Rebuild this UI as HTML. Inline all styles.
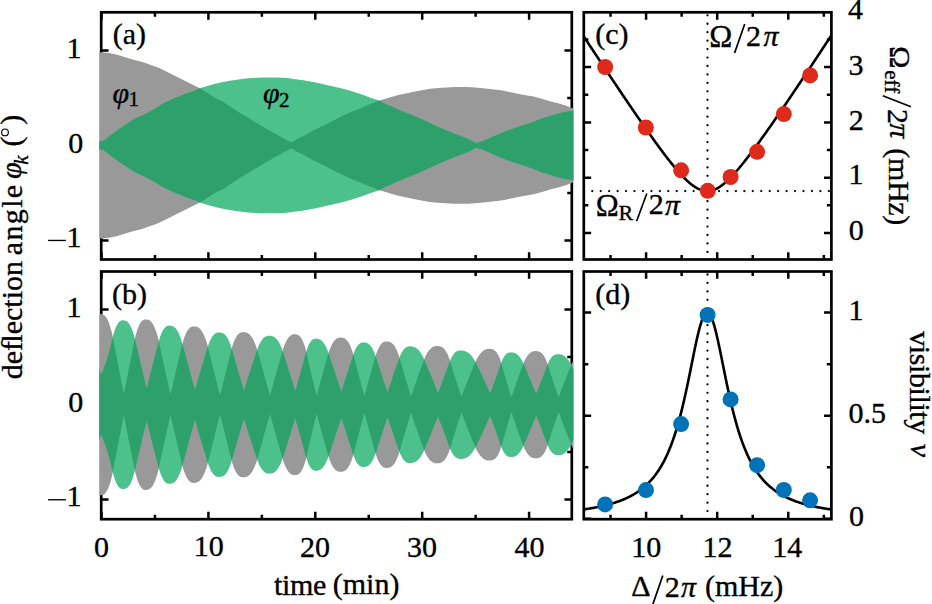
<!DOCTYPE html>
<html><head><meta charset="utf-8"><title>figure</title><style>html,body{margin:0;padding:0;background:#fff;overflow:hidden}svg{display:block}text{font-family:"Liberation Serif",serif;stroke:#000;stroke-width:0.35px}</style></head><body>
<svg width="932" height="604" viewBox="0 0 932 604" font-family="'Liberation Serif', serif">
<rect width="932" height="604" fill="#fff"/>
<rect x="101.2" y="12.3" width="470.6" height="247.2" fill="none" stroke="#000" stroke-width="2.7"/>
<path d="M101.5,259.5v-7.35M101.5,12.3v7.35M154.95,259.5v-4.55M154.95,12.3v4.55M208.4,259.5v-7.35M208.4,12.3v7.35M261.85,259.5v-4.55M261.85,12.3v4.55M315.3,259.5v-7.35M315.3,12.3v7.35M368.75,259.5v-4.55M368.75,12.3v4.55M422.2,259.5v-7.35M422.2,12.3v7.35M475.65,259.5v-4.55M475.65,12.3v4.55M529.1,259.5v-7.35M529.1,12.3v7.35" stroke="#000" stroke-width="2.5" fill="none"/>
<path d="M101.2,240.4h7.35M571.8,240.4h-7.35M101.2,192.9h4.55M571.8,192.9h-4.55M101.2,145.4h7.35M571.8,145.4h-7.35M101.2,97.9h4.55M571.8,97.9h-4.55M101.2,50.4h7.35M571.8,50.4h-7.35" stroke="#000" stroke-width="2.5" fill="none"/>
<rect x="101.2" y="271.5" width="470.6" height="247.7" fill="none" stroke="#000" stroke-width="2.7"/>
<path d="M101.5,519.2v-7.35M101.5,271.5v7.35M154.95,519.2v-4.55M154.95,271.5v4.55M208.4,519.2v-7.35M208.4,271.5v7.35M261.85,519.2v-4.55M261.85,271.5v4.55M315.3,519.2v-7.35M315.3,271.5v7.35M368.75,519.2v-4.55M368.75,271.5v4.55M422.2,519.2v-7.35M422.2,271.5v7.35M475.65,519.2v-4.55M475.65,271.5v4.55M529.1,519.2v-7.35M529.1,271.5v7.35" stroke="#000" stroke-width="2.5" fill="none"/>
<path d="M101.2,499.6h7.35M571.8,499.6h-7.35M101.2,452.1h4.55M571.8,452.1h-4.55M101.2,404.6h7.35M571.8,404.6h-7.35M101.2,357.1h4.55M571.8,357.1h-4.55M101.2,309.6h7.35M571.8,309.6h-7.35" stroke="#000" stroke-width="2.5" fill="none"/>
<path d="M99.3,52.2 L99.8,52.2 L100.3,52.2 L100.8,52.21 L101.3,52.23 L101.8,52.26 L102.3,52.29 L102.8,52.33 L103.3,52.38 L103.8,52.43 L104.3,52.48 L104.8,52.54 L105.3,52.6 L105.8,52.67 L106.3,52.73 L106.8,52.8 L107.3,52.87 L107.8,52.93 L108.3,53 L108.8,53.07 L109.3,53.14 L109.8,53.21 L110.3,53.3 L110.8,53.38 L111.3,53.47 L111.8,53.56 L112.3,53.66 L112.8,53.76 L113.3,53.86 L113.8,53.97 L114.3,54.07 L114.8,54.19 L115.3,54.3 L115.8,54.41 L116.3,54.53 L116.8,54.65 L117.3,54.77 L117.8,54.91 L118.3,55.05 L118.8,55.19 L119.3,55.34 L119.8,55.5 L120.3,55.65 L120.8,55.81 L121.3,55.98 L121.8,56.14 L122.3,56.3 L122.8,56.47 L123.3,56.63 L123.8,56.79 L124.3,56.95 L124.8,57.1 L125.3,57.25 L125.8,57.41 L126.3,57.56 L126.8,57.71 L127.3,57.87 L127.8,58.02 L128.3,58.18 L128.8,58.33 L129.3,58.49 L129.8,58.64 L130.3,58.79 L130.8,58.94 L131.3,59.09 L131.8,59.23 L132.3,59.38 L132.8,59.52 L133.3,59.65 L133.8,59.79 L134.3,59.92 L134.8,60.04 L135.3,60.17 L135.8,60.29 L136.3,60.41 L136.8,60.52 L137.3,60.64 L137.8,60.76 L138.3,60.88 L138.8,61 L139.3,61.13 L139.8,61.26 L140.3,61.39 L140.8,61.53 L141.3,61.67 L141.8,61.82 L142.3,61.97 L142.8,62.13 L143.3,62.3 L143.8,62.47 L144.3,62.64 L144.8,62.82 L145.3,63 L145.8,63.18 L146.3,63.36 L146.8,63.55 L147.3,63.73 L147.8,63.91 L148.3,64.1 L148.8,64.28 L149.3,64.46 L149.8,64.64 L150.3,64.81 L150.8,64.98 L151.3,65.15 L151.8,65.32 L152.3,65.49 L152.8,65.66 L153.3,65.83 L153.8,66 L154.3,66.17 L154.8,66.34 L155.3,66.52 L155.8,66.7 L156.3,66.88 L156.8,67.07 L157.3,67.26 L157.8,67.46 L158.3,67.66 L158.8,67.88 L159.3,68.1 L159.8,68.32 L160.3,68.56 L160.8,68.79 L161.3,69.03 L161.8,69.27 L162.3,69.52 L162.8,69.76 L163.3,70 L163.8,70.24 L164.3,70.49 L164.8,70.74 L165.3,70.99 L165.8,71.24 L166.3,71.49 L166.8,71.75 L167.3,72 L167.8,72.26 L168.3,72.51 L168.8,72.77 L169.3,73.03 L169.8,73.29 L170.3,73.54 L170.8,73.8 L171.3,74.05 L171.8,74.3 L172.3,74.55 L172.8,74.8 L173.3,75.05 L173.8,75.3 L174.3,75.55 L174.8,75.8 L175.3,76.05 L175.8,76.3 L176.3,76.55 L176.8,76.8 L177.3,77.05 L177.8,77.3 L178.3,77.55 L178.8,77.8 L179.3,78.05 L179.8,78.3 L180.3,78.55 L180.8,78.8 L181.3,79.06 L181.8,79.31 L182.3,79.56 L182.8,79.82 L183.3,80.07 L183.8,80.33 L184.3,80.58 L184.8,80.84 L185.3,81.09 L185.8,81.34 L186.3,81.59 L186.8,81.85 L187.3,82.1 L187.8,82.35 L188.3,82.6 L188.8,82.85 L189.3,83.1 L189.8,83.34 L190.3,83.59 L190.8,83.83 L191.3,84.08 L191.8,84.32 L192.3,84.57 L192.8,84.81 L193.3,85.06 L193.8,85.3 L194.3,85.55 L194.8,85.8 L195.3,86.05 L195.8,86.3 L196.3,86.55 L196.8,86.8 L197.3,87.05 L197.8,87.31 L198.3,87.56 L198.8,87.82 L199.3,88.08 L199.8,88.35 L200.3,88.63 L200.8,88.91 L201.3,89.19 L201.8,89.48 L202.3,89.77 L202.8,90.06 L203.3,90.36 L203.8,90.66 L204.3,90.96 L204.8,91.26 L205.3,91.57 L205.8,91.88 L206.3,92.2 L206.8,92.53 L207.3,92.86 L207.8,93.19 L208.3,93.52 L208.8,93.86 L209.3,94.19 L209.8,94.53 L210.3,94.87 L210.8,95.2 L211.3,95.53 L211.8,95.86 L212.3,96.18 L212.8,96.49 L213.3,96.8 L213.8,97.11 L214.3,97.4 L214.8,97.69 L215.3,97.96 L215.8,98.23 L216.3,98.49 L216.8,98.73 L217.3,98.97 L217.8,99.21 L218.3,99.44 L218.8,99.67 L219.3,99.9 L219.8,100.13 L220.3,100.37 L220.8,100.6 L221.3,100.85 L221.8,101.1 L222.3,101.35 L222.8,101.62 L223.3,101.9 L223.8,102.19 L224.3,102.49 L224.8,102.81 L225.3,103.13 L225.8,103.46 L226.3,103.8 L226.8,104.15 L227.3,104.49 L227.8,104.85 L228.3,105.2 L228.8,105.56 L229.3,105.91 L229.8,106.26 L230.3,106.61 L230.8,106.96 L231.3,107.3 L231.8,107.63 L232.3,107.97 L232.8,108.3 L233.3,108.64 L233.8,108.97 L234.3,109.31 L234.8,109.64 L235.3,109.98 L235.8,110.31 L236.3,110.64 L236.8,110.97 L237.3,111.3 L237.8,111.63 L238.3,111.95 L238.8,112.27 L239.3,112.59 L239.8,112.9 L240.3,113.21 L240.8,113.51 L241.3,113.82 L241.8,114.12 L242.3,114.41 L242.8,114.71 L243.3,115 L243.8,115.29 L244.3,115.58 L244.8,115.87 L245.3,116.16 L245.8,116.45 L246.3,116.74 L246.8,117.03 L247.3,117.33 L247.8,117.62 L248.3,117.92 L248.8,118.22 L249.3,118.52 L249.8,118.82 L250.3,119.12 L250.8,119.42 L251.3,119.72 L251.8,120.02 L252.3,120.32 L252.8,120.63 L253.3,120.93 L253.8,121.23 L254.3,121.53 L254.8,121.83 L255.3,122.14 L255.8,122.44 L256.3,122.74 L256.8,123.04 L257.3,123.34 L257.8,123.65 L258.3,123.95 L258.8,124.25 L259.3,124.55 L259.8,124.86 L260.3,125.16 L260.8,125.46 L261.3,125.76 L261.8,126.06 L262.3,126.37 L262.8,126.67 L263.3,126.97 L263.8,127.26 L264.3,127.56 L264.8,127.86 L265.3,128.16 L265.8,128.45 L266.3,128.75 L266.8,129.04 L267.3,129.34 L267.8,129.63 L268.3,129.92 L268.8,130.21 L269.3,130.5 L269.8,130.79 L270.3,131.07 L270.8,131.35 L271.3,131.62 L271.8,131.9 L272.3,132.17 L272.8,132.44 L273.3,132.71 L273.8,132.98 L274.3,133.25 L274.8,133.52 L275.3,133.79 L275.8,134.06 L276.3,134.33 L276.8,134.61 L277.3,134.89 L277.8,135.17 L278.3,135.45 L278.8,135.73 L279.3,136.02 L279.8,136.3 L280.3,136.58 L280.8,136.87 L281.3,137.15 L281.8,137.43 L282.3,137.71 L282.8,137.98 L283.3,138.25 L283.8,138.53 L284.3,138.8 L284.8,139.07 L285.3,139.35 L285.8,139.62 L286.3,139.88 L286.8,140.15 L287.3,140.41 L287.8,140.66 L288.3,140.9 L288.8,141.15 L289.3,141.44 L289.8,141.73 L290.3,141.98 L290.8,142.15 L291.3,142.2 L291.8,142.1 L292.3,141.89 L292.8,141.61 L293.3,141.3 L293.8,141.01 L294.3,140.74 L294.8,140.47 L295.3,140.18 L295.8,139.89 L296.3,139.61 L296.8,139.34 L297.3,139.07 L297.8,138.81 L298.3,138.55 L298.8,138.3 L299.3,138.04 L299.8,137.79 L300.3,137.54 L300.8,137.29 L301.3,137.03 L301.8,136.78 L302.3,136.52 L302.8,136.26 L303.3,135.99 L303.8,135.73 L304.3,135.46 L304.8,135.19 L305.3,134.91 L305.8,134.64 L306.3,134.36 L306.8,134.09 L307.3,133.81 L307.8,133.54 L308.3,133.26 L308.8,132.99 L309.3,132.72 L309.8,132.45 L310.3,132.17 L310.8,131.9 L311.3,131.63 L311.8,131.35 L312.3,131.08 L312.8,130.8 L313.3,130.53 L313.8,130.26 L314.3,129.99 L314.8,129.72 L315.3,129.46 L315.8,129.2 L316.3,128.95 L316.8,128.7 L317.3,128.46 L317.8,128.22 L318.3,127.98 L318.8,127.75 L319.3,127.51 L319.8,127.28 L320.3,127.05 L320.8,126.83 L321.3,126.6 L321.8,126.36 L322.3,126.13 L322.8,125.9 L323.3,125.66 L323.8,125.42 L324.3,125.18 L324.8,124.94 L325.3,124.71 L325.8,124.47 L326.3,124.23 L326.8,123.99 L327.3,123.74 L327.8,123.5 L328.3,123.25 L328.8,123 L329.3,122.75 L329.8,122.5 L330.3,122.24 L330.8,121.97 L331.3,121.7 L331.8,121.43 L332.3,121.15 L332.8,120.87 L333.3,120.6 L333.8,120.32 L334.3,120.04 L334.8,119.77 L335.3,119.49 L335.8,119.22 L336.3,118.96 L336.8,118.7 L337.3,118.45 L337.8,118.2 L338.3,117.95 L338.8,117.71 L339.3,117.47 L339.8,117.23 L340.3,116.99 L340.8,116.75 L341.3,116.52 L341.8,116.28 L342.3,116.05 L342.8,115.82 L343.3,115.59 L343.8,115.36 L344.3,115.12 L344.8,114.89 L345.3,114.66 L345.8,114.43 L346.3,114.19 L346.8,113.96 L347.3,113.73 L347.8,113.49 L348.3,113.26 L348.8,113.03 L349.3,112.8 L349.8,112.57 L350.3,112.35 L350.8,112.13 L351.3,111.91 L351.8,111.69 L352.3,111.48 L352.8,111.28 L353.3,111.08 L353.8,110.88 L354.3,110.69 L354.8,110.5 L355.3,110.32 L355.8,110.13 L356.3,109.95 L356.8,109.77 L357.3,109.58 L357.8,109.4 L358.3,109.21 L358.8,109.02 L359.3,108.82 L359.8,108.62 L360.3,108.42 L360.8,108.2 L361.3,107.98 L361.8,107.75 L362.3,107.52 L362.8,107.29 L363.3,107.06 L363.8,106.83 L364.3,106.61 L364.8,106.39 L365.3,106.17 L365.8,105.96 L366.3,105.75 L366.8,105.54 L367.3,105.34 L367.8,105.13 L368.3,104.93 L368.8,104.73 L369.3,104.52 L369.8,104.32 L370.3,104.12 L370.8,103.92 L371.3,103.72 L371.8,103.52 L372.3,103.32 L372.8,103.11 L373.3,102.9 L373.8,102.69 L374.3,102.48 L374.8,102.28 L375.3,102.07 L375.8,101.86 L376.3,101.66 L376.8,101.47 L377.3,101.27 L377.8,101.09 L378.3,100.91 L378.8,100.73 L379.3,100.57 L379.8,100.41 L380.3,100.26 L380.8,100.12 L381.3,99.98 L381.8,99.84 L382.3,99.71 L382.8,99.58 L383.3,99.44 L383.8,99.31 L384.3,99.17 L384.8,99.03 L385.3,98.88 L385.8,98.73 L386.3,98.58 L386.8,98.43 L387.3,98.28 L387.8,98.13 L388.3,97.97 L388.8,97.82 L389.3,97.66 L389.8,97.51 L390.3,97.36 L390.8,97.21 L391.3,97.06 L391.8,96.91 L392.3,96.76 L392.8,96.61 L393.3,96.46 L393.8,96.31 L394.3,96.16 L394.8,96.01 L395.3,95.86 L395.8,95.72 L396.3,95.57 L396.8,95.44 L397.3,95.3 L397.8,95.17 L398.3,95.05 L398.8,94.93 L399.3,94.82 L399.8,94.71 L400.3,94.6 L400.8,94.5 L401.3,94.39 L401.8,94.29 L402.3,94.19 L402.8,94.09 L403.3,93.99 L403.8,93.89 L404.3,93.78 L404.8,93.68 L405.3,93.57 L405.8,93.47 L406.3,93.36 L406.8,93.26 L407.3,93.15 L407.8,93.05 L408.3,92.94 L408.8,92.84 L409.3,92.73 L409.8,92.63 L410.3,92.53 L410.8,92.42 L411.3,92.32 L411.8,92.22 L412.3,92.12 L412.8,92.01 L413.3,91.91 L413.8,91.81 L414.3,91.71 L414.8,91.61 L415.3,91.51 L415.8,91.41 L416.3,91.31 L416.8,91.21 L417.3,91.11 L417.8,91.01 L418.3,90.92 L418.8,90.82 L419.3,90.73 L419.8,90.64 L420.3,90.54 L420.8,90.45 L421.3,90.36 L421.8,90.26 L422.3,90.17 L422.8,90.07 L423.3,89.97 L423.8,89.88 L424.3,89.78 L424.8,89.69 L425.3,89.6 L425.8,89.5 L426.3,89.41 L426.8,89.32 L427.3,89.24 L427.8,89.15 L428.3,89.07 L428.8,88.99 L429.3,88.92 L429.8,88.85 L430.3,88.78 L430.8,88.71 L431.3,88.65 L431.8,88.6 L432.3,88.55 L432.8,88.5 L433.3,88.45 L433.8,88.4 L434.3,88.36 L434.8,88.31 L435.3,88.27 L435.8,88.23 L436.3,88.19 L436.8,88.15 L437.3,88.11 L437.8,88.08 L438.3,88.04 L438.8,88.01 L439.3,87.97 L439.8,87.94 L440.3,87.91 L440.8,87.87 L441.3,87.84 L441.8,87.81 L442.3,87.78 L442.8,87.75 L443.3,87.72 L443.8,87.69 L444.3,87.66 L444.8,87.62 L445.3,87.59 L445.8,87.56 L446.3,87.52 L446.8,87.49 L447.3,87.45 L447.8,87.42 L448.3,87.39 L448.8,87.35 L449.3,87.32 L449.8,87.29 L450.3,87.26 L450.8,87.24 L451.3,87.21 L451.8,87.19 L452.3,87.17 L452.8,87.15 L453.3,87.13 L453.8,87.12 L454.3,87.11 L454.8,87.1 L455.3,87.1 L455.8,87.1 L456.3,87.1 L456.8,87.1 L457.3,87.1 L457.8,87.1 L458.3,87.1 L458.8,87.1 L459.3,87.1 L459.8,87.1 L460.3,87.1 L460.8,87.1 L461.3,87.1 L461.8,87.1 L462.3,87.1 L462.8,87.1 L463.3,87.1 L463.8,87.1 L464.3,87.1 L464.8,87.1 L465.3,87.1 L465.8,87.1 L466.3,87.1 L466.8,87.1 L467.3,87.1 L467.8,87.1 L468.3,87.11 L468.8,87.12 L469.3,87.14 L469.8,87.16 L470.3,87.19 L470.8,87.22 L471.3,87.25 L471.8,87.28 L472.3,87.32 L472.8,87.36 L473.3,87.4 L473.8,87.44 L474.3,87.48 L474.8,87.53 L475.3,87.57 L475.8,87.62 L476.3,87.66 L476.8,87.71 L477.3,87.75 L477.8,87.8 L478.3,87.84 L478.8,87.88 L479.3,87.92 L479.8,87.97 L480.3,88.01 L480.8,88.05 L481.3,88.1 L481.8,88.15 L482.3,88.19 L482.8,88.24 L483.3,88.29 L483.8,88.34 L484.3,88.39 L484.8,88.44 L485.3,88.5 L485.8,88.55 L486.3,88.6 L486.8,88.66 L487.3,88.71 L487.8,88.76 L488.3,88.82 L488.8,88.88 L489.3,88.93 L489.8,88.99 L490.3,89.04 L490.8,89.1 L491.3,89.16 L491.8,89.21 L492.3,89.27 L492.8,89.33 L493.3,89.38 L493.8,89.44 L494.3,89.5 L494.8,89.56 L495.3,89.62 L495.8,89.68 L496.3,89.74 L496.8,89.8 L497.3,89.86 L497.8,89.92 L498.3,89.99 L498.8,90.05 L499.3,90.12 L499.8,90.19 L500.3,90.26 L500.8,90.33 L501.3,90.4 L501.8,90.48 L502.3,90.55 L502.8,90.63 L503.3,90.71 L503.8,90.8 L504.3,90.89 L504.8,90.98 L505.3,91.08 L505.8,91.17 L506.3,91.27 L506.8,91.38 L507.3,91.48 L507.8,91.58 L508.3,91.69 L508.8,91.8 L509.3,91.91 L509.8,92.02 L510.3,92.13 L510.8,92.24 L511.3,92.35 L511.8,92.45 L512.3,92.56 L512.8,92.67 L513.3,92.77 L513.8,92.88 L514.3,92.98 L514.8,93.08 L515.3,93.18 L515.8,93.28 L516.3,93.38 L516.8,93.49 L517.3,93.59 L517.8,93.69 L518.3,93.79 L518.8,93.89 L519.3,93.99 L519.8,94.1 L520.3,94.2 L520.8,94.3 L521.3,94.39 L521.8,94.49 L522.3,94.59 L522.8,94.69 L523.3,94.78 L523.8,94.88 L524.3,94.97 L524.8,95.06 L525.3,95.15 L525.8,95.24 L526.3,95.32 L526.8,95.41 L527.3,95.49 L527.8,95.56 L528.3,95.64 L528.8,95.72 L529.3,95.8 L529.8,95.88 L530.3,95.96 L530.8,96.04 L531.3,96.12 L531.8,96.21 L532.3,96.3 L532.8,96.4 L533.3,96.5 L533.8,96.61 L534.3,96.72 L534.8,96.83 L535.3,96.96 L535.8,97.08 L536.3,97.21 L536.8,97.34 L537.3,97.48 L537.8,97.62 L538.3,97.76 L538.8,97.9 L539.3,98.04 L539.8,98.18 L540.3,98.33 L540.8,98.47 L541.3,98.61 L541.8,98.76 L542.3,98.9 L542.8,99.05 L543.3,99.2 L543.8,99.36 L544.3,99.51 L544.8,99.67 L545.3,99.83 L545.8,99.99 L546.3,100.15 L546.8,100.3 L547.3,100.46 L547.8,100.61 L548.3,100.77 L548.8,100.91 L549.3,101.06 L549.8,101.2 L550.3,101.34 L550.8,101.47 L551.3,101.6 L551.8,101.73 L552.3,101.85 L552.8,101.97 L553.3,102.09 L553.8,102.22 L554.3,102.34 L554.8,102.46 L555.3,102.58 L555.8,102.7 L556.3,102.83 L556.8,102.95 L557.3,103.08 L557.8,103.22 L558.3,103.36 L558.8,103.49 L559.3,103.63 L559.8,103.77 L560.3,103.91 L560.8,104.05 L561.3,104.2 L561.8,104.34 L562.3,104.49 L562.8,104.64 L563.3,104.79 L563.8,104.95 L564.3,105.1 L564.8,105.26 L565.3,105.43 L565.8,105.59 L566.3,105.77 L566.8,105.94 L567.3,106.13 L567.8,106.33 L568.3,106.54 L568.8,106.76 L569.3,106.97 L569.8,107.19 L570.3,107.41 L570.8,107.62 L571.3,107.82 L571.8,108.02 L572.3,108.2 L572.8,108.36 L573.3,108.51 L573.3,182.29 L572.8,182.44 L572.3,182.6 L571.8,182.78 L571.3,182.98 L570.8,183.18 L570.3,183.39 L569.8,183.61 L569.3,183.83 L568.8,184.04 L568.3,184.26 L567.8,184.47 L567.3,184.67 L566.8,184.86 L566.3,185.03 L565.8,185.21 L565.3,185.37 L564.8,185.54 L564.3,185.7 L563.8,185.85 L563.3,186.01 L562.8,186.16 L562.3,186.31 L561.8,186.46 L561.3,186.6 L560.8,186.75 L560.3,186.89 L559.8,187.03 L559.3,187.17 L558.8,187.31 L558.3,187.44 L557.8,187.58 L557.3,187.72 L556.8,187.85 L556.3,187.97 L555.8,188.1 L555.3,188.22 L554.8,188.34 L554.3,188.46 L553.8,188.58 L553.3,188.71 L552.8,188.83 L552.3,188.95 L551.8,189.07 L551.3,189.2 L550.8,189.33 L550.3,189.46 L549.8,189.6 L549.3,189.74 L548.8,189.89 L548.3,190.03 L547.8,190.19 L547.3,190.34 L546.8,190.5 L546.3,190.65 L545.8,190.81 L545.3,190.97 L544.8,191.13 L544.3,191.29 L543.8,191.44 L543.3,191.6 L542.8,191.75 L542.3,191.9 L541.8,192.04 L541.3,192.19 L540.8,192.33 L540.3,192.47 L539.8,192.62 L539.3,192.76 L538.8,192.9 L538.3,193.04 L537.8,193.18 L537.3,193.32 L536.8,193.46 L536.3,193.59 L535.8,193.72 L535.3,193.84 L534.8,193.97 L534.3,194.08 L533.8,194.19 L533.3,194.3 L532.8,194.4 L532.3,194.5 L531.8,194.59 L531.3,194.68 L530.8,194.76 L530.3,194.84 L529.8,194.92 L529.3,195 L528.8,195.08 L528.3,195.16 L527.8,195.24 L527.3,195.31 L526.8,195.39 L526.3,195.48 L525.8,195.56 L525.3,195.65 L524.8,195.74 L524.3,195.83 L523.8,195.92 L523.3,196.02 L522.8,196.11 L522.3,196.21 L521.8,196.31 L521.3,196.41 L520.8,196.5 L520.3,196.6 L519.8,196.7 L519.3,196.81 L518.8,196.91 L518.3,197.01 L517.8,197.11 L517.3,197.21 L516.8,197.31 L516.3,197.42 L515.8,197.52 L515.3,197.62 L514.8,197.72 L514.3,197.82 L513.8,197.92 L513.3,198.03 L512.8,198.13 L512.3,198.24 L511.8,198.35 L511.3,198.45 L510.8,198.56 L510.3,198.67 L509.8,198.78 L509.3,198.89 L508.8,199 L508.3,199.11 L507.8,199.22 L507.3,199.32 L506.8,199.42 L506.3,199.53 L505.8,199.63 L505.3,199.72 L504.8,199.82 L504.3,199.91 L503.8,200 L503.3,200.09 L502.8,200.17 L502.3,200.25 L501.8,200.32 L501.3,200.4 L500.8,200.47 L500.3,200.54 L499.8,200.61 L499.3,200.68 L498.8,200.75 L498.3,200.81 L497.8,200.88 L497.3,200.94 L496.8,201 L496.3,201.06 L495.8,201.12 L495.3,201.18 L494.8,201.24 L494.3,201.3 L493.8,201.36 L493.3,201.42 L492.8,201.47 L492.3,201.53 L491.8,201.59 L491.3,201.64 L490.8,201.7 L490.3,201.76 L489.8,201.81 L489.3,201.87 L488.8,201.92 L488.3,201.98 L487.8,202.04 L487.3,202.09 L486.8,202.14 L486.3,202.2 L485.8,202.25 L485.3,202.3 L484.8,202.36 L484.3,202.41 L483.8,202.46 L483.3,202.51 L482.8,202.56 L482.3,202.61 L481.8,202.65 L481.3,202.7 L480.8,202.75 L480.3,202.79 L479.8,202.83 L479.3,202.88 L478.8,202.92 L478.3,202.96 L477.8,203 L477.3,203.05 L476.8,203.09 L476.3,203.14 L475.8,203.18 L475.3,203.23 L474.8,203.27 L474.3,203.32 L473.8,203.36 L473.3,203.4 L472.8,203.44 L472.3,203.48 L471.8,203.52 L471.3,203.55 L470.8,203.58 L470.3,203.61 L469.8,203.64 L469.3,203.66 L468.8,203.68 L468.3,203.69 L467.8,203.7 L467.3,203.7 L466.8,203.7 L466.3,203.7 L465.8,203.7 L465.3,203.7 L464.8,203.7 L464.3,203.7 L463.8,203.7 L463.3,203.7 L462.8,203.7 L462.3,203.7 L461.8,203.7 L461.3,203.7 L460.8,203.7 L460.3,203.7 L459.8,203.7 L459.3,203.7 L458.8,203.7 L458.3,203.7 L457.8,203.7 L457.3,203.7 L456.8,203.7 L456.3,203.7 L455.8,203.7 L455.3,203.7 L454.8,203.7 L454.3,203.69 L453.8,203.68 L453.3,203.67 L452.8,203.65 L452.3,203.63 L451.8,203.61 L451.3,203.59 L450.8,203.56 L450.3,203.54 L449.8,203.51 L449.3,203.48 L448.8,203.45 L448.3,203.41 L447.8,203.38 L447.3,203.35 L446.8,203.31 L446.3,203.28 L445.8,203.24 L445.3,203.21 L444.8,203.18 L444.3,203.14 L443.8,203.11 L443.3,203.08 L442.8,203.05 L442.3,203.02 L441.8,202.99 L441.3,202.96 L440.8,202.93 L440.3,202.89 L439.8,202.86 L439.3,202.83 L438.8,202.79 L438.3,202.76 L437.8,202.72 L437.3,202.69 L436.8,202.65 L436.3,202.61 L435.8,202.57 L435.3,202.53 L434.8,202.49 L434.3,202.44 L433.8,202.4 L433.3,202.35 L432.8,202.3 L432.3,202.25 L431.8,202.2 L431.3,202.15 L430.8,202.09 L430.3,202.02 L429.8,201.95 L429.3,201.88 L428.8,201.81 L428.3,201.73 L427.8,201.65 L427.3,201.56 L426.8,201.48 L426.3,201.39 L425.8,201.3 L425.3,201.2 L424.8,201.11 L424.3,201.02 L423.8,200.92 L423.3,200.83 L422.8,200.73 L422.3,200.63 L421.8,200.54 L421.3,200.44 L420.8,200.35 L420.3,200.26 L419.8,200.16 L419.3,200.07 L418.8,199.98 L418.3,199.88 L417.8,199.79 L417.3,199.69 L416.8,199.59 L416.3,199.49 L415.8,199.39 L415.3,199.29 L414.8,199.19 L414.3,199.09 L413.8,198.99 L413.3,198.89 L412.8,198.79 L412.3,198.68 L411.8,198.58 L411.3,198.48 L410.8,198.38 L410.3,198.27 L409.8,198.17 L409.3,198.07 L408.8,197.96 L408.3,197.86 L407.8,197.75 L407.3,197.65 L406.8,197.54 L406.3,197.44 L405.8,197.33 L405.3,197.23 L404.8,197.12 L404.3,197.02 L403.8,196.91 L403.3,196.81 L402.8,196.71 L402.3,196.61 L401.8,196.51 L401.3,196.41 L400.8,196.3 L400.3,196.2 L399.8,196.09 L399.3,195.98 L398.8,195.87 L398.3,195.75 L397.8,195.63 L397.3,195.5 L396.8,195.36 L396.3,195.23 L395.8,195.08 L395.3,194.94 L394.8,194.79 L394.3,194.64 L393.8,194.49 L393.3,194.34 L392.8,194.19 L392.3,194.04 L391.8,193.89 L391.3,193.74 L390.8,193.59 L390.3,193.44 L389.8,193.29 L389.3,193.14 L388.8,192.98 L388.3,192.83 L387.8,192.67 L387.3,192.52 L386.8,192.37 L386.3,192.22 L385.8,192.07 L385.3,191.92 L384.8,191.77 L384.3,191.63 L383.8,191.49 L383.3,191.36 L382.8,191.22 L382.3,191.09 L381.8,190.96 L381.3,190.82 L380.8,190.68 L380.3,190.54 L379.8,190.39 L379.3,190.23 L378.8,190.07 L378.3,189.89 L377.8,189.71 L377.3,189.53 L376.8,189.33 L376.3,189.14 L375.8,188.94 L375.3,188.73 L374.8,188.52 L374.3,188.32 L373.8,188.11 L373.3,187.9 L372.8,187.69 L372.3,187.48 L371.8,187.28 L371.3,187.08 L370.8,186.88 L370.3,186.68 L369.8,186.48 L369.3,186.28 L368.8,186.07 L368.3,185.87 L367.8,185.67 L367.3,185.46 L366.8,185.26 L366.3,185.05 L365.8,184.84 L365.3,184.63 L364.8,184.41 L364.3,184.19 L363.8,183.97 L363.3,183.74 L362.8,183.51 L362.3,183.28 L361.8,183.05 L361.3,182.82 L360.8,182.6 L360.3,182.38 L359.8,182.18 L359.3,181.98 L358.8,181.78 L358.3,181.59 L357.8,181.4 L357.3,181.22 L356.8,181.03 L356.3,180.85 L355.8,180.67 L355.3,180.48 L354.8,180.3 L354.3,180.11 L353.8,179.92 L353.3,179.72 L352.8,179.52 L352.3,179.32 L351.8,179.11 L351.3,178.89 L350.8,178.67 L350.3,178.45 L349.8,178.23 L349.3,178 L348.8,177.77 L348.3,177.54 L347.8,177.31 L347.3,177.07 L346.8,176.84 L346.3,176.61 L345.8,176.37 L345.3,176.14 L344.8,175.91 L344.3,175.68 L343.8,175.44 L343.3,175.21 L342.8,174.98 L342.3,174.75 L341.8,174.52 L341.3,174.28 L340.8,174.05 L340.3,173.81 L339.8,173.57 L339.3,173.33 L338.8,173.09 L338.3,172.85 L337.8,172.6 L337.3,172.35 L336.8,172.1 L336.3,171.84 L335.8,171.58 L335.3,171.31 L334.8,171.03 L334.3,170.76 L333.8,170.48 L333.3,170.2 L332.8,169.93 L332.3,169.65 L331.8,169.37 L331.3,169.1 L330.8,168.83 L330.3,168.56 L329.8,168.3 L329.3,168.05 L328.8,167.8 L328.3,167.55 L327.8,167.3 L327.3,167.06 L326.8,166.81 L326.3,166.57 L325.8,166.33 L325.3,166.09 L324.8,165.86 L324.3,165.62 L323.8,165.38 L323.3,165.14 L322.8,164.9 L322.3,164.67 L321.8,164.44 L321.3,164.2 L320.8,163.97 L320.3,163.75 L319.8,163.52 L319.3,163.29 L318.8,163.05 L318.3,162.82 L317.8,162.58 L317.3,162.34 L316.8,162.1 L316.3,161.85 L315.8,161.6 L315.3,161.34 L314.8,161.08 L314.3,160.81 L313.8,160.54 L313.3,160.27 L312.8,160 L312.3,159.72 L311.8,159.45 L311.3,159.17 L310.8,158.9 L310.3,158.63 L309.8,158.35 L309.3,158.08 L308.8,157.81 L308.3,157.54 L307.8,157.26 L307.3,156.99 L306.8,156.71 L306.3,156.44 L305.8,156.16 L305.3,155.89 L304.8,155.61 L304.3,155.34 L303.8,155.07 L303.3,154.81 L302.8,154.54 L302.3,154.28 L301.8,154.02 L301.3,153.77 L300.8,153.51 L300.3,153.26 L299.8,153.01 L299.3,152.76 L298.8,152.5 L298.3,152.25 L297.8,151.99 L297.3,151.73 L296.8,151.46 L296.3,151.19 L295.8,150.91 L295.3,150.62 L294.8,150.33 L294.3,150.06 L293.8,149.79 L293.3,149.5 L292.8,149.19 L292.3,148.91 L291.8,148.7 L291.3,148.6 L290.8,148.65 L290.3,148.82 L289.8,149.07 L289.3,149.36 L288.8,149.65 L288.3,149.9 L287.8,150.14 L287.3,150.39 L286.8,150.65 L286.3,150.92 L285.8,151.18 L285.3,151.45 L284.8,151.73 L284.3,152 L283.8,152.27 L283.3,152.55 L282.8,152.82 L282.3,153.09 L281.8,153.37 L281.3,153.65 L280.8,153.93 L280.3,154.22 L279.8,154.5 L279.3,154.78 L278.8,155.07 L278.3,155.35 L277.8,155.63 L277.3,155.91 L276.8,156.19 L276.3,156.47 L275.8,156.74 L275.3,157.01 L274.8,157.28 L274.3,157.55 L273.8,157.82 L273.3,158.09 L272.8,158.36 L272.3,158.63 L271.8,158.9 L271.3,159.18 L270.8,159.45 L270.3,159.73 L269.8,160.01 L269.3,160.3 L268.8,160.59 L268.3,160.88 L267.8,161.17 L267.3,161.46 L266.8,161.76 L266.3,162.05 L265.8,162.35 L265.3,162.64 L264.8,162.94 L264.3,163.24 L263.8,163.54 L263.3,163.83 L262.8,164.13 L262.3,164.43 L261.8,164.74 L261.3,165.04 L260.8,165.34 L260.3,165.64 L259.8,165.94 L259.3,166.25 L258.8,166.55 L258.3,166.85 L257.8,167.15 L257.3,167.46 L256.8,167.76 L256.3,168.06 L255.8,168.36 L255.3,168.66 L254.8,168.97 L254.3,169.27 L253.8,169.57 L253.3,169.87 L252.8,170.17 L252.3,170.48 L251.8,170.78 L251.3,171.08 L250.8,171.38 L250.3,171.68 L249.8,171.98 L249.3,172.28 L248.8,172.58 L248.3,172.88 L247.8,173.18 L247.3,173.47 L246.8,173.77 L246.3,174.06 L245.8,174.35 L245.3,174.64 L244.8,174.93 L244.3,175.22 L243.8,175.51 L243.3,175.8 L242.8,176.09 L242.3,176.39 L241.8,176.68 L241.3,176.98 L240.8,177.29 L240.3,177.59 L239.8,177.9 L239.3,178.21 L238.8,178.53 L238.3,178.85 L237.8,179.17 L237.3,179.5 L236.8,179.83 L236.3,180.16 L235.8,180.49 L235.3,180.82 L234.8,181.16 L234.3,181.49 L233.8,181.83 L233.3,182.16 L232.8,182.5 L232.3,182.83 L231.8,183.17 L231.3,183.5 L230.8,183.84 L230.3,184.19 L229.8,184.54 L229.3,184.89 L228.8,185.24 L228.3,185.6 L227.8,185.95 L227.3,186.31 L226.8,186.65 L226.3,187 L225.8,187.34 L225.3,187.67 L224.8,187.99 L224.3,188.31 L223.8,188.61 L223.3,188.9 L222.8,189.18 L222.3,189.45 L221.8,189.7 L221.3,189.95 L220.8,190.2 L220.3,190.43 L219.8,190.67 L219.3,190.9 L218.8,191.13 L218.3,191.36 L217.8,191.59 L217.3,191.83 L216.8,192.07 L216.3,192.31 L215.8,192.57 L215.3,192.84 L214.8,193.11 L214.3,193.4 L213.8,193.69 L213.3,194 L212.8,194.31 L212.3,194.62 L211.8,194.94 L211.3,195.27 L210.8,195.6 L210.3,195.93 L209.8,196.27 L209.3,196.61 L208.8,196.94 L208.3,197.28 L207.8,197.61 L207.3,197.94 L206.8,198.27 L206.3,198.6 L205.8,198.92 L205.3,199.23 L204.8,199.54 L204.3,199.84 L203.8,200.14 L203.3,200.44 L202.8,200.74 L202.3,201.03 L201.8,201.32 L201.3,201.61 L200.8,201.89 L200.3,202.17 L199.8,202.45 L199.3,202.72 L198.8,202.98 L198.3,203.24 L197.8,203.49 L197.3,203.75 L196.8,204 L196.3,204.25 L195.8,204.5 L195.3,204.75 L194.8,205 L194.3,205.25 L193.8,205.5 L193.3,205.74 L192.8,205.99 L192.3,206.23 L191.8,206.48 L191.3,206.72 L190.8,206.97 L190.3,207.21 L189.8,207.46 L189.3,207.7 L188.8,207.95 L188.3,208.2 L187.8,208.45 L187.3,208.7 L186.8,208.95 L186.3,209.21 L185.8,209.46 L185.3,209.71 L184.8,209.96 L184.3,210.22 L183.8,210.47 L183.3,210.73 L182.8,210.98 L182.3,211.24 L181.8,211.49 L181.3,211.74 L180.8,212 L180.3,212.25 L179.8,212.5 L179.3,212.75 L178.8,213 L178.3,213.25 L177.8,213.5 L177.3,213.75 L176.8,214 L176.3,214.25 L175.8,214.5 L175.3,214.75 L174.8,215 L174.3,215.25 L173.8,215.5 L173.3,215.75 L172.8,216 L172.3,216.25 L171.8,216.5 L171.3,216.75 L170.8,217 L170.3,217.26 L169.8,217.51 L169.3,217.77 L168.8,218.03 L168.3,218.29 L167.8,218.54 L167.3,218.8 L166.8,219.05 L166.3,219.31 L165.8,219.56 L165.3,219.81 L164.8,220.06 L164.3,220.31 L163.8,220.56 L163.3,220.8 L162.8,221.04 L162.3,221.28 L161.8,221.53 L161.3,221.77 L160.8,222.01 L160.3,222.24 L159.8,222.48 L159.3,222.7 L158.8,222.92 L158.3,223.14 L157.8,223.34 L157.3,223.54 L156.8,223.73 L156.3,223.92 L155.8,224.1 L155.3,224.28 L154.8,224.46 L154.3,224.63 L153.8,224.8 L153.3,224.97 L152.8,225.14 L152.3,225.31 L151.8,225.48 L151.3,225.65 L150.8,225.82 L150.3,225.99 L149.8,226.16 L149.3,226.34 L148.8,226.52 L148.3,226.7 L147.8,226.89 L147.3,227.07 L146.8,227.25 L146.3,227.44 L145.8,227.62 L145.3,227.8 L144.8,227.98 L144.3,228.16 L143.8,228.33 L143.3,228.5 L142.8,228.67 L142.3,228.83 L141.8,228.98 L141.3,229.13 L140.8,229.27 L140.3,229.41 L139.8,229.54 L139.3,229.67 L138.8,229.8 L138.3,229.92 L137.8,230.04 L137.3,230.16 L136.8,230.28 L136.3,230.39 L135.8,230.51 L135.3,230.63 L134.8,230.76 L134.3,230.88 L133.8,231.01 L133.3,231.15 L132.8,231.28 L132.3,231.42 L131.8,231.57 L131.3,231.71 L130.8,231.86 L130.3,232.01 L129.8,232.16 L129.3,232.31 L128.8,232.47 L128.3,232.62 L127.8,232.78 L127.3,232.93 L126.8,233.09 L126.3,233.24 L125.8,233.39 L125.3,233.55 L124.8,233.7 L124.3,233.85 L123.8,234.01 L123.3,234.17 L122.8,234.33 L122.3,234.5 L121.8,234.66 L121.3,234.82 L120.8,234.99 L120.3,235.15 L119.8,235.3 L119.3,235.46 L118.8,235.61 L118.3,235.75 L117.8,235.89 L117.3,236.03 L116.8,236.15 L116.3,236.27 L115.8,236.39 L115.3,236.5 L114.8,236.61 L114.3,236.73 L113.8,236.83 L113.3,236.94 L112.8,237.04 L112.3,237.14 L111.8,237.24 L111.3,237.33 L110.8,237.42 L110.3,237.5 L109.8,237.59 L109.3,237.66 L108.8,237.73 L108.3,237.8 L107.8,237.87 L107.3,237.93 L106.8,238 L106.3,238.07 L105.8,238.13 L105.3,238.2 L104.8,238.26 L104.3,238.32 L103.8,238.37 L103.3,238.42 L102.8,238.47 L102.3,238.51 L101.8,238.54 L101.3,238.57 L100.8,238.59 L100.3,238.6 L99.8,238.6 L99.3,238.6Z" fill="#999999"/>
<path d="M99.3,141.43 L99.8,141.35 L100.3,141.26 L100.8,141.16 L101.3,141.05 L101.8,140.92 L102.3,140.79 L102.8,140.64 L103.3,140.47 L103.8,140.28 L104.3,140.06 L104.8,139.8 L105.3,139.5 L105.8,139.16 L106.3,138.79 L106.8,138.4 L107.3,137.98 L107.8,137.55 L108.3,137.11 L108.8,136.66 L109.3,136.21 L109.8,135.77 L110.3,135.34 L110.8,134.92 L111.3,134.53 L111.8,134.15 L112.3,133.79 L112.8,133.42 L113.3,133.06 L113.8,132.7 L114.3,132.34 L114.8,131.98 L115.3,131.62 L115.8,131.27 L116.3,130.92 L116.8,130.57 L117.3,130.22 L117.8,129.87 L118.3,129.52 L118.8,129.18 L119.3,128.83 L119.8,128.49 L120.3,128.15 L120.8,127.81 L121.3,127.47 L121.8,127.14 L122.3,126.8 L122.8,126.47 L123.3,126.13 L123.8,125.8 L124.3,125.46 L124.8,125.13 L125.3,124.79 L125.8,124.46 L126.3,124.12 L126.8,123.79 L127.3,123.45 L127.8,123.12 L128.3,122.79 L128.8,122.46 L129.3,122.13 L129.8,121.81 L130.3,121.49 L130.8,121.17 L131.3,120.86 L131.8,120.55 L132.3,120.25 L132.8,119.95 L133.3,119.65 L133.8,119.36 L134.3,119.08 L134.8,118.8 L135.3,118.53 L135.8,118.26 L136.3,118.01 L136.8,117.75 L137.3,117.5 L137.8,117.26 L138.3,117.02 L138.8,116.78 L139.3,116.55 L139.8,116.32 L140.3,116.09 L140.8,115.86 L141.3,115.63 L141.8,115.4 L142.3,115.17 L142.8,114.94 L143.3,114.71 L143.8,114.47 L144.3,114.24 L144.8,114 L145.3,113.75 L145.8,113.5 L146.3,113.25 L146.8,112.99 L147.3,112.73 L147.8,112.47 L148.3,112.21 L148.8,111.94 L149.3,111.67 L149.8,111.4 L150.3,111.13 L150.8,110.85 L151.3,110.58 L151.8,110.3 L152.3,110.02 L152.8,109.74 L153.3,109.46 L153.8,109.18 L154.3,108.9 L154.8,108.61 L155.3,108.33 L155.8,108.04 L156.3,107.75 L156.8,107.45 L157.3,107.15 L157.8,106.85 L158.3,106.54 L158.8,106.24 L159.3,105.94 L159.8,105.63 L160.3,105.33 L160.8,105.03 L161.3,104.74 L161.8,104.44 L162.3,104.16 L162.8,103.88 L163.3,103.6 L163.8,103.33 L164.3,103.06 L164.8,102.79 L165.3,102.52 L165.8,102.26 L166.3,101.99 L166.8,101.73 L167.3,101.48 L167.8,101.22 L168.3,100.97 L168.8,100.72 L169.3,100.48 L169.8,100.24 L170.3,100 L170.8,99.76 L171.3,99.54 L171.8,99.31 L172.3,99.09 L172.8,98.88 L173.3,98.67 L173.8,98.46 L174.3,98.26 L174.8,98.06 L175.3,97.86 L175.8,97.66 L176.3,97.47 L176.8,97.27 L177.3,97.08 L177.8,96.89 L178.3,96.69 L178.8,96.5 L179.3,96.3 L179.8,96.1 L180.3,95.9 L180.8,95.7 L181.3,95.5 L181.8,95.29 L182.3,95.09 L182.8,94.89 L183.3,94.68 L183.8,94.48 L184.3,94.28 L184.8,94.08 L185.3,93.88 L185.8,93.68 L186.3,93.49 L186.8,93.29 L187.3,93.1 L187.8,92.91 L188.3,92.73 L188.8,92.55 L189.3,92.37 L189.8,92.2 L190.3,92.03 L190.8,91.87 L191.3,91.71 L191.8,91.54 L192.3,91.38 L192.8,91.21 L193.3,91.05 L193.8,90.88 L194.3,90.7 L194.8,90.52 L195.3,90.34 L195.8,90.14 L196.3,89.94 L196.8,89.72 L197.3,89.48 L197.8,89.22 L198.3,88.95 L198.8,88.7 L199.3,88.46 L199.8,88.26 L200.3,88.08 L200.8,87.92 L201.3,87.76 L201.8,87.62 L202.3,87.47 L202.8,87.34 L203.3,87.2 L203.8,87.06 L204.3,86.92 L204.8,86.77 L205.3,86.62 L205.8,86.46 L206.3,86.31 L206.8,86.16 L207.3,86 L207.8,85.85 L208.3,85.7 L208.8,85.55 L209.3,85.4 L209.8,85.26 L210.3,85.12 L210.8,84.98 L211.3,84.84 L211.8,84.71 L212.3,84.57 L212.8,84.44 L213.3,84.31 L213.8,84.18 L214.3,84.05 L214.8,83.92 L215.3,83.79 L215.8,83.67 L216.3,83.55 L216.8,83.42 L217.3,83.3 L217.8,83.19 L218.3,83.07 L218.8,82.95 L219.3,82.84 L219.8,82.73 L220.3,82.61 L220.8,82.5 L221.3,82.39 L221.8,82.28 L222.3,82.17 L222.8,82.06 L223.3,81.96 L223.8,81.85 L224.3,81.75 L224.8,81.65 L225.3,81.55 L225.8,81.46 L226.3,81.36 L226.8,81.27 L227.3,81.18 L227.8,81.1 L228.3,81.01 L228.8,80.93 L229.3,80.85 L229.8,80.77 L230.3,80.7 L230.8,80.62 L231.3,80.55 L231.8,80.47 L232.3,80.4 L232.8,80.33 L233.3,80.26 L233.8,80.19 L234.3,80.12 L234.8,80.04 L235.3,79.97 L235.8,79.9 L236.3,79.83 L236.8,79.75 L237.3,79.68 L237.8,79.6 L238.3,79.52 L238.8,79.44 L239.3,79.37 L239.8,79.29 L240.3,79.22 L240.8,79.14 L241.3,79.07 L241.8,79 L242.3,78.94 L242.8,78.87 L243.3,78.81 L243.8,78.75 L244.3,78.7 L244.8,78.65 L245.3,78.6 L245.8,78.55 L246.3,78.5 L246.8,78.46 L247.3,78.41 L247.8,78.37 L248.3,78.33 L248.8,78.29 L249.3,78.25 L249.8,78.21 L250.3,78.17 L250.8,78.14 L251.3,78.1 L251.8,78.07 L252.3,78.04 L252.8,78.01 L253.3,77.98 L253.8,77.95 L254.3,77.92 L254.8,77.89 L255.3,77.86 L255.8,77.83 L256.3,77.8 L256.8,77.78 L257.3,77.75 L257.8,77.73 L258.3,77.7 L258.8,77.68 L259.3,77.66 L259.8,77.65 L260.3,77.63 L260.8,77.62 L261.3,77.6 L261.8,77.59 L262.3,77.59 L262.8,77.58 L263.3,77.57 L263.8,77.56 L264.3,77.55 L264.8,77.54 L265.3,77.54 L265.8,77.53 L266.3,77.52 L266.8,77.52 L267.3,77.51 L267.8,77.51 L268.3,77.51 L268.8,77.5 L269.3,77.5 L269.8,77.5 L270.3,77.5 L270.8,77.5 L271.3,77.5 L271.8,77.5 L272.3,77.51 L272.8,77.51 L273.3,77.52 L273.8,77.52 L274.3,77.53 L274.8,77.53 L275.3,77.54 L275.8,77.55 L276.3,77.56 L276.8,77.57 L277.3,77.57 L277.8,77.58 L278.3,77.59 L278.8,77.6 L279.3,77.61 L279.8,77.63 L280.3,77.65 L280.8,77.67 L281.3,77.69 L281.8,77.71 L282.3,77.74 L282.8,77.77 L283.3,77.8 L283.8,77.83 L284.3,77.87 L284.8,77.9 L285.3,77.94 L285.8,77.98 L286.3,78.02 L286.8,78.06 L287.3,78.1 L287.8,78.15 L288.3,78.2 L288.8,78.27 L289.3,78.33 L289.8,78.41 L290.3,78.49 L290.8,78.57 L291.3,78.65 L291.8,78.73 L292.3,78.81 L292.8,78.89 L293.3,78.96 L293.8,79.03 L294.3,79.09 L294.8,79.16 L295.3,79.22 L295.8,79.28 L296.3,79.34 L296.8,79.4 L297.3,79.46 L297.8,79.52 L298.3,79.59 L298.8,79.65 L299.3,79.71 L299.8,79.77 L300.3,79.84 L300.8,79.9 L301.3,79.97 L301.8,80.04 L302.3,80.11 L302.8,80.19 L303.3,80.27 L303.8,80.35 L304.3,80.43 L304.8,80.51 L305.3,80.6 L305.8,80.68 L306.3,80.77 L306.8,80.86 L307.3,80.95 L307.8,81.04 L308.3,81.14 L308.8,81.23 L309.3,81.32 L309.8,81.41 L310.3,81.51 L310.8,81.6 L311.3,81.69 L311.8,81.79 L312.3,81.88 L312.8,81.98 L313.3,82.08 L313.8,82.17 L314.3,82.27 L314.8,82.37 L315.3,82.47 L315.8,82.57 L316.3,82.67 L316.8,82.77 L317.3,82.88 L317.8,82.98 L318.3,83.09 L318.8,83.19 L319.3,83.3 L319.8,83.41 L320.3,83.52 L320.8,83.63 L321.3,83.75 L321.8,83.86 L322.3,83.98 L322.8,84.1 L323.3,84.22 L323.8,84.34 L324.3,84.45 L324.8,84.57 L325.3,84.69 L325.8,84.81 L326.3,84.93 L326.8,85.05 L327.3,85.16 L327.8,85.28 L328.3,85.39 L328.8,85.5 L329.3,85.61 L329.8,85.72 L330.3,85.83 L330.8,85.94 L331.3,86.05 L331.8,86.16 L332.3,86.27 L332.8,86.37 L333.3,86.48 L333.8,86.59 L334.3,86.7 L334.8,86.81 L335.3,86.93 L335.8,87.04 L336.3,87.15 L336.8,87.27 L337.3,87.39 L337.8,87.5 L338.3,87.62 L338.8,87.73 L339.3,87.85 L339.8,87.97 L340.3,88.09 L340.8,88.21 L341.3,88.33 L341.8,88.45 L342.3,88.58 L342.8,88.7 L343.3,88.83 L343.8,88.96 L344.3,89.09 L344.8,89.22 L345.3,89.35 L345.8,89.49 L346.3,89.63 L346.8,89.78 L347.3,89.92 L347.8,90.07 L348.3,90.22 L348.8,90.37 L349.3,90.53 L349.8,90.68 L350.3,90.84 L350.8,91 L351.3,91.15 L351.8,91.31 L352.3,91.47 L352.8,91.62 L353.3,91.78 L353.8,91.93 L354.3,92.08 L354.8,92.24 L355.3,92.39 L355.8,92.54 L356.3,92.69 L356.8,92.85 L357.3,93 L357.8,93.15 L358.3,93.31 L358.8,93.46 L359.3,93.62 L359.8,93.78 L360.3,93.94 L360.8,94.1 L361.3,94.26 L361.8,94.43 L362.3,94.6 L362.8,94.77 L363.3,94.95 L363.8,95.13 L364.3,95.32 L364.8,95.51 L365.3,95.7 L365.8,95.89 L366.3,96.09 L366.8,96.28 L367.3,96.48 L367.8,96.67 L368.3,96.87 L368.8,97.06 L369.3,97.25 L369.8,97.44 L370.3,97.63 L370.8,97.81 L371.3,97.99 L371.8,98.17 L372.3,98.34 L372.8,98.5 L373.3,98.66 L373.8,98.81 L374.3,98.96 L374.8,99.11 L375.3,99.26 L375.8,99.42 L376.3,99.57 L376.8,99.73 L377.3,99.9 L377.8,100.07 L378.3,100.25 L378.8,100.44 L379.3,100.64 L379.8,100.86 L380.3,101.1 L380.8,101.36 L381.3,101.63 L381.8,101.91 L382.3,102.2 L382.8,102.48 L383.3,102.77 L383.8,103.04 L384.3,103.3 L384.8,103.55 L385.3,103.79 L385.8,104.01 L386.3,104.23 L386.8,104.44 L387.3,104.65 L387.8,104.86 L388.3,105.06 L388.8,105.26 L389.3,105.47 L389.8,105.67 L390.3,105.88 L390.8,106.09 L391.3,106.31 L391.8,106.53 L392.3,106.76 L392.8,107 L393.3,107.23 L393.8,107.47 L394.3,107.72 L394.8,107.96 L395.3,108.2 L395.8,108.44 L396.3,108.68 L396.8,108.91 L397.3,109.14 L397.8,109.37 L398.3,109.59 L398.8,109.8 L399.3,110.01 L399.8,110.22 L400.3,110.43 L400.8,110.63 L401.3,110.84 L401.8,111.04 L402.3,111.24 L402.8,111.44 L403.3,111.64 L403.8,111.84 L404.3,112.04 L404.8,112.24 L405.3,112.44 L405.8,112.65 L406.3,112.85 L406.8,113.05 L407.3,113.25 L407.8,113.45 L408.3,113.65 L408.8,113.85 L409.3,114.05 L409.8,114.25 L410.3,114.46 L410.8,114.66 L411.3,114.86 L411.8,115.06 L412.3,115.26 L412.8,115.46 L413.3,115.66 L413.8,115.86 L414.3,116.06 L414.8,116.26 L415.3,116.46 L415.8,116.66 L416.3,116.86 L416.8,117.07 L417.3,117.28 L417.8,117.49 L418.3,117.7 L418.8,117.92 L419.3,118.14 L419.8,118.36 L420.3,118.58 L420.8,118.81 L421.3,119.04 L421.8,119.27 L422.3,119.5 L422.8,119.73 L423.3,119.96 L423.8,120.2 L424.3,120.43 L424.8,120.66 L425.3,120.9 L425.8,121.13 L426.3,121.36 L426.8,121.59 L427.3,121.82 L427.8,122.05 L428.3,122.29 L428.8,122.52 L429.3,122.75 L429.8,122.99 L430.3,123.22 L430.8,123.45 L431.3,123.69 L431.8,123.92 L432.3,124.15 L432.8,124.38 L433.3,124.61 L433.8,124.84 L434.3,125.07 L434.8,125.3 L435.3,125.53 L435.8,125.75 L436.3,125.98 L436.8,126.21 L437.3,126.43 L437.8,126.66 L438.3,126.89 L438.8,127.11 L439.3,127.34 L439.8,127.56 L440.3,127.78 L440.8,128 L441.3,128.22 L441.8,128.44 L442.3,128.66 L442.8,128.87 L443.3,129.09 L443.8,129.3 L444.3,129.51 L444.8,129.72 L445.3,129.92 L445.8,130.13 L446.3,130.34 L446.8,130.54 L447.3,130.74 L447.8,130.95 L448.3,131.15 L448.8,131.35 L449.3,131.55 L449.8,131.76 L450.3,131.96 L450.8,132.16 L451.3,132.36 L451.8,132.56 L452.3,132.76 L452.8,132.96 L453.3,133.17 L453.8,133.37 L454.3,133.57 L454.8,133.77 L455.3,133.97 L455.8,134.17 L456.3,134.36 L456.8,134.56 L457.3,134.76 L457.8,134.96 L458.3,135.15 L458.8,135.35 L459.3,135.54 L459.8,135.74 L460.3,135.93 L460.8,136.12 L461.3,136.3 L461.8,136.49 L462.3,136.67 L462.8,136.85 L463.3,137.03 L463.8,137.21 L464.3,137.39 L464.8,137.58 L465.3,137.76 L465.8,137.95 L466.3,138.15 L466.8,138.35 L467.3,138.55 L467.8,138.76 L468.3,138.97 L468.8,139.2 L469.3,139.42 L469.8,139.66 L470.3,139.9 L470.8,140.14 L471.3,140.39 L471.8,140.64 L472.3,140.9 L472.8,141.17 L473.3,141.5 L473.8,141.86 L474.3,142.21 L474.8,142.51 L475.3,142.72 L475.8,142.8 L476.3,142.78 L476.8,142.71 L477.3,142.61 L477.8,142.5 L478.3,142.37 L478.8,142.25 L479.3,142.13 L479.8,142 L480.3,141.87 L480.8,141.72 L481.3,141.57 L481.8,141.41 L482.3,141.25 L482.8,141.08 L483.3,140.9 L483.8,140.72 L484.3,140.52 L484.8,140.31 L485.3,140.1 L485.8,139.87 L486.3,139.64 L486.8,139.4 L487.3,139.16 L487.8,138.92 L488.3,138.67 L488.8,138.43 L489.3,138.18 L489.8,137.94 L490.3,137.7 L490.8,137.46 L491.3,137.23 L491.8,137.01 L492.3,136.79 L492.8,136.57 L493.3,136.35 L493.8,136.13 L494.3,135.92 L494.8,135.7 L495.3,135.48 L495.8,135.27 L496.3,135.06 L496.8,134.84 L497.3,134.63 L497.8,134.42 L498.3,134.22 L498.8,134.01 L499.3,133.8 L499.8,133.6 L500.3,133.4 L500.8,133.2 L501.3,133 L501.8,132.8 L502.3,132.6 L502.8,132.4 L503.3,132.21 L503.8,132.01 L504.3,131.82 L504.8,131.63 L505.3,131.44 L505.8,131.25 L506.3,131.06 L506.8,130.87 L507.3,130.69 L507.8,130.51 L508.3,130.33 L508.8,130.15 L509.3,129.98 L509.8,129.8 L510.3,129.63 L510.8,129.46 L511.3,129.29 L511.8,129.13 L512.3,128.96 L512.8,128.79 L513.3,128.63 L513.8,128.46 L514.3,128.3 L514.8,128.13 L515.3,127.97 L515.8,127.8 L516.3,127.63 L516.8,127.47 L517.3,127.3 L517.8,127.13 L518.3,126.96 L518.8,126.79 L519.3,126.62 L519.8,126.45 L520.3,126.28 L520.8,126.12 L521.3,125.95 L521.8,125.78 L522.3,125.61 L522.8,125.44 L523.3,125.27 L523.8,125.1 L524.3,124.93 L524.8,124.77 L525.3,124.6 L525.8,124.43 L526.3,124.27 L526.8,124.1 L527.3,123.94 L527.8,123.77 L528.3,123.61 L528.8,123.45 L529.3,123.28 L529.8,123.11 L530.3,122.95 L530.8,122.78 L531.3,122.61 L531.8,122.43 L532.3,122.26 L532.8,122.08 L533.3,121.9 L533.8,121.71 L534.3,121.52 L534.8,121.32 L535.3,121.12 L535.8,120.92 L536.3,120.71 L536.8,120.5 L537.3,120.29 L537.8,120.08 L538.3,119.87 L538.8,119.67 L539.3,119.47 L539.8,119.27 L540.3,119.07 L540.8,118.89 L541.3,118.7 L541.8,118.53 L542.3,118.36 L542.8,118.2 L543.3,118.04 L543.8,117.88 L544.3,117.73 L544.8,117.58 L545.3,117.43 L545.8,117.28 L546.3,117.13 L546.8,116.98 L547.3,116.84 L547.8,116.69 L548.3,116.55 L548.8,116.4 L549.3,116.25 L549.8,116.1 L550.3,115.95 L550.8,115.79 L551.3,115.64 L551.8,115.48 L552.3,115.33 L552.8,115.17 L553.3,115.02 L553.8,114.86 L554.3,114.71 L554.8,114.55 L555.3,114.4 L555.8,114.25 L556.3,114.1 L556.8,113.96 L557.3,113.82 L557.8,113.68 L558.3,113.55 L558.8,113.41 L559.3,113.28 L559.8,113.14 L560.3,113.01 L560.8,112.88 L561.3,112.75 L561.8,112.62 L562.3,112.5 L562.8,112.37 L563.3,112.25 L563.8,112.14 L564.3,112.02 L564.8,111.91 L565.3,111.81 L565.8,111.71 L566.3,111.62 L566.8,111.53 L567.3,111.45 L567.8,111.38 L568.3,111.31 L568.8,111.24 L569.3,111.17 L569.8,111.11 L570.3,111.04 L570.8,110.98 L571.3,110.91 L571.8,110.83 L572.3,110.75 L572.8,110.66 L573.3,110.56 L573.3,180.24 L572.8,180.14 L572.3,180.05 L571.8,179.97 L571.3,179.89 L570.8,179.82 L570.3,179.76 L569.8,179.69 L569.3,179.63 L568.8,179.56 L568.3,179.49 L567.8,179.42 L567.3,179.35 L566.8,179.27 L566.3,179.18 L565.8,179.09 L565.3,178.99 L564.8,178.89 L564.3,178.78 L563.8,178.66 L563.3,178.55 L562.8,178.43 L562.3,178.3 L561.8,178.18 L561.3,178.05 L560.8,177.92 L560.3,177.79 L559.8,177.66 L559.3,177.52 L558.8,177.39 L558.3,177.25 L557.8,177.12 L557.3,176.98 L556.8,176.84 L556.3,176.7 L555.8,176.55 L555.3,176.4 L554.8,176.25 L554.3,176.09 L553.8,175.94 L553.3,175.78 L552.8,175.63 L552.3,175.47 L551.8,175.32 L551.3,175.16 L550.8,175.01 L550.3,174.85 L549.8,174.7 L549.3,174.55 L548.8,174.4 L548.3,174.25 L547.8,174.11 L547.3,173.96 L546.8,173.82 L546.3,173.67 L545.8,173.52 L545.3,173.37 L544.8,173.22 L544.3,173.07 L543.8,172.92 L543.3,172.76 L542.8,172.6 L542.3,172.44 L541.8,172.27 L541.3,172.1 L540.8,171.91 L540.3,171.73 L539.8,171.53 L539.3,171.33 L538.8,171.13 L538.3,170.93 L537.8,170.72 L537.3,170.51 L536.8,170.3 L536.3,170.09 L535.8,169.88 L535.3,169.68 L534.8,169.48 L534.3,169.28 L533.8,169.09 L533.3,168.9 L532.8,168.72 L532.3,168.54 L531.8,168.37 L531.3,168.19 L530.8,168.02 L530.3,167.85 L529.8,167.69 L529.3,167.52 L528.8,167.35 L528.3,167.19 L527.8,167.03 L527.3,166.86 L526.8,166.7 L526.3,166.53 L525.8,166.37 L525.3,166.2 L524.8,166.03 L524.3,165.87 L523.8,165.7 L523.3,165.53 L522.8,165.36 L522.3,165.19 L521.8,165.02 L521.3,164.85 L520.8,164.68 L520.3,164.52 L519.8,164.35 L519.3,164.18 L518.8,164.01 L518.3,163.84 L517.8,163.67 L517.3,163.5 L516.8,163.33 L516.3,163.17 L515.8,163 L515.3,162.83 L514.8,162.67 L514.3,162.5 L513.8,162.34 L513.3,162.17 L512.8,162.01 L512.3,161.84 L511.8,161.67 L511.3,161.51 L510.8,161.34 L510.3,161.17 L509.8,161 L509.3,160.82 L508.8,160.65 L508.3,160.47 L507.8,160.29 L507.3,160.11 L506.8,159.93 L506.3,159.74 L505.8,159.55 L505.3,159.36 L504.8,159.17 L504.3,158.98 L503.8,158.79 L503.3,158.59 L502.8,158.4 L502.3,158.2 L501.8,158 L501.3,157.8 L500.8,157.6 L500.3,157.4 L499.8,157.2 L499.3,157 L498.8,156.79 L498.3,156.58 L497.8,156.38 L497.3,156.17 L496.8,155.96 L496.3,155.74 L495.8,155.53 L495.3,155.32 L494.8,155.1 L494.3,154.88 L493.8,154.67 L493.3,154.45 L492.8,154.23 L492.3,154.01 L491.8,153.79 L491.3,153.57 L490.8,153.34 L490.3,153.1 L489.8,152.86 L489.3,152.62 L488.8,152.37 L488.3,152.13 L487.8,151.88 L487.3,151.64 L486.8,151.4 L486.3,151.16 L485.8,150.93 L485.3,150.7 L484.8,150.49 L484.3,150.28 L483.8,150.08 L483.3,149.9 L482.8,149.72 L482.3,149.55 L481.8,149.39 L481.3,149.23 L480.8,149.08 L480.3,148.93 L479.8,148.8 L479.3,148.67 L478.8,148.55 L478.3,148.43 L477.8,148.3 L477.3,148.19 L476.8,148.09 L476.3,148.02 L475.8,148 L475.3,148.08 L474.8,148.29 L474.3,148.59 L473.8,148.94 L473.3,149.3 L472.8,149.63 L472.3,149.9 L471.8,150.16 L471.3,150.41 L470.8,150.66 L470.3,150.9 L469.8,151.14 L469.3,151.38 L468.8,151.6 L468.3,151.83 L467.8,152.04 L467.3,152.25 L466.8,152.45 L466.3,152.65 L465.8,152.85 L465.3,153.04 L464.8,153.22 L464.3,153.41 L463.8,153.59 L463.3,153.77 L462.8,153.95 L462.3,154.13 L461.8,154.31 L461.3,154.5 L460.8,154.68 L460.3,154.87 L459.8,155.06 L459.3,155.26 L458.8,155.45 L458.3,155.65 L457.8,155.84 L457.3,156.04 L456.8,156.24 L456.3,156.44 L455.8,156.63 L455.3,156.83 L454.8,157.03 L454.3,157.23 L453.8,157.43 L453.3,157.63 L452.8,157.84 L452.3,158.04 L451.8,158.24 L451.3,158.44 L450.8,158.64 L450.3,158.84 L449.8,159.04 L449.3,159.25 L448.8,159.45 L448.3,159.65 L447.8,159.85 L447.3,160.06 L446.8,160.26 L446.3,160.46 L445.8,160.67 L445.3,160.88 L444.8,161.08 L444.3,161.29 L443.8,161.5 L443.3,161.71 L442.8,161.93 L442.3,162.14 L441.8,162.36 L441.3,162.58 L440.8,162.8 L440.3,163.02 L439.8,163.24 L439.3,163.46 L438.8,163.69 L438.3,163.91 L437.8,164.14 L437.3,164.37 L436.8,164.59 L436.3,164.82 L435.8,165.05 L435.3,165.27 L434.8,165.5 L434.3,165.73 L433.8,165.96 L433.3,166.19 L432.8,166.42 L432.3,166.65 L431.8,166.88 L431.3,167.11 L430.8,167.35 L430.3,167.58 L429.8,167.81 L429.3,168.05 L428.8,168.28 L428.3,168.51 L427.8,168.75 L427.3,168.98 L426.8,169.21 L426.3,169.44 L425.8,169.67 L425.3,169.9 L424.8,170.14 L424.3,170.37 L423.8,170.6 L423.3,170.84 L422.8,171.07 L422.3,171.3 L421.8,171.53 L421.3,171.76 L420.8,171.99 L420.3,172.22 L419.8,172.44 L419.3,172.66 L418.8,172.88 L418.3,173.1 L417.8,173.31 L417.3,173.52 L416.8,173.73 L416.3,173.94 L415.8,174.14 L415.3,174.34 L414.8,174.54 L414.3,174.74 L413.8,174.94 L413.3,175.14 L412.8,175.34 L412.3,175.54 L411.8,175.74 L411.3,175.94 L410.8,176.14 L410.3,176.34 L409.8,176.55 L409.3,176.75 L408.8,176.95 L408.3,177.15 L407.8,177.35 L407.3,177.55 L406.8,177.75 L406.3,177.95 L405.8,178.15 L405.3,178.36 L404.8,178.56 L404.3,178.76 L403.8,178.96 L403.3,179.16 L402.8,179.36 L402.3,179.56 L401.8,179.76 L401.3,179.96 L400.8,180.17 L400.3,180.37 L399.8,180.58 L399.3,180.79 L398.8,181 L398.3,181.21 L397.8,181.43 L397.3,181.66 L396.8,181.89 L396.3,182.12 L395.8,182.36 L395.3,182.6 L394.8,182.84 L394.3,183.08 L393.8,183.33 L393.3,183.57 L392.8,183.8 L392.3,184.04 L391.8,184.27 L391.3,184.49 L390.8,184.71 L390.3,184.92 L389.8,185.13 L389.3,185.33 L388.8,185.54 L388.3,185.74 L387.8,185.94 L387.3,186.15 L386.8,186.36 L386.3,186.57 L385.8,186.79 L385.3,187.01 L384.8,187.25 L384.3,187.5 L383.8,187.76 L383.3,188.03 L382.8,188.32 L382.3,188.6 L381.8,188.89 L381.3,189.17 L380.8,189.44 L380.3,189.7 L379.8,189.94 L379.3,190.16 L378.8,190.36 L378.3,190.55 L377.8,190.73 L377.3,190.9 L376.8,191.07 L376.3,191.23 L375.8,191.38 L375.3,191.54 L374.8,191.69 L374.3,191.84 L373.8,191.99 L373.3,192.14 L372.8,192.3 L372.3,192.46 L371.8,192.63 L371.3,192.81 L370.8,192.99 L370.3,193.17 L369.8,193.36 L369.3,193.55 L368.8,193.74 L368.3,193.93 L367.8,194.13 L367.3,194.32 L366.8,194.52 L366.3,194.71 L365.8,194.91 L365.3,195.1 L364.8,195.29 L364.3,195.48 L363.8,195.67 L363.3,195.85 L362.8,196.03 L362.3,196.2 L361.8,196.37 L361.3,196.54 L360.8,196.7 L360.3,196.86 L359.8,197.02 L359.3,197.18 L358.8,197.34 L358.3,197.49 L357.8,197.65 L357.3,197.8 L356.8,197.95 L356.3,198.11 L355.8,198.26 L355.3,198.41 L354.8,198.56 L354.3,198.72 L353.8,198.87 L353.3,199.02 L352.8,199.18 L352.3,199.33 L351.8,199.49 L351.3,199.65 L350.8,199.8 L350.3,199.96 L349.8,200.12 L349.3,200.27 L348.8,200.43 L348.3,200.58 L347.8,200.73 L347.3,200.88 L346.8,201.02 L346.3,201.17 L345.8,201.31 L345.3,201.45 L344.8,201.58 L344.3,201.71 L343.8,201.84 L343.3,201.97 L342.8,202.1 L342.3,202.22 L341.8,202.35 L341.3,202.47 L340.8,202.59 L340.3,202.71 L339.8,202.83 L339.3,202.95 L338.8,203.07 L338.3,203.18 L337.8,203.3 L337.3,203.41 L336.8,203.53 L336.3,203.65 L335.8,203.76 L335.3,203.87 L334.8,203.99 L334.3,204.1 L333.8,204.21 L333.3,204.32 L332.8,204.43 L332.3,204.53 L331.8,204.64 L331.3,204.75 L330.8,204.86 L330.3,204.97 L329.8,205.08 L329.3,205.19 L328.8,205.3 L328.3,205.41 L327.8,205.52 L327.3,205.64 L326.8,205.75 L326.3,205.87 L325.8,205.99 L325.3,206.11 L324.8,206.23 L324.3,206.35 L323.8,206.46 L323.3,206.58 L322.8,206.7 L322.3,206.82 L321.8,206.94 L321.3,207.05 L320.8,207.17 L320.3,207.28 L319.8,207.39 L319.3,207.5 L318.8,207.61 L318.3,207.71 L317.8,207.82 L317.3,207.92 L316.8,208.03 L316.3,208.13 L315.8,208.23 L315.3,208.33 L314.8,208.43 L314.3,208.53 L313.8,208.63 L313.3,208.72 L312.8,208.82 L312.3,208.92 L311.8,209.01 L311.3,209.11 L310.8,209.2 L310.3,209.29 L309.8,209.39 L309.3,209.48 L308.8,209.57 L308.3,209.66 L307.8,209.76 L307.3,209.85 L306.8,209.94 L306.3,210.03 L305.8,210.12 L305.3,210.2 L304.8,210.29 L304.3,210.37 L303.8,210.45 L303.3,210.53 L302.8,210.61 L302.3,210.69 L301.8,210.76 L301.3,210.83 L300.8,210.9 L300.3,210.96 L299.8,211.03 L299.3,211.09 L298.8,211.15 L298.3,211.21 L297.8,211.28 L297.3,211.34 L296.8,211.4 L296.3,211.46 L295.8,211.52 L295.3,211.58 L294.8,211.64 L294.3,211.71 L293.8,211.77 L293.3,211.84 L292.8,211.91 L292.3,211.99 L291.8,212.07 L291.3,212.15 L290.8,212.23 L290.3,212.31 L289.8,212.39 L289.3,212.47 L288.8,212.53 L288.3,212.6 L287.8,212.65 L287.3,212.7 L286.8,212.74 L286.3,212.78 L285.8,212.82 L285.3,212.86 L284.8,212.9 L284.3,212.93 L283.8,212.97 L283.3,213 L282.8,213.03 L282.3,213.06 L281.8,213.09 L281.3,213.11 L280.8,213.13 L280.3,213.15 L279.8,213.17 L279.3,213.19 L278.8,213.2 L278.3,213.21 L277.8,213.22 L277.3,213.23 L276.8,213.23 L276.3,213.24 L275.8,213.25 L275.3,213.26 L274.8,213.27 L274.3,213.27 L273.8,213.28 L273.3,213.28 L272.8,213.29 L272.3,213.29 L271.8,213.3 L271.3,213.3 L270.8,213.3 L270.3,213.3 L269.8,213.3 L269.3,213.3 L268.8,213.3 L268.3,213.29 L267.8,213.29 L267.3,213.29 L266.8,213.28 L266.3,213.28 L265.8,213.27 L265.3,213.26 L264.8,213.26 L264.3,213.25 L263.8,213.24 L263.3,213.23 L262.8,213.22 L262.3,213.21 L261.8,213.21 L261.3,213.2 L260.8,213.18 L260.3,213.17 L259.8,213.15 L259.3,213.14 L258.8,213.12 L258.3,213.1 L257.8,213.07 L257.3,213.05 L256.8,213.02 L256.3,213 L255.8,212.97 L255.3,212.94 L254.8,212.91 L254.3,212.88 L253.8,212.85 L253.3,212.82 L252.8,212.79 L252.3,212.76 L251.8,212.73 L251.3,212.7 L250.8,212.66 L250.3,212.63 L249.8,212.59 L249.3,212.55 L248.8,212.51 L248.3,212.47 L247.8,212.43 L247.3,212.39 L246.8,212.34 L246.3,212.3 L245.8,212.25 L245.3,212.2 L244.8,212.15 L244.3,212.1 L243.8,212.05 L243.3,211.99 L242.8,211.93 L242.3,211.86 L241.8,211.8 L241.3,211.73 L240.8,211.66 L240.3,211.58 L239.8,211.51 L239.3,211.43 L238.8,211.36 L238.3,211.28 L237.8,211.2 L237.3,211.12 L236.8,211.05 L236.3,210.97 L235.8,210.9 L235.3,210.83 L234.8,210.76 L234.3,210.68 L233.8,210.61 L233.3,210.54 L232.8,210.47 L232.3,210.4 L231.8,210.33 L231.3,210.25 L230.8,210.18 L230.3,210.1 L229.8,210.03 L229.3,209.95 L228.8,209.87 L228.3,209.79 L227.8,209.7 L227.3,209.62 L226.8,209.53 L226.3,209.44 L225.8,209.34 L225.3,209.25 L224.8,209.15 L224.3,209.05 L223.8,208.95 L223.3,208.84 L222.8,208.74 L222.3,208.63 L221.8,208.52 L221.3,208.41 L220.8,208.3 L220.3,208.19 L219.8,208.07 L219.3,207.96 L218.8,207.85 L218.3,207.73 L217.8,207.61 L217.3,207.5 L216.8,207.38 L216.3,207.25 L215.8,207.13 L215.3,207.01 L214.8,206.88 L214.3,206.75 L213.8,206.62 L213.3,206.49 L212.8,206.36 L212.3,206.23 L211.8,206.09 L211.3,205.96 L210.8,205.82 L210.3,205.68 L209.8,205.54 L209.3,205.4 L208.8,205.25 L208.3,205.1 L207.8,204.95 L207.3,204.8 L206.8,204.64 L206.3,204.49 L205.8,204.34 L205.3,204.18 L204.8,204.03 L204.3,203.88 L203.8,203.74 L203.3,203.6 L202.8,203.46 L202.3,203.33 L201.8,203.18 L201.3,203.04 L200.8,202.88 L200.3,202.72 L199.8,202.54 L199.3,202.34 L198.8,202.1 L198.3,201.85 L197.8,201.58 L197.3,201.32 L196.8,201.08 L196.3,200.86 L195.8,200.66 L195.3,200.46 L194.8,200.28 L194.3,200.1 L193.8,199.92 L193.3,199.75 L192.8,199.59 L192.3,199.42 L191.8,199.26 L191.3,199.09 L190.8,198.93 L190.3,198.77 L189.8,198.6 L189.3,198.43 L188.8,198.25 L188.3,198.07 L187.8,197.89 L187.3,197.7 L186.8,197.51 L186.3,197.31 L185.8,197.12 L185.3,196.92 L184.8,196.72 L184.3,196.52 L183.8,196.32 L183.3,196.12 L182.8,195.91 L182.3,195.71 L181.8,195.51 L181.3,195.3 L180.8,195.1 L180.3,194.9 L179.8,194.7 L179.3,194.5 L178.8,194.3 L178.3,194.11 L177.8,193.91 L177.3,193.72 L176.8,193.53 L176.3,193.33 L175.8,193.14 L175.3,192.94 L174.8,192.74 L174.3,192.54 L173.8,192.34 L173.3,192.13 L172.8,191.92 L172.3,191.71 L171.8,191.49 L171.3,191.26 L170.8,191.04 L170.3,190.8 L169.8,190.56 L169.3,190.32 L168.8,190.08 L168.3,189.83 L167.8,189.58 L167.3,189.32 L166.8,189.07 L166.3,188.81 L165.8,188.54 L165.3,188.28 L164.8,188.01 L164.3,187.74 L163.8,187.47 L163.3,187.2 L162.8,186.92 L162.3,186.64 L161.8,186.36 L161.3,186.06 L160.8,185.77 L160.3,185.47 L159.8,185.17 L159.3,184.86 L158.8,184.56 L158.3,184.26 L157.8,183.95 L157.3,183.65 L156.8,183.35 L156.3,183.05 L155.8,182.76 L155.3,182.47 L154.8,182.19 L154.3,181.9 L153.8,181.62 L153.3,181.34 L152.8,181.06 L152.3,180.78 L151.8,180.5 L151.3,180.22 L150.8,179.95 L150.3,179.67 L149.8,179.4 L149.3,179.13 L148.8,178.86 L148.3,178.59 L147.8,178.33 L147.3,178.07 L146.8,177.81 L146.3,177.55 L145.8,177.3 L145.3,177.05 L144.8,176.8 L144.3,176.56 L143.8,176.33 L143.3,176.09 L142.8,175.86 L142.3,175.63 L141.8,175.4 L141.3,175.17 L140.8,174.94 L140.3,174.71 L139.8,174.48 L139.3,174.25 L138.8,174.02 L138.3,173.78 L137.8,173.54 L137.3,173.3 L136.8,173.05 L136.3,172.79 L135.8,172.54 L135.3,172.27 L134.8,172 L134.3,171.72 L133.8,171.44 L133.3,171.15 L132.8,170.85 L132.3,170.55 L131.8,170.25 L131.3,169.94 L130.8,169.63 L130.3,169.31 L129.8,168.99 L129.3,168.67 L128.8,168.34 L128.3,168.01 L127.8,167.68 L127.3,167.35 L126.8,167.01 L126.3,166.68 L125.8,166.34 L125.3,166.01 L124.8,165.67 L124.3,165.34 L123.8,165 L123.3,164.67 L122.8,164.33 L122.3,164 L121.8,163.66 L121.3,163.33 L120.8,162.99 L120.3,162.65 L119.8,162.31 L119.3,161.97 L118.8,161.62 L118.3,161.28 L117.8,160.93 L117.3,160.58 L116.8,160.23 L116.3,159.88 L115.8,159.53 L115.3,159.18 L114.8,158.82 L114.3,158.46 L113.8,158.1 L113.3,157.74 L112.8,157.38 L112.3,157.01 L111.8,156.65 L111.3,156.27 L110.8,155.88 L110.3,155.46 L109.8,155.03 L109.3,154.59 L108.8,154.14 L108.3,153.69 L107.8,153.25 L107.3,152.82 L106.8,152.4 L106.3,152.01 L105.8,151.64 L105.3,151.3 L104.8,151 L104.3,150.74 L103.8,150.52 L103.3,150.33 L102.8,150.16 L102.3,150.01 L101.8,149.88 L101.3,149.75 L100.8,149.64 L100.3,149.54 L99.8,149.45 L99.3,149.37Z" fill="#4dc18c"/>
<path d="M99.3,141.43 L99.8,141.35 L100.3,141.26 L100.8,141.16 L101.3,141.05 L101.8,140.92 L102.3,140.79 L102.8,140.64 L103.3,140.47 L103.8,140.28 L104.3,140.06 L104.8,139.8 L105.3,139.5 L105.8,139.16 L106.3,138.79 L106.8,138.4 L107.3,137.98 L107.8,137.55 L108.3,137.11 L108.8,136.66 L109.3,136.21 L109.8,135.77 L110.3,135.34 L110.8,134.92 L111.3,134.53 L111.8,134.15 L112.3,133.79 L112.8,133.42 L113.3,133.06 L113.8,132.7 L114.3,132.34 L114.8,131.98 L115.3,131.62 L115.8,131.27 L116.3,130.92 L116.8,130.57 L117.3,130.22 L117.8,129.87 L118.3,129.52 L118.8,129.18 L119.3,128.83 L119.8,128.49 L120.3,128.15 L120.8,127.81 L121.3,127.47 L121.8,127.14 L122.3,126.8 L122.8,126.47 L123.3,126.13 L123.8,125.8 L124.3,125.46 L124.8,125.13 L125.3,124.79 L125.8,124.46 L126.3,124.12 L126.8,123.79 L127.3,123.45 L127.8,123.12 L128.3,122.79 L128.8,122.46 L129.3,122.13 L129.8,121.81 L130.3,121.49 L130.8,121.17 L131.3,120.86 L131.8,120.55 L132.3,120.25 L132.8,119.95 L133.3,119.65 L133.8,119.36 L134.3,119.08 L134.8,118.8 L135.3,118.53 L135.8,118.26 L136.3,118.01 L136.8,117.75 L137.3,117.5 L137.8,117.26 L138.3,117.02 L138.8,116.78 L139.3,116.55 L139.8,116.32 L140.3,116.09 L140.8,115.86 L141.3,115.63 L141.8,115.4 L142.3,115.17 L142.8,114.94 L143.3,114.71 L143.8,114.47 L144.3,114.24 L144.8,114 L145.3,113.75 L145.8,113.5 L146.3,113.25 L146.8,112.99 L147.3,112.73 L147.8,112.47 L148.3,112.21 L148.8,111.94 L149.3,111.67 L149.8,111.4 L150.3,111.13 L150.8,110.85 L151.3,110.58 L151.8,110.3 L152.3,110.02 L152.8,109.74 L153.3,109.46 L153.8,109.18 L154.3,108.9 L154.8,108.61 L155.3,108.33 L155.8,108.04 L156.3,107.75 L156.8,107.45 L157.3,107.15 L157.8,106.85 L158.3,106.54 L158.8,106.24 L159.3,105.94 L159.8,105.63 L160.3,105.33 L160.8,105.03 L161.3,104.74 L161.8,104.44 L162.3,104.16 L162.8,103.88 L163.3,103.6 L163.8,103.33 L164.3,103.06 L164.8,102.79 L165.3,102.52 L165.8,102.26 L166.3,101.99 L166.8,101.73 L167.3,101.48 L167.8,101.22 L168.3,100.97 L168.8,100.72 L169.3,100.48 L169.8,100.24 L170.3,100 L170.8,99.76 L171.3,99.54 L171.8,99.31 L172.3,99.09 L172.8,98.88 L173.3,98.67 L173.8,98.46 L174.3,98.26 L174.8,98.06 L175.3,97.86 L175.8,97.66 L176.3,97.47 L176.8,97.27 L177.3,97.08 L177.8,96.89 L178.3,96.69 L178.8,96.5 L179.3,96.3 L179.8,96.1 L180.3,95.9 L180.8,95.7 L181.3,95.5 L181.8,95.29 L182.3,95.09 L182.8,94.89 L183.3,94.68 L183.8,94.48 L184.3,94.28 L184.8,94.08 L185.3,93.88 L185.8,93.68 L186.3,93.49 L186.8,93.29 L187.3,93.1 L187.8,92.91 L188.3,92.73 L188.8,92.55 L189.3,92.37 L189.8,92.2 L190.3,92.03 L190.8,91.87 L191.3,91.71 L191.8,91.54 L192.3,91.38 L192.8,91.21 L193.3,91.05 L193.8,90.88 L194.3,90.7 L194.8,90.52 L195.3,90.34 L195.8,90.14 L196.3,89.94 L196.8,89.72 L197.3,89.48 L197.8,89.22 L198.3,88.95 L198.8,88.7 L199.3,88.46 L199.8,88.35 L200.3,88.63 L200.8,88.91 L201.3,89.19 L201.8,89.48 L202.3,89.77 L202.8,90.06 L203.3,90.36 L203.8,90.66 L204.3,90.96 L204.8,91.26 L205.3,91.57 L205.8,91.88 L206.3,92.2 L206.8,92.53 L207.3,92.86 L207.8,93.19 L208.3,93.52 L208.8,93.86 L209.3,94.19 L209.8,94.53 L210.3,94.87 L210.8,95.2 L211.3,95.53 L211.8,95.86 L212.3,96.18 L212.8,96.49 L213.3,96.8 L213.8,97.11 L214.3,97.4 L214.8,97.69 L215.3,97.96 L215.8,98.23 L216.3,98.49 L216.8,98.73 L217.3,98.97 L217.8,99.21 L218.3,99.44 L218.8,99.67 L219.3,99.9 L219.8,100.13 L220.3,100.37 L220.8,100.6 L221.3,100.85 L221.8,101.1 L222.3,101.35 L222.8,101.62 L223.3,101.9 L223.8,102.19 L224.3,102.49 L224.8,102.81 L225.3,103.13 L225.8,103.46 L226.3,103.8 L226.8,104.15 L227.3,104.49 L227.8,104.85 L228.3,105.2 L228.8,105.56 L229.3,105.91 L229.8,106.26 L230.3,106.61 L230.8,106.96 L231.3,107.3 L231.8,107.63 L232.3,107.97 L232.8,108.3 L233.3,108.64 L233.8,108.97 L234.3,109.31 L234.8,109.64 L235.3,109.98 L235.8,110.31 L236.3,110.64 L236.8,110.97 L237.3,111.3 L237.8,111.63 L238.3,111.95 L238.8,112.27 L239.3,112.59 L239.8,112.9 L240.3,113.21 L240.8,113.51 L241.3,113.82 L241.8,114.12 L242.3,114.41 L242.8,114.71 L243.3,115 L243.8,115.29 L244.3,115.58 L244.8,115.87 L245.3,116.16 L245.8,116.45 L246.3,116.74 L246.8,117.03 L247.3,117.33 L247.8,117.62 L248.3,117.92 L248.8,118.22 L249.3,118.52 L249.8,118.82 L250.3,119.12 L250.8,119.42 L251.3,119.72 L251.8,120.02 L252.3,120.32 L252.8,120.63 L253.3,120.93 L253.8,121.23 L254.3,121.53 L254.8,121.83 L255.3,122.14 L255.8,122.44 L256.3,122.74 L256.8,123.04 L257.3,123.34 L257.8,123.65 L258.3,123.95 L258.8,124.25 L259.3,124.55 L259.8,124.86 L260.3,125.16 L260.8,125.46 L261.3,125.76 L261.8,126.06 L262.3,126.37 L262.8,126.67 L263.3,126.97 L263.8,127.26 L264.3,127.56 L264.8,127.86 L265.3,128.16 L265.8,128.45 L266.3,128.75 L266.8,129.04 L267.3,129.34 L267.8,129.63 L268.3,129.92 L268.8,130.21 L269.3,130.5 L269.8,130.79 L270.3,131.07 L270.8,131.35 L271.3,131.62 L271.8,131.9 L272.3,132.17 L272.8,132.44 L273.3,132.71 L273.8,132.98 L274.3,133.25 L274.8,133.52 L275.3,133.79 L275.8,134.06 L276.3,134.33 L276.8,134.61 L277.3,134.89 L277.8,135.17 L278.3,135.45 L278.8,135.73 L279.3,136.02 L279.8,136.3 L280.3,136.58 L280.8,136.87 L281.3,137.15 L281.8,137.43 L282.3,137.71 L282.8,137.98 L283.3,138.25 L283.8,138.53 L284.3,138.8 L284.8,139.07 L285.3,139.35 L285.8,139.62 L286.3,139.88 L286.8,140.15 L287.3,140.41 L287.8,140.66 L288.3,140.9 L288.8,141.15 L289.3,141.44 L289.8,141.73 L290.3,141.98 L290.8,142.15 L291.3,142.2 L291.8,142.1 L292.3,141.89 L292.8,141.61 L293.3,141.3 L293.8,141.01 L294.3,140.74 L294.8,140.47 L295.3,140.18 L295.8,139.89 L296.3,139.61 L296.8,139.34 L297.3,139.07 L297.8,138.81 L298.3,138.55 L298.8,138.3 L299.3,138.04 L299.8,137.79 L300.3,137.54 L300.8,137.29 L301.3,137.03 L301.8,136.78 L302.3,136.52 L302.8,136.26 L303.3,135.99 L303.8,135.73 L304.3,135.46 L304.8,135.19 L305.3,134.91 L305.8,134.64 L306.3,134.36 L306.8,134.09 L307.3,133.81 L307.8,133.54 L308.3,133.26 L308.8,132.99 L309.3,132.72 L309.8,132.45 L310.3,132.17 L310.8,131.9 L311.3,131.63 L311.8,131.35 L312.3,131.08 L312.8,130.8 L313.3,130.53 L313.8,130.26 L314.3,129.99 L314.8,129.72 L315.3,129.46 L315.8,129.2 L316.3,128.95 L316.8,128.7 L317.3,128.46 L317.8,128.22 L318.3,127.98 L318.8,127.75 L319.3,127.51 L319.8,127.28 L320.3,127.05 L320.8,126.83 L321.3,126.6 L321.8,126.36 L322.3,126.13 L322.8,125.9 L323.3,125.66 L323.8,125.42 L324.3,125.18 L324.8,124.94 L325.3,124.71 L325.8,124.47 L326.3,124.23 L326.8,123.99 L327.3,123.74 L327.8,123.5 L328.3,123.25 L328.8,123 L329.3,122.75 L329.8,122.5 L330.3,122.24 L330.8,121.97 L331.3,121.7 L331.8,121.43 L332.3,121.15 L332.8,120.87 L333.3,120.6 L333.8,120.32 L334.3,120.04 L334.8,119.77 L335.3,119.49 L335.8,119.22 L336.3,118.96 L336.8,118.7 L337.3,118.45 L337.8,118.2 L338.3,117.95 L338.8,117.71 L339.3,117.47 L339.8,117.23 L340.3,116.99 L340.8,116.75 L341.3,116.52 L341.8,116.28 L342.3,116.05 L342.8,115.82 L343.3,115.59 L343.8,115.36 L344.3,115.12 L344.8,114.89 L345.3,114.66 L345.8,114.43 L346.3,114.19 L346.8,113.96 L347.3,113.73 L347.8,113.49 L348.3,113.26 L348.8,113.03 L349.3,112.8 L349.8,112.57 L350.3,112.35 L350.8,112.13 L351.3,111.91 L351.8,111.69 L352.3,111.48 L352.8,111.28 L353.3,111.08 L353.8,110.88 L354.3,110.69 L354.8,110.5 L355.3,110.32 L355.8,110.13 L356.3,109.95 L356.8,109.77 L357.3,109.58 L357.8,109.4 L358.3,109.21 L358.8,109.02 L359.3,108.82 L359.8,108.62 L360.3,108.42 L360.8,108.2 L361.3,107.98 L361.8,107.75 L362.3,107.52 L362.8,107.29 L363.3,107.06 L363.8,106.83 L364.3,106.61 L364.8,106.39 L365.3,106.17 L365.8,105.96 L366.3,105.75 L366.8,105.54 L367.3,105.34 L367.8,105.13 L368.3,104.93 L368.8,104.73 L369.3,104.52 L369.8,104.32 L370.3,104.12 L370.8,103.92 L371.3,103.72 L371.8,103.52 L372.3,103.32 L372.8,103.11 L373.3,102.9 L373.8,102.69 L374.3,102.48 L374.8,102.28 L375.3,102.07 L375.8,101.86 L376.3,101.66 L376.8,101.47 L377.3,101.27 L377.8,101.09 L378.3,100.91 L378.8,100.73 L379.3,100.64 L379.8,100.86 L380.3,101.1 L380.8,101.36 L381.3,101.63 L381.8,101.91 L382.3,102.2 L382.8,102.48 L383.3,102.77 L383.8,103.04 L384.3,103.3 L384.8,103.55 L385.3,103.79 L385.8,104.01 L386.3,104.23 L386.8,104.44 L387.3,104.65 L387.8,104.86 L388.3,105.06 L388.8,105.26 L389.3,105.47 L389.8,105.67 L390.3,105.88 L390.8,106.09 L391.3,106.31 L391.8,106.53 L392.3,106.76 L392.8,107 L393.3,107.23 L393.8,107.47 L394.3,107.72 L394.8,107.96 L395.3,108.2 L395.8,108.44 L396.3,108.68 L396.8,108.91 L397.3,109.14 L397.8,109.37 L398.3,109.59 L398.8,109.8 L399.3,110.01 L399.8,110.22 L400.3,110.43 L400.8,110.63 L401.3,110.84 L401.8,111.04 L402.3,111.24 L402.8,111.44 L403.3,111.64 L403.8,111.84 L404.3,112.04 L404.8,112.24 L405.3,112.44 L405.8,112.65 L406.3,112.85 L406.8,113.05 L407.3,113.25 L407.8,113.45 L408.3,113.65 L408.8,113.85 L409.3,114.05 L409.8,114.25 L410.3,114.46 L410.8,114.66 L411.3,114.86 L411.8,115.06 L412.3,115.26 L412.8,115.46 L413.3,115.66 L413.8,115.86 L414.3,116.06 L414.8,116.26 L415.3,116.46 L415.8,116.66 L416.3,116.86 L416.8,117.07 L417.3,117.28 L417.8,117.49 L418.3,117.7 L418.8,117.92 L419.3,118.14 L419.8,118.36 L420.3,118.58 L420.8,118.81 L421.3,119.04 L421.8,119.27 L422.3,119.5 L422.8,119.73 L423.3,119.96 L423.8,120.2 L424.3,120.43 L424.8,120.66 L425.3,120.9 L425.8,121.13 L426.3,121.36 L426.8,121.59 L427.3,121.82 L427.8,122.05 L428.3,122.29 L428.8,122.52 L429.3,122.75 L429.8,122.99 L430.3,123.22 L430.8,123.45 L431.3,123.69 L431.8,123.92 L432.3,124.15 L432.8,124.38 L433.3,124.61 L433.8,124.84 L434.3,125.07 L434.8,125.3 L435.3,125.53 L435.8,125.75 L436.3,125.98 L436.8,126.21 L437.3,126.43 L437.8,126.66 L438.3,126.89 L438.8,127.11 L439.3,127.34 L439.8,127.56 L440.3,127.78 L440.8,128 L441.3,128.22 L441.8,128.44 L442.3,128.66 L442.8,128.87 L443.3,129.09 L443.8,129.3 L444.3,129.51 L444.8,129.72 L445.3,129.92 L445.8,130.13 L446.3,130.34 L446.8,130.54 L447.3,130.74 L447.8,130.95 L448.3,131.15 L448.8,131.35 L449.3,131.55 L449.8,131.76 L450.3,131.96 L450.8,132.16 L451.3,132.36 L451.8,132.56 L452.3,132.76 L452.8,132.96 L453.3,133.17 L453.8,133.37 L454.3,133.57 L454.8,133.77 L455.3,133.97 L455.8,134.17 L456.3,134.36 L456.8,134.56 L457.3,134.76 L457.8,134.96 L458.3,135.15 L458.8,135.35 L459.3,135.54 L459.8,135.74 L460.3,135.93 L460.8,136.12 L461.3,136.3 L461.8,136.49 L462.3,136.67 L462.8,136.85 L463.3,137.03 L463.8,137.21 L464.3,137.39 L464.8,137.58 L465.3,137.76 L465.8,137.95 L466.3,138.15 L466.8,138.35 L467.3,138.55 L467.8,138.76 L468.3,138.97 L468.8,139.2 L469.3,139.42 L469.8,139.66 L470.3,139.9 L470.8,140.14 L471.3,140.39 L471.8,140.64 L472.3,140.9 L472.8,141.17 L473.3,141.5 L473.8,141.86 L474.3,142.21 L474.8,142.51 L475.3,142.72 L475.8,142.8 L476.3,142.78 L476.8,142.71 L477.3,142.61 L477.8,142.5 L478.3,142.37 L478.8,142.25 L479.3,142.13 L479.8,142 L480.3,141.87 L480.8,141.72 L481.3,141.57 L481.8,141.41 L482.3,141.25 L482.8,141.08 L483.3,140.9 L483.8,140.72 L484.3,140.52 L484.8,140.31 L485.3,140.1 L485.8,139.87 L486.3,139.64 L486.8,139.4 L487.3,139.16 L487.8,138.92 L488.3,138.67 L488.8,138.43 L489.3,138.18 L489.8,137.94 L490.3,137.7 L490.8,137.46 L491.3,137.23 L491.8,137.01 L492.3,136.79 L492.8,136.57 L493.3,136.35 L493.8,136.13 L494.3,135.92 L494.8,135.7 L495.3,135.48 L495.8,135.27 L496.3,135.06 L496.8,134.84 L497.3,134.63 L497.8,134.42 L498.3,134.22 L498.8,134.01 L499.3,133.8 L499.8,133.6 L500.3,133.4 L500.8,133.2 L501.3,133 L501.8,132.8 L502.3,132.6 L502.8,132.4 L503.3,132.21 L503.8,132.01 L504.3,131.82 L504.8,131.63 L505.3,131.44 L505.8,131.25 L506.3,131.06 L506.8,130.87 L507.3,130.69 L507.8,130.51 L508.3,130.33 L508.8,130.15 L509.3,129.98 L509.8,129.8 L510.3,129.63 L510.8,129.46 L511.3,129.29 L511.8,129.13 L512.3,128.96 L512.8,128.79 L513.3,128.63 L513.8,128.46 L514.3,128.3 L514.8,128.13 L515.3,127.97 L515.8,127.8 L516.3,127.63 L516.8,127.47 L517.3,127.3 L517.8,127.13 L518.3,126.96 L518.8,126.79 L519.3,126.62 L519.8,126.45 L520.3,126.28 L520.8,126.12 L521.3,125.95 L521.8,125.78 L522.3,125.61 L522.8,125.44 L523.3,125.27 L523.8,125.1 L524.3,124.93 L524.8,124.77 L525.3,124.6 L525.8,124.43 L526.3,124.27 L526.8,124.1 L527.3,123.94 L527.8,123.77 L528.3,123.61 L528.8,123.45 L529.3,123.28 L529.8,123.11 L530.3,122.95 L530.8,122.78 L531.3,122.61 L531.8,122.43 L532.3,122.26 L532.8,122.08 L533.3,121.9 L533.8,121.71 L534.3,121.52 L534.8,121.32 L535.3,121.12 L535.8,120.92 L536.3,120.71 L536.8,120.5 L537.3,120.29 L537.8,120.08 L538.3,119.87 L538.8,119.67 L539.3,119.47 L539.8,119.27 L540.3,119.07 L540.8,118.89 L541.3,118.7 L541.8,118.53 L542.3,118.36 L542.8,118.2 L543.3,118.04 L543.8,117.88 L544.3,117.73 L544.8,117.58 L545.3,117.43 L545.8,117.28 L546.3,117.13 L546.8,116.98 L547.3,116.84 L547.8,116.69 L548.3,116.55 L548.8,116.4 L549.3,116.25 L549.8,116.1 L550.3,115.95 L550.8,115.79 L551.3,115.64 L551.8,115.48 L552.3,115.33 L552.8,115.17 L553.3,115.02 L553.8,114.86 L554.3,114.71 L554.8,114.55 L555.3,114.4 L555.8,114.25 L556.3,114.1 L556.8,113.96 L557.3,113.82 L557.8,113.68 L558.3,113.55 L558.8,113.41 L559.3,113.28 L559.8,113.14 L560.3,113.01 L560.8,112.88 L561.3,112.75 L561.8,112.62 L562.3,112.5 L562.8,112.37 L563.3,112.25 L563.8,112.14 L564.3,112.02 L564.8,111.91 L565.3,111.81 L565.8,111.71 L566.3,111.62 L566.8,111.53 L567.3,111.45 L567.8,111.38 L568.3,111.31 L568.8,111.24 L569.3,111.17 L569.8,111.11 L570.3,111.04 L570.8,110.98 L571.3,110.91 L571.8,110.83 L572.3,110.75 L572.8,110.66 L573.3,110.56 L573.3,180.24 L572.8,180.14 L572.3,180.05 L571.8,179.97 L571.3,179.89 L570.8,179.82 L570.3,179.76 L569.8,179.69 L569.3,179.63 L568.8,179.56 L568.3,179.49 L567.8,179.42 L567.3,179.35 L566.8,179.27 L566.3,179.18 L565.8,179.09 L565.3,178.99 L564.8,178.89 L564.3,178.78 L563.8,178.66 L563.3,178.55 L562.8,178.43 L562.3,178.3 L561.8,178.18 L561.3,178.05 L560.8,177.92 L560.3,177.79 L559.8,177.66 L559.3,177.52 L558.8,177.39 L558.3,177.25 L557.8,177.12 L557.3,176.98 L556.8,176.84 L556.3,176.7 L555.8,176.55 L555.3,176.4 L554.8,176.25 L554.3,176.09 L553.8,175.94 L553.3,175.78 L552.8,175.63 L552.3,175.47 L551.8,175.32 L551.3,175.16 L550.8,175.01 L550.3,174.85 L549.8,174.7 L549.3,174.55 L548.8,174.4 L548.3,174.25 L547.8,174.11 L547.3,173.96 L546.8,173.82 L546.3,173.67 L545.8,173.52 L545.3,173.37 L544.8,173.22 L544.3,173.07 L543.8,172.92 L543.3,172.76 L542.8,172.6 L542.3,172.44 L541.8,172.27 L541.3,172.1 L540.8,171.91 L540.3,171.73 L539.8,171.53 L539.3,171.33 L538.8,171.13 L538.3,170.93 L537.8,170.72 L537.3,170.51 L536.8,170.3 L536.3,170.09 L535.8,169.88 L535.3,169.68 L534.8,169.48 L534.3,169.28 L533.8,169.09 L533.3,168.9 L532.8,168.72 L532.3,168.54 L531.8,168.37 L531.3,168.19 L530.8,168.02 L530.3,167.85 L529.8,167.69 L529.3,167.52 L528.8,167.35 L528.3,167.19 L527.8,167.03 L527.3,166.86 L526.8,166.7 L526.3,166.53 L525.8,166.37 L525.3,166.2 L524.8,166.03 L524.3,165.87 L523.8,165.7 L523.3,165.53 L522.8,165.36 L522.3,165.19 L521.8,165.02 L521.3,164.85 L520.8,164.68 L520.3,164.52 L519.8,164.35 L519.3,164.18 L518.8,164.01 L518.3,163.84 L517.8,163.67 L517.3,163.5 L516.8,163.33 L516.3,163.17 L515.8,163 L515.3,162.83 L514.8,162.67 L514.3,162.5 L513.8,162.34 L513.3,162.17 L512.8,162.01 L512.3,161.84 L511.8,161.67 L511.3,161.51 L510.8,161.34 L510.3,161.17 L509.8,161 L509.3,160.82 L508.8,160.65 L508.3,160.47 L507.8,160.29 L507.3,160.11 L506.8,159.93 L506.3,159.74 L505.8,159.55 L505.3,159.36 L504.8,159.17 L504.3,158.98 L503.8,158.79 L503.3,158.59 L502.8,158.4 L502.3,158.2 L501.8,158 L501.3,157.8 L500.8,157.6 L500.3,157.4 L499.8,157.2 L499.3,157 L498.8,156.79 L498.3,156.58 L497.8,156.38 L497.3,156.17 L496.8,155.96 L496.3,155.74 L495.8,155.53 L495.3,155.32 L494.8,155.1 L494.3,154.88 L493.8,154.67 L493.3,154.45 L492.8,154.23 L492.3,154.01 L491.8,153.79 L491.3,153.57 L490.8,153.34 L490.3,153.1 L489.8,152.86 L489.3,152.62 L488.8,152.37 L488.3,152.13 L487.8,151.88 L487.3,151.64 L486.8,151.4 L486.3,151.16 L485.8,150.93 L485.3,150.7 L484.8,150.49 L484.3,150.28 L483.8,150.08 L483.3,149.9 L482.8,149.72 L482.3,149.55 L481.8,149.39 L481.3,149.23 L480.8,149.08 L480.3,148.93 L479.8,148.8 L479.3,148.67 L478.8,148.55 L478.3,148.43 L477.8,148.3 L477.3,148.19 L476.8,148.09 L476.3,148.02 L475.8,148 L475.3,148.08 L474.8,148.29 L474.3,148.59 L473.8,148.94 L473.3,149.3 L472.8,149.63 L472.3,149.9 L471.8,150.16 L471.3,150.41 L470.8,150.66 L470.3,150.9 L469.8,151.14 L469.3,151.38 L468.8,151.6 L468.3,151.83 L467.8,152.04 L467.3,152.25 L466.8,152.45 L466.3,152.65 L465.8,152.85 L465.3,153.04 L464.8,153.22 L464.3,153.41 L463.8,153.59 L463.3,153.77 L462.8,153.95 L462.3,154.13 L461.8,154.31 L461.3,154.5 L460.8,154.68 L460.3,154.87 L459.8,155.06 L459.3,155.26 L458.8,155.45 L458.3,155.65 L457.8,155.84 L457.3,156.04 L456.8,156.24 L456.3,156.44 L455.8,156.63 L455.3,156.83 L454.8,157.03 L454.3,157.23 L453.8,157.43 L453.3,157.63 L452.8,157.84 L452.3,158.04 L451.8,158.24 L451.3,158.44 L450.8,158.64 L450.3,158.84 L449.8,159.04 L449.3,159.25 L448.8,159.45 L448.3,159.65 L447.8,159.85 L447.3,160.06 L446.8,160.26 L446.3,160.46 L445.8,160.67 L445.3,160.88 L444.8,161.08 L444.3,161.29 L443.8,161.5 L443.3,161.71 L442.8,161.93 L442.3,162.14 L441.8,162.36 L441.3,162.58 L440.8,162.8 L440.3,163.02 L439.8,163.24 L439.3,163.46 L438.8,163.69 L438.3,163.91 L437.8,164.14 L437.3,164.37 L436.8,164.59 L436.3,164.82 L435.8,165.05 L435.3,165.27 L434.8,165.5 L434.3,165.73 L433.8,165.96 L433.3,166.19 L432.8,166.42 L432.3,166.65 L431.8,166.88 L431.3,167.11 L430.8,167.35 L430.3,167.58 L429.8,167.81 L429.3,168.05 L428.8,168.28 L428.3,168.51 L427.8,168.75 L427.3,168.98 L426.8,169.21 L426.3,169.44 L425.8,169.67 L425.3,169.9 L424.8,170.14 L424.3,170.37 L423.8,170.6 L423.3,170.84 L422.8,171.07 L422.3,171.3 L421.8,171.53 L421.3,171.76 L420.8,171.99 L420.3,172.22 L419.8,172.44 L419.3,172.66 L418.8,172.88 L418.3,173.1 L417.8,173.31 L417.3,173.52 L416.8,173.73 L416.3,173.94 L415.8,174.14 L415.3,174.34 L414.8,174.54 L414.3,174.74 L413.8,174.94 L413.3,175.14 L412.8,175.34 L412.3,175.54 L411.8,175.74 L411.3,175.94 L410.8,176.14 L410.3,176.34 L409.8,176.55 L409.3,176.75 L408.8,176.95 L408.3,177.15 L407.8,177.35 L407.3,177.55 L406.8,177.75 L406.3,177.95 L405.8,178.15 L405.3,178.36 L404.8,178.56 L404.3,178.76 L403.8,178.96 L403.3,179.16 L402.8,179.36 L402.3,179.56 L401.8,179.76 L401.3,179.96 L400.8,180.17 L400.3,180.37 L399.8,180.58 L399.3,180.79 L398.8,181 L398.3,181.21 L397.8,181.43 L397.3,181.66 L396.8,181.89 L396.3,182.12 L395.8,182.36 L395.3,182.6 L394.8,182.84 L394.3,183.08 L393.8,183.33 L393.3,183.57 L392.8,183.8 L392.3,184.04 L391.8,184.27 L391.3,184.49 L390.8,184.71 L390.3,184.92 L389.8,185.13 L389.3,185.33 L388.8,185.54 L388.3,185.74 L387.8,185.94 L387.3,186.15 L386.8,186.36 L386.3,186.57 L385.8,186.79 L385.3,187.01 L384.8,187.25 L384.3,187.5 L383.8,187.76 L383.3,188.03 L382.8,188.32 L382.3,188.6 L381.8,188.89 L381.3,189.17 L380.8,189.44 L380.3,189.7 L379.8,189.94 L379.3,190.16 L378.8,190.07 L378.3,189.89 L377.8,189.71 L377.3,189.53 L376.8,189.33 L376.3,189.14 L375.8,188.94 L375.3,188.73 L374.8,188.52 L374.3,188.32 L373.8,188.11 L373.3,187.9 L372.8,187.69 L372.3,187.48 L371.8,187.28 L371.3,187.08 L370.8,186.88 L370.3,186.68 L369.8,186.48 L369.3,186.28 L368.8,186.07 L368.3,185.87 L367.8,185.67 L367.3,185.46 L366.8,185.26 L366.3,185.05 L365.8,184.84 L365.3,184.63 L364.8,184.41 L364.3,184.19 L363.8,183.97 L363.3,183.74 L362.8,183.51 L362.3,183.28 L361.8,183.05 L361.3,182.82 L360.8,182.6 L360.3,182.38 L359.8,182.18 L359.3,181.98 L358.8,181.78 L358.3,181.59 L357.8,181.4 L357.3,181.22 L356.8,181.03 L356.3,180.85 L355.8,180.67 L355.3,180.48 L354.8,180.3 L354.3,180.11 L353.8,179.92 L353.3,179.72 L352.8,179.52 L352.3,179.32 L351.8,179.11 L351.3,178.89 L350.8,178.67 L350.3,178.45 L349.8,178.23 L349.3,178 L348.8,177.77 L348.3,177.54 L347.8,177.31 L347.3,177.07 L346.8,176.84 L346.3,176.61 L345.8,176.37 L345.3,176.14 L344.8,175.91 L344.3,175.68 L343.8,175.44 L343.3,175.21 L342.8,174.98 L342.3,174.75 L341.8,174.52 L341.3,174.28 L340.8,174.05 L340.3,173.81 L339.8,173.57 L339.3,173.33 L338.8,173.09 L338.3,172.85 L337.8,172.6 L337.3,172.35 L336.8,172.1 L336.3,171.84 L335.8,171.58 L335.3,171.31 L334.8,171.03 L334.3,170.76 L333.8,170.48 L333.3,170.2 L332.8,169.93 L332.3,169.65 L331.8,169.37 L331.3,169.1 L330.8,168.83 L330.3,168.56 L329.8,168.3 L329.3,168.05 L328.8,167.8 L328.3,167.55 L327.8,167.3 L327.3,167.06 L326.8,166.81 L326.3,166.57 L325.8,166.33 L325.3,166.09 L324.8,165.86 L324.3,165.62 L323.8,165.38 L323.3,165.14 L322.8,164.9 L322.3,164.67 L321.8,164.44 L321.3,164.2 L320.8,163.97 L320.3,163.75 L319.8,163.52 L319.3,163.29 L318.8,163.05 L318.3,162.82 L317.8,162.58 L317.3,162.34 L316.8,162.1 L316.3,161.85 L315.8,161.6 L315.3,161.34 L314.8,161.08 L314.3,160.81 L313.8,160.54 L313.3,160.27 L312.8,160 L312.3,159.72 L311.8,159.45 L311.3,159.17 L310.8,158.9 L310.3,158.63 L309.8,158.35 L309.3,158.08 L308.8,157.81 L308.3,157.54 L307.8,157.26 L307.3,156.99 L306.8,156.71 L306.3,156.44 L305.8,156.16 L305.3,155.89 L304.8,155.61 L304.3,155.34 L303.8,155.07 L303.3,154.81 L302.8,154.54 L302.3,154.28 L301.8,154.02 L301.3,153.77 L300.8,153.51 L300.3,153.26 L299.8,153.01 L299.3,152.76 L298.8,152.5 L298.3,152.25 L297.8,151.99 L297.3,151.73 L296.8,151.46 L296.3,151.19 L295.8,150.91 L295.3,150.62 L294.8,150.33 L294.3,150.06 L293.8,149.79 L293.3,149.5 L292.8,149.19 L292.3,148.91 L291.8,148.7 L291.3,148.6 L290.8,148.65 L290.3,148.82 L289.8,149.07 L289.3,149.36 L288.8,149.65 L288.3,149.9 L287.8,150.14 L287.3,150.39 L286.8,150.65 L286.3,150.92 L285.8,151.18 L285.3,151.45 L284.8,151.73 L284.3,152 L283.8,152.27 L283.3,152.55 L282.8,152.82 L282.3,153.09 L281.8,153.37 L281.3,153.65 L280.8,153.93 L280.3,154.22 L279.8,154.5 L279.3,154.78 L278.8,155.07 L278.3,155.35 L277.8,155.63 L277.3,155.91 L276.8,156.19 L276.3,156.47 L275.8,156.74 L275.3,157.01 L274.8,157.28 L274.3,157.55 L273.8,157.82 L273.3,158.09 L272.8,158.36 L272.3,158.63 L271.8,158.9 L271.3,159.18 L270.8,159.45 L270.3,159.73 L269.8,160.01 L269.3,160.3 L268.8,160.59 L268.3,160.88 L267.8,161.17 L267.3,161.46 L266.8,161.76 L266.3,162.05 L265.8,162.35 L265.3,162.64 L264.8,162.94 L264.3,163.24 L263.8,163.54 L263.3,163.83 L262.8,164.13 L262.3,164.43 L261.8,164.74 L261.3,165.04 L260.8,165.34 L260.3,165.64 L259.8,165.94 L259.3,166.25 L258.8,166.55 L258.3,166.85 L257.8,167.15 L257.3,167.46 L256.8,167.76 L256.3,168.06 L255.8,168.36 L255.3,168.66 L254.8,168.97 L254.3,169.27 L253.8,169.57 L253.3,169.87 L252.8,170.17 L252.3,170.48 L251.8,170.78 L251.3,171.08 L250.8,171.38 L250.3,171.68 L249.8,171.98 L249.3,172.28 L248.8,172.58 L248.3,172.88 L247.8,173.18 L247.3,173.47 L246.8,173.77 L246.3,174.06 L245.8,174.35 L245.3,174.64 L244.8,174.93 L244.3,175.22 L243.8,175.51 L243.3,175.8 L242.8,176.09 L242.3,176.39 L241.8,176.68 L241.3,176.98 L240.8,177.29 L240.3,177.59 L239.8,177.9 L239.3,178.21 L238.8,178.53 L238.3,178.85 L237.8,179.17 L237.3,179.5 L236.8,179.83 L236.3,180.16 L235.8,180.49 L235.3,180.82 L234.8,181.16 L234.3,181.49 L233.8,181.83 L233.3,182.16 L232.8,182.5 L232.3,182.83 L231.8,183.17 L231.3,183.5 L230.8,183.84 L230.3,184.19 L229.8,184.54 L229.3,184.89 L228.8,185.24 L228.3,185.6 L227.8,185.95 L227.3,186.31 L226.8,186.65 L226.3,187 L225.8,187.34 L225.3,187.67 L224.8,187.99 L224.3,188.31 L223.8,188.61 L223.3,188.9 L222.8,189.18 L222.3,189.45 L221.8,189.7 L221.3,189.95 L220.8,190.2 L220.3,190.43 L219.8,190.67 L219.3,190.9 L218.8,191.13 L218.3,191.36 L217.8,191.59 L217.3,191.83 L216.8,192.07 L216.3,192.31 L215.8,192.57 L215.3,192.84 L214.8,193.11 L214.3,193.4 L213.8,193.69 L213.3,194 L212.8,194.31 L212.3,194.62 L211.8,194.94 L211.3,195.27 L210.8,195.6 L210.3,195.93 L209.8,196.27 L209.3,196.61 L208.8,196.94 L208.3,197.28 L207.8,197.61 L207.3,197.94 L206.8,198.27 L206.3,198.6 L205.8,198.92 L205.3,199.23 L204.8,199.54 L204.3,199.84 L203.8,200.14 L203.3,200.44 L202.8,200.74 L202.3,201.03 L201.8,201.32 L201.3,201.61 L200.8,201.89 L200.3,202.17 L199.8,202.45 L199.3,202.34 L198.8,202.1 L198.3,201.85 L197.8,201.58 L197.3,201.32 L196.8,201.08 L196.3,200.86 L195.8,200.66 L195.3,200.46 L194.8,200.28 L194.3,200.1 L193.8,199.92 L193.3,199.75 L192.8,199.59 L192.3,199.42 L191.8,199.26 L191.3,199.09 L190.8,198.93 L190.3,198.77 L189.8,198.6 L189.3,198.43 L188.8,198.25 L188.3,198.07 L187.8,197.89 L187.3,197.7 L186.8,197.51 L186.3,197.31 L185.8,197.12 L185.3,196.92 L184.8,196.72 L184.3,196.52 L183.8,196.32 L183.3,196.12 L182.8,195.91 L182.3,195.71 L181.8,195.51 L181.3,195.3 L180.8,195.1 L180.3,194.9 L179.8,194.7 L179.3,194.5 L178.8,194.3 L178.3,194.11 L177.8,193.91 L177.3,193.72 L176.8,193.53 L176.3,193.33 L175.8,193.14 L175.3,192.94 L174.8,192.74 L174.3,192.54 L173.8,192.34 L173.3,192.13 L172.8,191.92 L172.3,191.71 L171.8,191.49 L171.3,191.26 L170.8,191.04 L170.3,190.8 L169.8,190.56 L169.3,190.32 L168.8,190.08 L168.3,189.83 L167.8,189.58 L167.3,189.32 L166.8,189.07 L166.3,188.81 L165.8,188.54 L165.3,188.28 L164.8,188.01 L164.3,187.74 L163.8,187.47 L163.3,187.2 L162.8,186.92 L162.3,186.64 L161.8,186.36 L161.3,186.06 L160.8,185.77 L160.3,185.47 L159.8,185.17 L159.3,184.86 L158.8,184.56 L158.3,184.26 L157.8,183.95 L157.3,183.65 L156.8,183.35 L156.3,183.05 L155.8,182.76 L155.3,182.47 L154.8,182.19 L154.3,181.9 L153.8,181.62 L153.3,181.34 L152.8,181.06 L152.3,180.78 L151.8,180.5 L151.3,180.22 L150.8,179.95 L150.3,179.67 L149.8,179.4 L149.3,179.13 L148.8,178.86 L148.3,178.59 L147.8,178.33 L147.3,178.07 L146.8,177.81 L146.3,177.55 L145.8,177.3 L145.3,177.05 L144.8,176.8 L144.3,176.56 L143.8,176.33 L143.3,176.09 L142.8,175.86 L142.3,175.63 L141.8,175.4 L141.3,175.17 L140.8,174.94 L140.3,174.71 L139.8,174.48 L139.3,174.25 L138.8,174.02 L138.3,173.78 L137.8,173.54 L137.3,173.3 L136.8,173.05 L136.3,172.79 L135.8,172.54 L135.3,172.27 L134.8,172 L134.3,171.72 L133.8,171.44 L133.3,171.15 L132.8,170.85 L132.3,170.55 L131.8,170.25 L131.3,169.94 L130.8,169.63 L130.3,169.31 L129.8,168.99 L129.3,168.67 L128.8,168.34 L128.3,168.01 L127.8,167.68 L127.3,167.35 L126.8,167.01 L126.3,166.68 L125.8,166.34 L125.3,166.01 L124.8,165.67 L124.3,165.34 L123.8,165 L123.3,164.67 L122.8,164.33 L122.3,164 L121.8,163.66 L121.3,163.33 L120.8,162.99 L120.3,162.65 L119.8,162.31 L119.3,161.97 L118.8,161.62 L118.3,161.28 L117.8,160.93 L117.3,160.58 L116.8,160.23 L116.3,159.88 L115.8,159.53 L115.3,159.18 L114.8,158.82 L114.3,158.46 L113.8,158.1 L113.3,157.74 L112.8,157.38 L112.3,157.01 L111.8,156.65 L111.3,156.27 L110.8,155.88 L110.3,155.46 L109.8,155.03 L109.3,154.59 L108.8,154.14 L108.3,153.69 L107.8,153.25 L107.3,152.82 L106.8,152.4 L106.3,152.01 L105.8,151.64 L105.3,151.3 L104.8,151 L104.3,150.74 L103.8,150.52 L103.3,150.33 L102.8,150.16 L102.3,150.01 L101.8,149.88 L101.3,149.75 L100.8,149.64 L100.3,149.54 L99.8,149.45 L99.3,149.37Z" fill="#2ea06c"/>
<path d="M99.3,314.09 L99.8,314.04 L100.3,314.04 L100.8,314.08 L101.3,314.13 L101.8,314.21 L102.3,314.32 L102.8,314.48 L103.3,314.7 L103.8,314.98 L104.3,315.34 L104.8,315.77 L105.3,316.28 L105.8,316.88 L106.3,317.57 L106.8,318.36 L107.3,319.26 L107.8,320.26 L108.3,321.37 L108.8,322.59 L109.3,323.94 L109.8,325.41 L110.3,327 L110.8,328.73 L111.3,330.59 L111.8,332.58 L112.3,334.71 L112.8,337.23 L113.3,339.85 L113.8,342.47 L114.3,345.09 L114.8,347.7 L115.3,350.31 L115.8,352.92 L116.3,355.52 L116.8,358.12 L117.3,360.72 L117.8,363.31 L118.3,365.9 L118.8,368.49 L119.3,371.07 L119.8,373.64 L120.3,376.21 L120.8,378.78 L121.3,381.34 L121.8,383.9 L122.3,386.45 L122.8,389 L123.3,391.54 L123.8,394.07 L124.3,391.55 L124.8,389.03 L125.3,386.52 L125.8,384 L126.3,381.49 L126.8,378.98 L127.3,376.48 L127.8,373.97 L128.3,371.47 L128.8,368.97 L129.3,366.48 L129.8,363.99 L130.3,361.5 L130.8,359.02 L131.3,356.54 L131.8,354.06 L132.3,351.59 L132.8,349.12 L133.3,346.66 L133.8,344.2 L134.3,341.75 L134.8,339.3 L135.3,336.94 L135.8,334.96 L136.3,333.13 L136.8,331.44 L137.3,329.87 L137.8,328.44 L138.3,327.13 L138.8,325.94 L139.3,324.86 L139.8,323.9 L140.3,323.05 L140.8,322.3 L141.3,321.65 L141.8,321.1 L142.3,320.63 L142.8,320.25 L143.3,319.95 L143.8,319.72 L144.3,319.56 L144.8,319.46 L145.3,319.41 L145.8,319.41 L146.3,319.45 L146.8,319.51 L147.3,319.59 L147.8,319.7 L148.3,319.84 L148.8,320.04 L149.3,320.28 L149.8,320.59 L150.3,320.97 L150.8,321.42 L151.3,321.94 L151.8,322.54 L152.3,323.22 L152.8,323.99 L153.3,324.85 L153.8,325.8 L154.3,326.85 L154.8,327.99 L155.3,329.24 L155.8,330.59 L156.3,332.05 L156.8,333.62 L157.3,335.3 L157.8,337.09 L158.3,338.99 L158.8,341.2 L159.3,343.55 L159.8,345.89 L160.3,348.22 L160.8,350.55 L161.3,352.88 L161.8,355.2 L162.3,357.51 L162.8,359.82 L163.3,362.12 L163.8,364.42 L164.3,366.71 L164.8,368.99 L165.3,371.27 L165.8,373.55 L166.3,375.82 L166.8,378.08 L167.3,380.34 L167.8,382.59 L168.3,384.84 L168.8,387.09 L169.3,389.32 L169.8,391.56 L170.3,393.78 L170.8,393.35 L171.3,391.15 L171.8,388.95 L172.3,386.76 L172.8,384.58 L173.3,382.4 L173.8,380.23 L174.3,378.06 L174.8,375.9 L175.3,373.75 L175.8,371.6 L176.3,369.45 L176.8,367.31 L177.3,365.18 L177.8,363.05 L178.3,360.93 L178.8,358.82 L179.3,356.7 L179.8,354.6 L180.3,352.5 L180.8,350.4 L181.3,348.31 L181.8,346.23 L182.3,344.15 L182.8,342.15 L183.3,340.48 L183.8,338.92 L184.3,337.47 L184.8,336.12 L185.3,334.88 L185.8,333.74 L186.3,332.69 L186.8,331.74 L187.3,330.88 L187.8,330.1 L188.3,329.41 L188.8,328.81 L189.3,328.28 L189.8,327.82 L190.3,327.44 L190.8,327.12 L191.3,326.87 L191.8,326.67 L192.3,326.53 L192.8,326.44 L193.3,326.4 L193.8,326.39 L194.3,326.42 L194.8,326.47 L195.3,326.54 L195.8,326.62 L196.3,326.73 L196.8,326.87 L197.3,327.06 L197.8,327.28 L198.3,327.56 L198.8,327.89 L199.3,328.28 L199.8,328.72 L200.3,329.23 L200.8,329.81 L201.3,330.45 L201.8,331.17 L202.3,331.96 L202.8,332.82 L203.3,333.77 L203.8,334.79 L204.3,335.9 L204.8,337.09 L205.3,338.37 L205.8,339.74 L206.3,341.2 L206.8,342.75 L207.3,344.4 L207.8,346.29 L208.3,348.32 L208.8,350.35 L209.3,352.38 L209.8,354.4 L210.3,356.42 L210.8,358.44 L211.3,360.46 L211.8,362.47 L212.3,364.49 L212.8,366.5 L213.3,368.5 L213.8,370.51 L214.3,372.52 L214.8,374.52 L215.3,376.52 L215.8,378.53 L216.3,380.53 L216.8,382.53 L217.3,384.53 L217.8,386.53 L218.3,388.53 L218.8,390.53 L219.3,392.53 L219.8,394.52 L220.3,394.13 L220.8,392.14 L221.3,390.15 L221.8,388.15 L222.3,386.15 L222.8,384.15 L223.3,382.14 L223.8,380.14 L224.3,378.14 L224.8,376.13 L225.3,374.12 L225.8,372.11 L226.3,370.11 L226.8,368.1 L227.3,366.09 L227.8,364.09 L228.3,362.08 L228.8,360.08 L229.3,358.08 L229.8,356.08 L230.3,354.08 L230.8,352.09 L231.3,350.09 L231.8,348.1 L232.3,346.36 L232.8,344.81 L233.3,343.36 L233.8,342.02 L234.3,340.78 L234.8,339.64 L235.3,338.6 L235.8,337.65 L236.3,336.79 L236.8,336.02 L237.3,335.33 L237.8,334.72 L238.3,334.19 L238.8,333.73 L239.3,333.34 L239.8,333.01 L240.3,332.75 L240.8,332.54 L241.3,332.38 L241.8,332.27 L242.3,332.2 L242.8,332.17 L243.3,332.17 L243.8,332.19 L244.3,332.22 L244.8,332.26 L245.3,332.33 L245.8,332.43 L246.3,332.56 L246.8,332.74 L247.3,332.95 L247.8,333.21 L248.3,333.52 L248.8,333.88 L249.3,334.3 L249.8,334.77 L250.3,335.3 L250.8,335.89 L251.3,336.55 L251.8,337.27 L252.3,338.06 L252.8,338.91 L253.3,339.84 L253.8,340.84 L254.3,341.91 L254.8,343.06 L255.3,344.28 L255.8,345.59 L256.3,346.97 L256.8,348.44 L257.3,350.16 L257.8,351.95 L258.3,353.74 L258.8,355.53 L259.3,357.31 L259.8,359.09 L260.3,360.88 L260.8,362.66 L261.3,364.44 L261.8,366.22 L262.3,368 L262.8,369.79 L263.3,371.57 L263.8,373.35 L264.3,375.14 L264.8,376.93 L265.3,378.72 L265.8,380.51 L266.3,382.3 L266.8,384.09 L267.3,385.89 L267.8,387.69 L268.3,389.5 L268.8,391.3 L269.3,393.11 L269.8,394.93 L270.3,394.57 L270.8,392.76 L271.3,390.95 L271.8,389.15 L272.3,387.35 L272.8,385.56 L273.3,383.76 L273.8,381.97 L274.3,380.19 L274.8,378.4 L275.3,376.62 L275.8,374.84 L276.3,373.06 L276.8,371.28 L277.3,369.5 L277.8,367.72 L278.3,365.94 L278.8,364.16 L279.3,362.38 L279.8,360.6 L280.3,358.82 L280.8,357.04 L281.3,355.26 L281.8,353.47 L282.3,351.69 L282.8,349.9 L283.3,348.34 L283.8,346.93 L284.3,345.6 L284.8,344.36 L285.3,343.2 L285.8,342.12 L286.3,341.12 L286.8,340.19 L287.3,339.35 L287.8,338.57 L288.3,337.87 L288.8,337.24 L289.3,336.68 L289.8,336.18 L290.3,335.75 L290.8,335.38 L291.3,335.07 L291.8,334.82 L292.3,334.62 L292.8,334.47 L293.3,334.37 L293.8,334.31 L294.3,334.28 L294.8,334.28 L295.3,334.31 L295.8,334.34 L296.3,334.4 L296.8,334.5 L297.3,334.64 L297.8,334.83 L298.3,335.08 L298.8,335.4 L299.3,335.79 L299.8,336.25 L300.3,336.8 L300.8,337.44 L301.3,338.17 L301.8,339 L302.3,339.94 L302.8,340.98 L303.3,342.14 L303.8,343.41 L304.3,344.8 L304.8,346.32 L305.3,347.96 L305.8,349.74 L306.3,351.83 L306.8,354.04 L307.3,356.24 L307.8,358.45 L308.3,360.64 L308.8,362.84 L309.3,365.02 L309.8,367.2 L310.3,369.36 L310.8,371.52 L311.3,373.67 L311.8,375.8 L312.3,377.92 L312.8,380.03 L313.3,382.12 L313.8,384.2 L314.3,386.26 L314.8,388.3 L315.3,390.33 L315.8,392.33 L316.3,394.31 L316.8,395.49 L317.3,393.56 L317.8,391.63 L318.3,389.72 L318.8,387.83 L319.3,385.95 L319.8,384.07 L320.3,382.22 L320.8,380.37 L321.3,378.53 L321.8,376.71 L322.3,374.89 L322.8,373.09 L323.3,371.29 L323.8,369.5 L324.3,367.72 L324.8,365.95 L325.3,364.18 L325.8,362.42 L326.3,360.67 L326.8,358.93 L327.3,357.19 L327.8,355.45 L328.3,353.72 L328.8,351.99 L329.3,350.52 L329.8,349.17 L330.3,347.92 L330.8,346.75 L331.3,345.66 L331.8,344.65 L332.3,343.72 L332.8,342.86 L333.3,342.08 L333.8,341.37 L334.3,340.73 L334.8,340.16 L335.3,339.65 L335.8,339.21 L336.3,338.82 L336.8,338.49 L337.3,338.22 L337.8,338 L338.3,337.82 L338.8,337.7 L339.3,337.61 L339.8,337.57 L340.3,337.55 L340.8,337.57 L341.3,337.6 L341.8,337.64 L342.3,337.71 L342.8,337.8 L343.3,337.93 L343.8,338.1 L344.3,338.31 L344.8,338.58 L345.3,338.9 L345.8,339.28 L346.3,339.73 L346.8,340.24 L347.3,340.82 L347.8,341.48 L348.3,342.21 L348.8,343.02 L349.3,343.91 L349.8,344.89 L350.3,345.96 L350.8,347.12 L351.3,348.38 L351.8,349.73 L352.3,351.18 L352.8,352.72 L353.3,354.55 L353.8,356.46 L354.3,358.36 L354.8,360.26 L355.3,362.16 L355.8,364.06 L356.3,365.96 L356.8,367.85 L357.3,369.74 L357.8,371.63 L358.3,373.52 L358.8,375.4 L359.3,377.28 L359.8,379.16 L360.3,381.03 L360.8,382.9 L361.3,384.77 L361.8,386.63 L362.3,388.49 L362.8,390.34 L363.3,392.19 L363.8,394.04 L364.3,395.88 L364.8,394.78 L365.3,392.95 L365.8,391.13 L366.3,389.31 L366.8,387.49 L367.3,385.67 L367.8,383.85 L368.3,382.04 L368.8,380.22 L369.3,378.41 L369.8,376.61 L370.3,374.8 L370.8,373 L371.3,371.2 L371.8,369.4 L372.3,367.6 L372.8,365.81 L373.3,364.02 L373.8,362.23 L374.3,360.44 L374.8,358.66 L375.3,356.88 L375.8,355.1 L376.3,353.56 L376.8,352.18 L377.3,350.9 L377.8,349.72 L378.3,348.63 L378.8,347.63 L379.3,346.71 L379.8,345.89 L380.3,345.14 L380.8,344.48 L381.3,343.89 L381.8,343.37 L382.3,342.93 L382.8,342.55 L383.3,342.23 L383.8,341.98 L384.3,341.78 L384.8,341.63 L385.3,341.52 L385.8,341.46 L386.3,341.44 L386.8,341.45 L387.3,341.48 L387.8,341.53 L388.3,341.59 L388.8,341.67 L389.3,341.79 L389.8,341.95 L390.3,342.15 L390.8,342.39 L391.3,342.69 L391.8,343.05 L392.3,343.46 L392.8,343.94 L393.3,344.48 L393.8,345.09 L394.3,345.77 L394.8,346.52 L395.3,347.35 L395.8,348.26 L396.3,349.25 L396.8,350.32 L397.3,351.47 L397.8,352.71 L398.3,354.04 L398.8,355.45 L399.3,357.06 L399.8,358.82 L400.3,360.58 L400.8,362.33 L401.3,364.07 L401.8,365.81 L402.3,367.54 L402.8,369.26 L403.3,370.98 L403.8,372.69 L404.3,374.39 L404.8,376.08 L405.3,377.77 L405.8,379.44 L406.3,381.11 L406.8,382.77 L407.3,384.42 L407.8,386.06 L408.3,387.7 L408.8,389.32 L409.3,390.93 L409.8,392.53 L410.3,394.12 L410.8,395.71 L411.3,396.03 L411.8,394.48 L412.3,392.94 L412.8,391.42 L413.3,389.91 L413.8,388.41 L414.3,386.93 L414.8,385.45 L415.3,383.99 L415.8,382.53 L416.3,381.08 L416.8,379.65 L417.3,378.22 L417.8,376.8 L418.3,375.39 L418.8,373.98 L419.3,372.58 L419.8,371.19 L420.3,369.8 L420.8,368.42 L421.3,367.05 L421.8,365.68 L422.3,364.31 L422.8,362.95 L423.3,361.59 L423.8,360.23 L424.3,358.88 L424.8,357.64 L425.3,356.55 L425.8,355.53 L426.3,354.57 L426.8,353.67 L427.3,352.83 L427.8,352.05 L428.3,351.32 L428.8,350.65 L429.3,350.02 L429.8,349.45 L430.3,348.93 L430.8,348.46 L431.3,348.04 L431.8,347.66 L432.3,347.33 L432.8,347.04 L433.3,346.79 L433.8,346.58 L434.3,346.41 L434.8,346.27 L435.3,346.17 L435.8,346.11 L436.3,346.07 L436.8,346.05 L437.3,346.06 L437.8,346.09 L438.3,346.12 L438.8,346.17 L439.3,346.23 L439.8,346.32 L440.3,346.45 L440.8,346.61 L441.3,346.81 L441.8,347.05 L442.3,347.35 L442.8,347.69 L443.3,348.1 L443.8,348.56 L444.3,349.09 L444.8,349.69 L445.3,350.35 L445.8,351.09 L446.3,351.91 L446.8,352.8 L447.3,353.78 L447.8,354.83 L448.3,355.98 L448.8,357.21 L449.3,358.53 L449.8,359.99 L450.3,361.67 L450.8,363.34 L451.3,365 L451.8,366.67 L452.3,368.32 L452.8,369.97 L453.3,371.61 L453.8,373.25 L454.3,374.88 L454.8,376.5 L455.3,378.1 L455.8,379.7 L456.3,381.29 L456.8,382.87 L457.3,384.43 L457.8,385.98 L458.3,387.52 L458.8,389.04 L459.3,390.55 L459.8,392.05 L460.3,393.53 L460.8,394.99 L461.3,396.43 L461.8,396.15 L462.3,394.75 L462.8,393.36 L463.3,391.99 L463.8,390.63 L464.3,389.29 L464.8,387.96 L465.3,386.64 L465.8,385.34 L466.3,384.04 L466.8,382.76 L467.3,381.49 L467.8,380.23 L468.3,378.98 L468.8,377.74 L469.3,376.5 L469.8,375.28 L470.3,374.06 L470.8,372.85 L471.3,371.64 L471.8,370.44 L472.3,369.24 L472.8,368.05 L473.3,366.86 L473.8,365.67 L474.3,364.48 L474.8,363.3 L475.3,362.12 L475.8,360.94 L476.3,359.9 L476.8,358.96 L477.3,358.06 L477.8,357.22 L478.3,356.42 L478.8,355.66 L479.3,354.95 L479.8,354.28 L480.3,353.66 L480.8,353.08 L481.3,352.54 L481.8,352.04 L482.3,351.58 L482.8,351.15 L483.3,350.77 L483.8,350.43 L484.3,350.12 L484.8,349.85 L485.3,349.62 L485.8,349.42 L486.3,349.25 L486.8,349.12 L487.3,349.02 L487.8,348.94 L488.3,348.9 L488.8,348.87 L489.3,348.87 L489.8,348.89 L490.3,348.92 L490.8,348.95 L491.3,349.01 L491.8,349.1 L492.3,349.21 L492.8,349.37 L493.3,349.57 L493.8,349.83 L494.3,350.13 L494.8,350.5 L495.3,350.93 L495.8,351.43 L496.3,352.01 L496.8,352.67 L497.3,353.41 L497.8,354.23 L498.3,355.15 L498.8,356.16 L499.3,357.27 L499.8,358.48 L500.3,359.8 L500.8,361.22 L501.3,362.91 L501.8,364.67 L502.3,366.43 L502.8,368.19 L503.3,369.94 L503.8,371.69 L504.3,373.43 L504.8,375.16 L505.3,376.89 L505.8,378.61 L506.3,380.32 L506.8,382.02 L507.3,383.7 L507.8,385.37 L508.3,387.03 L508.8,388.67 L509.3,390.3 L509.8,391.91 L510.3,393.5 L510.8,395.07 L511.3,396.62 L511.8,396.32 L512.3,394.81 L512.8,393.31 L513.3,391.82 L513.8,390.34 L514.3,388.87 L514.8,387.41 L515.3,385.96 L515.8,384.52 L516.3,383.08 L516.8,381.66 L517.3,380.24 L517.8,378.83 L518.3,377.43 L518.8,376.04 L519.3,374.65 L519.8,373.26 L520.3,371.88 L520.8,370.51 L521.3,369.14 L521.8,367.78 L522.3,366.41 L522.8,365.06 L523.3,363.7 L523.8,362.36 L524.3,361.25 L524.8,360.2 L525.3,359.23 L525.8,358.32 L526.3,357.47 L526.8,356.68 L527.3,355.96 L527.8,355.29 L528.3,354.68 L528.8,354.12 L529.3,353.62 L529.8,353.17 L530.3,352.76 L530.8,352.41 L531.3,352.1 L531.8,351.84 L532.3,351.62 L532.8,351.45 L533.3,351.31 L533.8,351.2 L534.3,351.13 L534.8,351.09 L535.3,351.08 L535.8,351.08 L536.3,351.1 L536.8,351.13 L537.3,351.18 L537.8,351.25 L538.3,351.36 L538.8,351.5 L539.3,351.68 L539.8,351.91 L540.3,352.18 L540.8,352.51 L541.3,352.9 L541.8,353.35 L542.3,353.86 L542.8,354.44 L543.3,355.09 L543.8,355.82 L544.3,356.62 L544.8,357.5 L545.3,358.46 L545.8,359.5 L546.3,360.63 L546.8,361.84 L547.3,363.14 L547.8,364.71 L548.3,366.29 L548.8,367.87 L549.3,369.45 L549.8,371.01 L550.3,372.58 L550.8,374.13 L551.3,375.68 L551.8,377.23 L552.3,378.76 L552.8,380.29 L553.3,381.8 L553.8,383.31 L554.3,384.81 L554.8,386.29 L555.3,387.77 L555.8,389.23 L556.3,390.68 L556.8,392.11 L557.3,393.54 L557.8,394.94 L558.3,396.34 L558.8,397.17 L559.3,395.8 L559.8,394.44 L560.3,393.09 L560.8,391.74 L561.3,390.39 L561.8,389.05 L562.3,387.72 L562.8,386.39 L563.3,385.06 L563.8,383.74 L564.3,382.43 L564.8,381.12 L565.3,379.81 L565.8,378.51 L566.3,377.22 L566.8,375.93 L567.3,374.65 L567.8,373.37 L568.3,372.1 L568.8,370.83 L569.3,369.57 L569.8,368.32 L570.3,367.07 L570.8,365.82 L571.3,364.58 L571.8,363.46 L572.3,362.48 L572.8,361.56 L573.3,360.7 L573.3,448.7 L572.8,447.84 L572.3,446.92 L571.8,445.94 L571.3,444.82 L570.8,443.58 L570.3,442.33 L569.8,441.08 L569.3,439.83 L568.8,438.57 L568.3,437.3 L567.8,436.03 L567.3,434.75 L566.8,433.47 L566.3,432.18 L565.8,430.89 L565.3,429.59 L564.8,428.28 L564.3,426.97 L563.8,425.66 L563.3,424.34 L562.8,423.01 L562.3,421.68 L561.8,420.35 L561.3,419.01 L560.8,417.66 L560.3,416.31 L559.8,414.96 L559.3,413.6 L558.8,412.23 L558.3,413.06 L557.8,414.46 L557.3,415.86 L556.8,417.29 L556.3,418.72 L555.8,420.17 L555.3,421.63 L554.8,423.11 L554.3,424.59 L553.8,426.09 L553.3,427.6 L552.8,429.11 L552.3,430.64 L551.8,432.17 L551.3,433.72 L550.8,435.27 L550.3,436.82 L549.8,438.39 L549.3,439.95 L548.8,441.53 L548.3,443.11 L547.8,444.69 L547.3,446.26 L546.8,447.56 L546.3,448.77 L545.8,449.9 L545.3,450.94 L544.8,451.9 L544.3,452.78 L543.8,453.58 L543.3,454.31 L542.8,454.96 L542.3,455.54 L541.8,456.05 L541.3,456.5 L540.8,456.89 L540.3,457.22 L539.8,457.49 L539.3,457.72 L538.8,457.9 L538.3,458.04 L537.8,458.15 L537.3,458.22 L536.8,458.27 L536.3,458.3 L535.8,458.32 L535.3,458.32 L534.8,458.31 L534.3,458.27 L533.8,458.2 L533.3,458.09 L532.8,457.95 L532.3,457.78 L531.8,457.56 L531.3,457.3 L530.8,456.99 L530.3,456.64 L529.8,456.23 L529.3,455.78 L528.8,455.28 L528.3,454.72 L527.8,454.11 L527.3,453.44 L526.8,452.72 L526.3,451.93 L525.8,451.08 L525.3,450.17 L524.8,449.2 L524.3,448.15 L523.8,447.04 L523.3,445.7 L522.8,444.34 L522.3,442.99 L521.8,441.62 L521.3,440.26 L520.8,438.89 L520.3,437.52 L519.8,436.14 L519.3,434.75 L518.8,433.36 L518.3,431.97 L517.8,430.57 L517.3,429.16 L516.8,427.74 L516.3,426.32 L515.8,424.88 L515.3,423.44 L514.8,421.99 L514.3,420.53 L513.8,419.06 L513.3,417.58 L512.8,416.09 L512.3,414.59 L511.8,413.08 L511.3,412.78 L510.8,414.33 L510.3,415.9 L509.8,417.49 L509.3,419.1 L508.8,420.73 L508.3,422.37 L507.8,424.03 L507.3,425.7 L506.8,427.38 L506.3,429.08 L505.8,430.79 L505.3,432.51 L504.8,434.24 L504.3,435.97 L503.8,437.71 L503.3,439.46 L502.8,441.21 L502.3,442.97 L501.8,444.73 L501.3,446.49 L500.8,448.18 L500.3,449.6 L499.8,450.92 L499.3,452.13 L498.8,453.24 L498.3,454.25 L497.8,455.17 L497.3,455.99 L496.8,456.73 L496.3,457.39 L495.8,457.97 L495.3,458.47 L494.8,458.9 L494.3,459.27 L493.8,459.57 L493.3,459.83 L492.8,460.03 L492.3,460.19 L491.8,460.3 L491.3,460.39 L490.8,460.45 L490.3,460.48 L489.8,460.51 L489.3,460.53 L488.8,460.53 L488.3,460.5 L487.8,460.46 L487.3,460.38 L486.8,460.28 L486.3,460.15 L485.8,459.98 L485.3,459.78 L484.8,459.55 L484.3,459.28 L483.8,458.97 L483.3,458.63 L482.8,458.25 L482.3,457.82 L481.8,457.36 L481.3,456.86 L480.8,456.32 L480.3,455.74 L479.8,455.12 L479.3,454.45 L478.8,453.74 L478.3,452.98 L477.8,452.18 L477.3,451.34 L476.8,450.44 L476.3,449.5 L475.8,448.46 L475.3,447.28 L474.8,446.1 L474.3,444.92 L473.8,443.73 L473.3,442.54 L472.8,441.35 L472.3,440.16 L471.8,438.96 L471.3,437.76 L470.8,436.55 L470.3,435.34 L469.8,434.12 L469.3,432.9 L468.8,431.66 L468.3,430.42 L467.8,429.17 L467.3,427.91 L466.8,426.64 L466.3,425.36 L465.8,424.06 L465.3,422.76 L464.8,421.44 L464.3,420.11 L463.8,418.77 L463.3,417.41 L462.8,416.04 L462.3,414.65 L461.8,413.25 L461.3,412.97 L460.8,414.41 L460.3,415.87 L459.8,417.35 L459.3,418.85 L458.8,420.36 L458.3,421.88 L457.8,423.42 L457.3,424.97 L456.8,426.53 L456.3,428.11 L455.8,429.7 L455.3,431.3 L454.8,432.9 L454.3,434.52 L453.8,436.15 L453.3,437.79 L452.8,439.43 L452.3,441.08 L451.8,442.73 L451.3,444.4 L450.8,446.06 L450.3,447.73 L449.8,449.41 L449.3,450.87 L448.8,452.19 L448.3,453.42 L447.8,454.57 L447.3,455.62 L446.8,456.6 L446.3,457.49 L445.8,458.31 L445.3,459.05 L444.8,459.71 L444.3,460.31 L443.8,460.84 L443.3,461.3 L442.8,461.71 L442.3,462.05 L441.8,462.35 L441.3,462.59 L440.8,462.79 L440.3,462.95 L439.8,463.08 L439.3,463.17 L438.8,463.23 L438.3,463.28 L437.8,463.31 L437.3,463.34 L436.8,463.35 L436.3,463.33 L435.8,463.29 L435.3,463.23 L434.8,463.13 L434.3,462.99 L433.8,462.82 L433.3,462.61 L432.8,462.36 L432.3,462.07 L431.8,461.74 L431.3,461.36 L430.8,460.94 L430.3,460.47 L429.8,459.95 L429.3,459.38 L428.8,458.75 L428.3,458.08 L427.8,457.35 L427.3,456.57 L426.8,455.73 L426.3,454.83 L425.8,453.87 L425.3,452.85 L424.8,451.76 L424.3,450.52 L423.8,449.17 L423.3,447.81 L422.8,446.45 L422.3,445.09 L421.8,443.72 L421.3,442.35 L420.8,440.98 L420.3,439.6 L419.8,438.21 L419.3,436.82 L418.8,435.42 L418.3,434.01 L417.8,432.6 L417.3,431.18 L416.8,429.75 L416.3,428.32 L415.8,426.87 L415.3,425.41 L414.8,423.95 L414.3,422.47 L413.8,420.99 L413.3,419.49 L412.8,417.98 L412.3,416.46 L411.8,414.92 L411.3,413.37 L410.8,413.69 L410.3,415.28 L409.8,416.87 L409.3,418.47 L408.8,420.08 L408.3,421.7 L407.8,423.34 L407.3,424.98 L406.8,426.63 L406.3,428.29 L405.8,429.96 L405.3,431.63 L404.8,433.32 L404.3,435.01 L403.8,436.71 L403.3,438.42 L402.8,440.14 L402.3,441.86 L401.8,443.59 L401.3,445.33 L400.8,447.07 L400.3,448.82 L399.8,450.58 L399.3,452.34 L398.8,453.95 L398.3,455.36 L397.8,456.69 L397.3,457.93 L396.8,459.08 L396.3,460.15 L395.8,461.14 L395.3,462.05 L394.8,462.88 L394.3,463.63 L393.8,464.31 L393.3,464.92 L392.8,465.46 L392.3,465.94 L391.8,466.35 L391.3,466.71 L390.8,467.01 L390.3,467.25 L389.8,467.45 L389.3,467.61 L388.8,467.73 L388.3,467.81 L387.8,467.87 L387.3,467.92 L386.8,467.95 L386.3,467.96 L385.8,467.94 L385.3,467.88 L384.8,467.77 L384.3,467.62 L383.8,467.42 L383.3,467.17 L382.8,466.85 L382.3,466.47 L381.8,466.03 L381.3,465.51 L380.8,464.92 L380.3,464.26 L379.8,463.51 L379.3,462.69 L378.8,461.77 L378.3,460.77 L377.8,459.68 L377.3,458.5 L376.8,457.22 L376.3,455.84 L375.8,454.3 L375.3,452.52 L374.8,450.74 L374.3,448.96 L373.8,447.17 L373.3,445.38 L372.8,443.59 L372.3,441.8 L371.8,440 L371.3,438.2 L370.8,436.4 L370.3,434.6 L369.8,432.79 L369.3,430.99 L368.8,429.18 L368.3,427.36 L367.8,425.55 L367.3,423.73 L366.8,421.91 L366.3,420.09 L365.8,418.27 L365.3,416.45 L364.8,414.62 L364.3,413.52 L363.8,415.36 L363.3,417.21 L362.8,419.06 L362.3,420.91 L361.8,422.77 L361.3,424.63 L360.8,426.5 L360.3,428.37 L359.8,430.24 L359.3,432.12 L358.8,434 L358.3,435.88 L357.8,437.77 L357.3,439.66 L356.8,441.55 L356.3,443.44 L355.8,445.34 L355.3,447.24 L354.8,449.14 L354.3,451.04 L353.8,452.94 L353.3,454.85 L352.8,456.68 L352.3,458.22 L351.8,459.67 L351.3,461.02 L350.8,462.28 L350.3,463.44 L349.8,464.51 L349.3,465.49 L348.8,466.38 L348.3,467.19 L347.8,467.92 L347.3,468.58 L346.8,469.16 L346.3,469.67 L345.8,470.12 L345.3,470.5 L344.8,470.82 L344.3,471.09 L343.8,471.3 L343.3,471.47 L342.8,471.6 L342.3,471.69 L341.8,471.76 L341.3,471.8 L340.8,471.83 L340.3,471.85 L339.8,471.83 L339.3,471.79 L338.8,471.7 L338.3,471.58 L337.8,471.4 L337.3,471.18 L336.8,470.91 L336.3,470.58 L335.8,470.19 L335.3,469.75 L334.8,469.24 L334.3,468.67 L333.8,468.03 L333.3,467.32 L332.8,466.54 L332.3,465.68 L331.8,464.75 L331.3,463.74 L330.8,462.65 L330.3,461.48 L329.8,460.23 L329.3,458.88 L328.8,457.41 L328.3,455.68 L327.8,453.95 L327.3,452.21 L326.8,450.47 L326.3,448.73 L325.8,446.98 L325.3,445.22 L324.8,443.45 L324.3,441.68 L323.8,439.9 L323.3,438.11 L322.8,436.31 L322.3,434.51 L321.8,432.69 L321.3,430.87 L320.8,429.03 L320.3,427.18 L319.8,425.33 L319.3,423.45 L318.8,421.57 L318.3,419.68 L317.8,417.77 L317.3,415.84 L316.8,413.91 L316.3,415.09 L315.8,417.07 L315.3,419.07 L314.8,421.1 L314.3,423.14 L313.8,425.2 L313.3,427.28 L312.8,429.37 L312.3,431.48 L311.8,433.6 L311.3,435.73 L310.8,437.88 L310.3,440.04 L309.8,442.2 L309.3,444.38 L308.8,446.56 L308.3,448.76 L307.8,450.95 L307.3,453.16 L306.8,455.36 L306.3,457.57 L305.8,459.66 L305.3,461.44 L304.8,463.08 L304.3,464.6 L303.8,465.99 L303.3,467.26 L302.8,468.42 L302.3,469.46 L301.8,470.4 L301.3,471.23 L300.8,471.96 L300.3,472.6 L299.8,473.15 L299.3,473.61 L298.8,474 L298.3,474.32 L297.8,474.57 L297.3,474.76 L296.8,474.9 L296.3,475 L295.8,475.06 L295.3,475.09 L294.8,475.12 L294.3,475.12 L293.8,475.09 L293.3,475.03 L292.8,474.93 L292.3,474.78 L291.8,474.58 L291.3,474.33 L290.8,474.02 L290.3,473.65 L289.8,473.22 L289.3,472.72 L288.8,472.16 L288.3,471.53 L287.8,470.83 L287.3,470.05 L286.8,469.21 L286.3,468.28 L285.8,467.28 L285.3,466.2 L284.8,465.04 L284.3,463.8 L283.8,462.47 L283.3,461.06 L282.8,459.5 L282.3,457.71 L281.8,455.93 L281.3,454.14 L280.8,452.36 L280.3,450.58 L279.8,448.8 L279.3,447.02 L278.8,445.24 L278.3,443.46 L277.8,441.68 L277.3,439.9 L276.8,438.12 L276.3,436.34 L275.8,434.56 L275.3,432.78 L274.8,431 L274.3,429.21 L273.8,427.43 L273.3,425.64 L272.8,423.84 L272.3,422.05 L271.8,420.25 L271.3,418.45 L270.8,416.64 L270.3,414.83 L269.8,414.47 L269.3,416.29 L268.8,418.1 L268.3,419.9 L267.8,421.71 L267.3,423.51 L266.8,425.31 L266.3,427.1 L265.8,428.89 L265.3,430.68 L264.8,432.47 L264.3,434.26 L263.8,436.05 L263.3,437.83 L262.8,439.61 L262.3,441.4 L261.8,443.18 L261.3,444.96 L260.8,446.74 L260.3,448.52 L259.8,450.31 L259.3,452.09 L258.8,453.87 L258.3,455.66 L257.8,457.45 L257.3,459.24 L256.8,460.96 L256.3,462.43 L255.8,463.81 L255.3,465.12 L254.8,466.34 L254.3,467.49 L253.8,468.56 L253.3,469.56 L252.8,470.49 L252.3,471.34 L251.8,472.13 L251.3,472.85 L250.8,473.51 L250.3,474.1 L249.8,474.63 L249.3,475.1 L248.8,475.52 L248.3,475.88 L247.8,476.19 L247.3,476.45 L246.8,476.66 L246.3,476.84 L245.8,476.97 L245.3,477.07 L244.8,477.14 L244.3,477.18 L243.8,477.21 L243.3,477.23 L242.8,477.23 L242.3,477.2 L241.8,477.13 L241.3,477.02 L240.8,476.86 L240.3,476.65 L239.8,476.39 L239.3,476.06 L238.8,475.67 L238.3,475.21 L237.8,474.68 L237.3,474.07 L236.8,473.38 L236.3,472.61 L235.8,471.75 L235.3,470.8 L234.8,469.76 L234.3,468.62 L233.8,467.38 L233.3,466.04 L232.8,464.59 L232.3,463.04 L231.8,461.3 L231.3,459.31 L230.8,457.31 L230.3,455.32 L229.8,453.32 L229.3,451.32 L228.8,449.32 L228.3,447.32 L227.8,445.31 L227.3,443.31 L226.8,441.3 L226.3,439.29 L225.8,437.29 L225.3,435.28 L224.8,433.27 L224.3,431.26 L223.8,429.26 L223.3,427.26 L222.8,425.25 L222.3,423.25 L221.8,421.25 L221.3,419.25 L220.8,417.26 L220.3,415.27 L219.8,414.88 L219.3,416.87 L218.8,418.87 L218.3,420.87 L217.8,422.87 L217.3,424.87 L216.8,426.87 L216.3,428.87 L215.8,430.87 L215.3,432.88 L214.8,434.88 L214.3,436.88 L213.8,438.89 L213.3,440.9 L212.8,442.9 L212.3,444.91 L211.8,446.93 L211.3,448.94 L210.8,450.96 L210.3,452.98 L209.8,455 L209.3,457.02 L208.8,459.05 L208.3,461.08 L207.8,463.11 L207.3,465 L206.8,466.65 L206.3,468.2 L205.8,469.66 L205.3,471.03 L204.8,472.31 L204.3,473.5 L203.8,474.61 L203.3,475.63 L202.8,476.58 L202.3,477.44 L201.8,478.23 L201.3,478.95 L200.8,479.59 L200.3,480.17 L199.8,480.68 L199.3,481.12 L198.8,481.51 L198.3,481.84 L197.8,482.12 L197.3,482.34 L196.8,482.53 L196.3,482.67 L195.8,482.78 L195.3,482.86 L194.8,482.93 L194.3,482.98 L193.8,483.01 L193.3,483 L192.8,482.96 L192.3,482.87 L191.8,482.73 L191.3,482.53 L190.8,482.28 L190.3,481.96 L189.8,481.58 L189.3,481.12 L188.8,480.59 L188.3,479.99 L187.8,479.3 L187.3,478.52 L186.8,477.66 L186.3,476.71 L185.8,475.66 L185.3,474.52 L184.8,473.28 L184.3,471.93 L183.8,470.48 L183.3,468.92 L182.8,467.25 L182.3,465.25 L181.8,463.17 L181.3,461.09 L180.8,459 L180.3,456.9 L179.8,454.8 L179.3,452.7 L178.8,450.58 L178.3,448.47 L177.8,446.35 L177.3,444.22 L176.8,442.09 L176.3,439.95 L175.8,437.8 L175.3,435.65 L174.8,433.5 L174.3,431.34 L173.8,429.17 L173.3,427 L172.8,424.82 L172.3,422.64 L171.8,420.45 L171.3,418.25 L170.8,416.05 L170.3,415.62 L169.8,417.84 L169.3,420.08 L168.8,422.31 L168.3,424.56 L167.8,426.81 L167.3,429.06 L166.8,431.32 L166.3,433.58 L165.8,435.85 L165.3,438.13 L164.8,440.41 L164.3,442.69 L163.8,444.98 L163.3,447.28 L162.8,449.58 L162.3,451.89 L161.8,454.2 L161.3,456.52 L160.8,458.85 L160.3,461.18 L159.8,463.51 L159.3,465.85 L158.8,468.2 L158.3,470.41 L157.8,472.31 L157.3,474.1 L156.8,475.78 L156.3,477.35 L155.8,478.81 L155.3,480.16 L154.8,481.41 L154.3,482.55 L153.8,483.6 L153.3,484.55 L152.8,485.41 L152.3,486.18 L151.8,486.86 L151.3,487.46 L150.8,487.98 L150.3,488.43 L149.8,488.81 L149.3,489.12 L148.8,489.36 L148.3,489.56 L147.8,489.7 L147.3,489.81 L146.8,489.89 L146.3,489.95 L145.8,489.99 L145.3,489.99 L144.8,489.94 L144.3,489.84 L143.8,489.68 L143.3,489.45 L142.8,489.15 L142.3,488.77 L141.8,488.3 L141.3,487.75 L140.8,487.1 L140.3,486.35 L139.8,485.5 L139.3,484.54 L138.8,483.46 L138.3,482.27 L137.8,480.96 L137.3,479.53 L136.8,477.96 L136.3,476.27 L135.8,474.44 L135.3,472.46 L134.8,470.1 L134.3,467.65 L133.8,465.2 L133.3,462.74 L132.8,460.28 L132.3,457.81 L131.8,455.34 L131.3,452.86 L130.8,450.38 L130.3,447.9 L129.8,445.41 L129.3,442.92 L128.8,440.43 L128.3,437.93 L127.8,435.43 L127.3,432.92 L126.8,430.42 L126.3,427.91 L125.8,425.4 L125.3,422.88 L124.8,420.37 L124.3,417.85 L123.8,415.33 L123.3,417.86 L122.8,420.4 L122.3,422.95 L121.8,425.5 L121.3,428.06 L120.8,430.62 L120.3,433.19 L119.8,435.76 L119.3,438.33 L118.8,440.91 L118.3,443.5 L117.8,446.09 L117.3,448.68 L116.8,451.28 L116.3,453.88 L115.8,456.48 L115.3,459.09 L114.8,461.7 L114.3,464.31 L113.8,466.93 L113.3,469.55 L112.8,472.17 L112.3,474.69 L111.8,476.82 L111.3,478.81 L110.8,480.67 L110.3,482.4 L109.8,483.99 L109.3,485.46 L108.8,486.81 L108.3,488.03 L107.8,489.14 L107.3,490.14 L106.8,491.04 L106.3,491.83 L105.8,492.52 L105.3,493.12 L104.8,493.63 L104.3,494.06 L103.8,494.42 L103.3,494.7 L102.8,494.92 L102.3,495.08 L101.8,495.19 L101.3,495.27 L100.8,495.32 L100.3,495.36 L99.8,495.36 L99.3,495.31Z" fill="#999999"/>
<path d="M99.3,369.06 L99.8,370.76 L100.3,372.53 L100.8,374.4 L101.3,374.4 L101.8,373.15 L102.3,371.91 L102.8,370.68 L103.3,369.44 L103.8,368.17 L104.3,366.88 L104.8,365.55 L105.3,364.16 L105.8,362.72 L106.3,361.22 L106.8,359.66 L107.3,358.04 L107.8,356.35 L108.3,354.61 L108.8,352.81 L109.3,350.95 L109.8,349.05 L110.3,347.1 L110.8,345.11 L111.3,343.09 L111.8,341.04 L112.3,338.96 L112.8,336.93 L113.3,335.04 L113.8,333.28 L114.3,331.65 L114.8,330.15 L115.3,328.78 L115.8,327.52 L116.3,326.39 L116.8,325.37 L117.3,324.46 L117.8,323.65 L118.3,322.95 L118.8,322.34 L119.3,321.83 L119.8,321.4 L120.3,321.05 L120.8,320.78 L121.3,320.58 L121.8,320.45 L122.3,320.37 L122.8,320.35 L123.3,320.36 L123.8,320.4 L124.3,320.46 L124.8,320.54 L125.3,320.66 L125.8,320.84 L126.3,321.07 L126.8,321.36 L127.3,321.72 L127.8,322.16 L128.3,322.68 L128.8,323.28 L129.3,323.97 L129.8,324.76 L130.3,325.64 L130.8,326.62 L131.3,327.71 L131.8,328.91 L132.3,330.21 L132.8,331.64 L133.3,333.18 L133.8,334.84 L134.3,336.62 L134.8,338.53 L135.3,340.59 L135.8,342.75 L136.3,344.9 L136.8,347.06 L137.3,349.21 L137.8,351.35 L138.3,353.49 L138.8,355.63 L139.3,357.76 L139.8,359.88 L140.3,362.01 L140.8,364.12 L141.3,366.24 L141.8,368.34 L142.3,370.45 L142.8,372.54 L143.3,374.64 L143.8,376.72 L144.3,378.8 L144.8,380.88 L145.3,382.95 L145.8,385.01 L146.3,387.07 L146.8,388.3 L147.3,386.28 L147.8,384.26 L148.3,382.24 L148.8,380.23 L149.3,378.22 L149.8,376.22 L150.3,374.22 L150.8,372.23 L151.3,370.24 L151.8,368.26 L152.3,366.29 L152.8,364.31 L153.3,362.35 L153.8,360.38 L154.3,358.42 L154.8,356.47 L155.3,354.52 L155.8,352.58 L156.3,350.64 L156.8,348.7 L157.3,346.77 L157.8,344.85 L158.3,342.93 L158.8,341.08 L159.3,339.38 L159.8,337.79 L160.3,336.33 L160.8,334.97 L161.3,333.72 L161.8,332.57 L162.3,331.53 L162.8,330.59 L163.3,329.74 L163.8,328.98 L164.3,328.32 L164.8,327.73 L165.3,327.23 L165.8,326.8 L166.3,326.45 L166.8,326.17 L167.3,325.95 L167.8,325.78 L168.3,325.68 L168.8,325.62 L169.3,325.61 L169.8,325.63 L170.3,325.68 L170.8,325.74 L171.3,325.82 L171.8,325.93 L172.3,326.08 L172.8,326.27 L173.3,326.51 L173.8,326.8 L174.3,327.16 L174.8,327.57 L175.3,328.05 L175.8,328.6 L176.3,329.22 L176.8,329.92 L177.3,330.69 L177.8,331.55 L178.3,332.49 L178.8,333.51 L179.3,334.63 L179.8,335.83 L180.3,337.12 L180.8,338.51 L181.3,340 L181.8,341.58 L182.3,343.27 L182.8,345.07 L183.3,346.95 L183.8,348.83 L184.3,350.71 L184.8,352.58 L185.3,354.45 L185.8,356.31 L186.3,358.17 L186.8,360.02 L187.3,361.87 L187.8,363.72 L188.3,365.56 L188.8,367.39 L189.3,369.23 L189.8,371.05 L190.3,372.88 L190.8,374.7 L191.3,376.51 L191.8,378.32 L192.3,380.13 L192.8,381.93 L193.3,383.72 L193.8,385.52 L194.3,387.31 L194.8,389.09 L195.3,388.75 L195.8,387 L196.3,385.26 L196.8,383.53 L197.3,381.8 L197.8,380.07 L198.3,378.36 L198.8,376.64 L199.3,374.94 L199.8,373.23 L200.3,371.54 L200.8,369.85 L201.3,368.16 L201.8,366.48 L202.3,364.8 L202.8,363.12 L203.3,361.45 L203.8,359.79 L204.3,358.12 L204.8,356.46 L205.3,354.81 L205.8,353.15 L206.3,351.5 L206.8,349.86 L207.3,348.21 L207.8,346.62 L208.3,345.15 L208.8,343.77 L209.3,342.49 L209.8,341.3 L210.3,340.2 L210.8,339.18 L211.3,338.24 L211.8,337.39 L212.3,336.62 L212.8,335.92 L213.3,335.29 L213.8,334.74 L214.3,334.25 L214.8,333.83 L215.3,333.48 L215.8,333.18 L216.3,332.94 L216.8,332.75 L217.3,332.61 L217.8,332.51 L218.3,332.46 L218.8,332.44 L219.3,332.45 L219.8,332.48 L220.3,332.53 L220.8,332.59 L221.3,332.67 L221.8,332.79 L222.3,332.95 L222.8,333.15 L223.3,333.4 L223.8,333.71 L224.3,334.07 L224.8,334.49 L225.3,334.99 L225.8,335.55 L226.3,336.18 L226.8,336.89 L227.3,337.68 L227.8,338.55 L228.3,339.5 L228.8,340.55 L229.3,341.68 L229.8,342.91 L230.3,344.23 L230.8,345.65 L231.3,347.16 L231.8,348.78 L232.3,350.53 L232.8,352.3 L233.3,354.06 L233.8,355.82 L234.3,357.58 L234.8,359.34 L235.3,361.09 L235.8,362.83 L236.3,364.58 L236.8,366.31 L237.3,368.05 L237.8,369.77 L238.3,371.49 L238.8,373.21 L239.3,374.92 L239.8,376.62 L240.3,378.32 L240.8,380.01 L241.3,381.69 L241.8,383.37 L242.3,385.03 L242.8,386.7 L243.3,388.35 L243.8,389.99 L244.3,389.67 L244.8,388.05 L245.3,386.44 L245.8,384.84 L246.3,383.24 L246.8,381.65 L247.3,380.06 L247.8,378.48 L248.3,376.91 L248.8,375.34 L249.3,373.77 L249.8,372.22 L250.3,370.66 L250.8,369.11 L251.3,367.57 L251.8,366.03 L252.3,364.49 L252.8,362.96 L253.3,361.43 L253.8,359.91 L254.3,358.38 L254.8,356.87 L255.3,355.35 L255.8,353.84 L256.3,352.33 L256.8,350.82 L257.3,349.39 L257.8,348.05 L258.3,346.8 L258.8,345.62 L259.3,344.52 L259.8,343.5 L260.3,342.56 L260.8,341.68 L261.3,340.88 L261.8,340.14 L262.3,339.47 L262.8,338.87 L263.3,338.32 L263.8,337.84 L264.3,337.41 L264.8,337.04 L265.3,336.73 L265.8,336.46 L266.3,336.24 L266.8,336.07 L267.3,335.94 L267.8,335.85 L268.3,335.79 L268.8,335.76 L269.3,335.77 L269.8,335.79 L270.3,335.82 L270.8,335.87 L271.3,335.93 L271.8,336.03 L272.3,336.15 L272.8,336.31 L273.3,336.52 L273.8,336.76 L274.3,337.05 L274.8,337.39 L275.3,337.78 L275.8,338.22 L276.3,338.72 L276.8,339.28 L277.3,339.9 L277.8,340.58 L278.3,341.33 L278.8,342.14 L279.3,343.03 L279.8,343.98 L280.3,345.01 L280.8,346.12 L281.3,347.31 L281.8,348.57 L282.3,349.92 L282.8,351.35 L283.3,352.9 L283.8,354.46 L284.3,356.03 L284.8,357.6 L285.3,359.17 L285.8,360.74 L286.3,362.32 L286.8,363.9 L287.3,365.48 L287.8,367.07 L288.3,368.66 L288.8,370.26 L289.3,371.86 L289.8,373.47 L290.3,375.08 L290.8,376.69 L291.3,378.31 L291.8,379.94 L292.3,381.57 L292.8,383.21 L293.3,384.86 L293.8,386.51 L294.3,388.17 L294.8,389.83 L295.3,390.84 L295.8,389.16 L296.3,387.47 L296.8,385.76 L297.3,384.04 L297.8,382.3 L298.3,380.55 L298.8,378.79 L299.3,377.02 L299.8,375.24 L300.3,373.45 L300.8,371.66 L301.3,369.85 L301.8,368.04 L302.3,366.22 L302.8,364.4 L303.3,362.57 L303.8,360.75 L304.3,358.91 L304.8,357.08 L305.3,355.25 L305.8,353.42 L306.3,351.66 L306.8,350.05 L307.3,348.57 L307.8,347.21 L308.3,345.97 L308.8,344.85 L309.3,343.83 L309.8,342.93 L310.3,342.13 L310.8,341.42 L311.3,340.82 L311.8,340.3 L312.3,339.86 L312.8,339.5 L313.3,339.22 L313.8,339 L314.3,338.84 L314.8,338.74 L315.3,338.68 L315.8,338.66 L316.3,338.68 L316.8,338.71 L317.3,338.75 L317.8,338.82 L318.3,338.92 L318.8,339.05 L319.3,339.22 L319.8,339.44 L320.3,339.71 L320.8,340.03 L321.3,340.4 L321.8,340.83 L322.3,341.32 L322.8,341.86 L323.3,342.47 L323.8,343.15 L324.3,343.88 L324.8,344.69 L325.3,345.57 L325.8,346.51 L326.3,347.53 L326.8,348.62 L327.3,349.79 L327.8,351.03 L328.3,352.35 L328.8,353.76 L329.3,355.26 L329.8,356.78 L330.3,358.29 L330.8,359.8 L331.3,361.31 L331.8,362.82 L332.3,364.32 L332.8,365.83 L333.3,367.34 L333.8,368.84 L334.3,370.35 L334.8,371.86 L335.3,373.37 L335.8,374.88 L336.3,376.4 L336.8,377.91 L337.3,379.43 L337.8,380.95 L338.3,382.48 L338.8,384.01 L339.3,385.54 L339.8,387.08 L340.3,388.62 L340.8,390.17 L341.3,391.73 L341.8,390.18 L342.3,388.64 L342.8,387.09 L343.3,385.54 L343.8,383.98 L344.3,382.43 L344.8,380.88 L345.3,379.32 L345.8,377.76 L346.3,376.2 L346.8,374.65 L347.3,373.09 L347.8,371.53 L348.3,369.97 L348.8,368.41 L349.3,366.85 L349.8,365.29 L350.3,363.73 L350.8,362.17 L351.3,360.61 L351.8,359.05 L352.3,357.49 L352.8,355.94 L353.3,354.45 L353.8,353.09 L354.3,351.81 L354.8,350.64 L355.3,349.55 L355.8,348.56 L356.3,347.65 L356.8,346.83 L357.3,346.09 L357.8,345.43 L358.3,344.85 L358.8,344.34 L359.3,343.9 L359.8,343.52 L360.3,343.21 L360.8,342.96 L361.3,342.77 L361.8,342.62 L362.3,342.52 L362.8,342.47 L363.3,342.45 L363.8,342.46 L364.3,342.49 L364.8,342.54 L365.3,342.6 L365.8,342.68 L366.3,342.81 L366.8,342.97 L367.3,343.17 L367.8,343.42 L368.3,343.73 L368.8,344.09 L369.3,344.51 L369.8,344.99 L370.3,345.54 L370.8,346.15 L371.3,346.84 L371.8,347.6 L372.3,348.44 L372.8,349.35 L373.3,350.35 L373.8,351.43 L374.3,352.59 L374.8,353.84 L375.3,355.18 L375.8,356.61 L376.3,358.15 L376.8,359.71 L377.3,361.27 L377.8,362.82 L378.3,364.37 L378.8,365.92 L379.3,367.47 L379.8,369.01 L380.3,370.55 L380.8,372.09 L381.3,373.62 L381.8,375.15 L382.3,376.68 L382.8,378.2 L383.3,379.73 L383.8,381.24 L384.3,382.76 L384.8,384.27 L385.3,385.78 L385.8,387.29 L386.3,388.79 L386.8,390.29 L387.3,391.78 L387.8,391.49 L388.3,390.01 L388.8,388.54 L389.3,387.06 L389.8,385.58 L390.3,384.1 L390.8,382.63 L391.3,381.15 L391.8,379.68 L392.3,378.2 L392.8,376.73 L393.3,375.26 L393.8,373.79 L394.3,372.33 L394.8,370.87 L395.3,369.41 L395.8,367.95 L396.3,366.49 L396.8,365.04 L397.3,363.59 L397.8,362.15 L398.3,360.71 L398.8,359.27 L399.3,357.88 L399.8,356.59 L400.3,355.4 L400.8,354.3 L401.3,353.28 L401.8,352.34 L402.3,351.49 L402.8,350.71 L403.3,350.01 L403.8,349.39 L404.3,348.83 L404.8,348.34 L405.3,347.91 L405.8,347.54 L406.3,347.23 L406.8,346.97 L407.3,346.76 L407.8,346.6 L408.3,346.48 L408.8,346.4 L409.3,346.35 L409.8,346.34 L410.3,346.35 L410.8,346.38 L411.3,346.42 L411.8,346.47 L412.3,346.53 L412.8,346.62 L413.3,346.74 L413.8,346.89 L414.3,347.06 L414.8,347.27 L415.3,347.52 L415.8,347.8 L416.3,348.12 L416.8,348.49 L417.3,348.89 L417.8,349.34 L418.3,349.83 L418.8,350.37 L419.3,350.95 L419.8,351.58 L420.3,352.26 L420.8,352.98 L421.3,353.76 L421.8,354.59 L422.3,355.47 L422.8,356.41 L423.3,357.4 L423.8,358.45 L424.3,359.55 L424.8,360.73 L425.3,361.94 L425.8,363.15 L426.3,364.36 L426.8,365.56 L427.3,366.77 L427.8,367.98 L428.3,369.18 L428.8,370.39 L429.3,371.6 L429.8,372.81 L430.3,374.02 L430.8,375.24 L431.3,376.45 L431.8,377.67 L432.3,378.89 L432.8,380.11 L433.3,381.34 L433.8,382.57 L434.3,383.81 L434.8,385.05 L435.3,386.3 L435.8,387.55 L436.3,388.8 L436.8,390.07 L437.3,391.33 L437.8,392.61 L438.3,392.36 L438.8,391.08 L439.3,389.79 L439.8,388.5 L440.3,387.19 L440.8,385.88 L441.3,384.55 L441.8,383.22 L442.3,381.89 L442.8,380.55 L443.3,379.2 L443.8,377.85 L444.3,376.49 L444.8,375.13 L445.3,373.77 L445.8,372.4 L446.3,371.04 L446.8,369.67 L447.3,368.3 L447.8,366.93 L448.3,365.56 L448.8,364.19 L449.3,362.83 L449.8,361.48 L450.3,360.24 L450.8,359.09 L451.3,358.03 L451.8,357.05 L452.3,356.15 L452.8,355.34 L453.3,354.59 L453.8,353.93 L454.3,353.33 L454.8,352.8 L455.3,352.34 L455.8,351.93 L456.3,351.59 L456.8,351.3 L457.3,351.06 L457.8,350.87 L458.3,350.72 L458.8,350.61 L459.3,350.53 L459.8,350.49 L460.3,350.47 L460.8,350.47 L461.3,350.49 L461.8,350.52 L462.3,350.55 L462.8,350.6 L463.3,350.67 L463.8,350.76 L464.3,350.88 L464.8,351.02 L465.3,351.19 L465.8,351.39 L466.3,351.61 L466.8,351.87 L467.3,352.16 L467.8,352.48 L468.3,352.83 L468.8,353.22 L469.3,353.64 L469.8,354.1 L470.3,354.59 L470.8,355.12 L471.3,355.69 L471.8,356.3 L472.3,356.94 L472.8,357.63 L473.3,358.35 L473.8,359.12 L474.3,359.93 L474.8,360.79 L475.3,361.69 L475.8,362.63 L476.3,363.64 L476.8,364.67 L477.3,365.69 L477.8,366.72 L478.3,367.75 L478.8,368.78 L479.3,369.81 L479.8,370.85 L480.3,371.89 L480.8,372.94 L481.3,373.99 L481.8,375.05 L482.3,376.11 L482.8,377.18 L483.3,378.26 L483.8,379.35 L484.3,380.44 L484.8,381.54 L485.3,382.65 L485.8,383.77 L486.3,384.9 L486.8,386.04 L487.3,387.19 L487.8,388.35 L488.3,389.52 L488.8,390.71 L489.3,391.91 L489.8,393.12 L490.3,392.87 L490.8,391.63 L491.3,390.37 L491.8,389.09 L492.3,387.79 L492.8,386.48 L493.3,385.15 L493.8,383.8 L494.3,382.44 L494.8,381.07 L495.3,379.68 L495.8,378.29 L496.3,376.88 L496.8,375.46 L497.3,374.04 L497.8,372.61 L498.3,371.17 L498.8,369.72 L499.3,368.28 L499.8,366.82 L500.3,365.37 L500.8,363.91 L501.3,362.53 L501.8,361.26 L502.3,360.09 L502.8,359.01 L503.3,358.04 L503.8,357.15 L504.3,356.36 L504.8,355.65 L505.3,355.03 L505.8,354.48 L506.3,354.01 L506.8,353.61 L507.3,353.28 L507.8,353 L508.3,352.79 L508.8,352.63 L509.3,352.51 L509.8,352.44 L510.3,352.4 L510.8,352.38 L511.3,352.39 L511.8,352.41 L512.3,352.45 L512.8,352.5 L513.3,352.58 L513.8,352.69 L514.3,352.83 L514.8,353 L515.3,353.22 L515.8,353.47 L516.3,353.77 L516.8,354.11 L517.3,354.5 L517.8,354.93 L518.3,355.42 L518.8,355.95 L519.3,356.53 L519.8,357.17 L520.3,357.86 L520.8,358.6 L521.3,359.4 L521.8,360.26 L522.3,361.18 L522.8,362.15 L523.3,363.19 L523.8,364.29 L524.3,365.47 L524.8,366.65 L525.3,367.82 L525.8,369 L526.3,370.17 L526.8,371.35 L527.3,372.52 L527.8,373.7 L528.3,374.88 L528.8,376.05 L529.3,377.24 L529.8,378.42 L530.3,379.6 L530.8,380.79 L531.3,381.98 L531.8,383.18 L532.3,384.38 L532.8,385.58 L533.3,386.79 L533.8,388 L534.3,389.22 L534.8,390.45 L535.3,391.68 L535.8,392.91 L536.3,393.66 L536.8,392.41 L537.3,391.16 L537.8,389.9 L538.3,388.63 L538.8,387.35 L539.3,386.07 L539.8,384.78 L540.3,383.49 L540.8,382.19 L541.3,380.89 L541.8,379.58 L542.3,378.27 L542.8,376.95 L543.3,375.63 L543.8,374.32 L544.3,373 L544.8,371.67 L545.3,370.35 L545.8,369.03 L546.3,367.71 L546.8,366.39 L547.3,365.07 L547.8,363.84 L548.3,362.71 L548.8,361.66 L549.3,360.7 L549.8,359.81 L550.3,359.01 L550.8,358.28 L551.3,357.63 L551.8,357.04 L552.3,356.52 L552.8,356.07 L553.3,355.68 L553.8,355.35 L554.3,355.07 L554.8,354.84 L555.3,354.65 L555.8,354.51 L556.3,354.41 L556.8,354.34 L557.3,354.3 L557.8,354.28 L558.3,354.29 L558.8,354.3 L559.3,354.33 L559.8,354.37 L560.3,354.42 L560.8,354.51 L561.3,354.62 L561.8,354.75 L562.3,354.92 L562.8,355.13 L563.3,355.37 L563.8,355.65 L564.3,355.97 L564.8,356.33 L565.3,356.73 L565.8,357.17 L566.3,357.66 L566.8,358.2 L567.3,358.78 L567.8,359.41 L568.3,360.09 L568.8,360.82 L569.3,361.6 L569.8,362.43 L570.3,363.31 L570.8,364.24 L571.3,365.22 L571.8,366.28 L572.3,367.35 L572.8,368.41 L573.3,369.48 L573.3,439.92 L572.8,440.99 L572.3,442.05 L571.8,443.12 L571.3,444.18 L570.8,445.16 L570.3,446.09 L569.8,446.97 L569.3,447.8 L568.8,448.58 L568.3,449.31 L567.8,449.99 L567.3,450.62 L566.8,451.2 L566.3,451.74 L565.8,452.23 L565.3,452.67 L564.8,453.07 L564.3,453.43 L563.8,453.75 L563.3,454.03 L562.8,454.27 L562.3,454.48 L561.8,454.65 L561.3,454.78 L560.8,454.89 L560.3,454.98 L559.8,455.03 L559.3,455.07 L558.8,455.1 L558.3,455.11 L557.8,455.12 L557.3,455.1 L556.8,455.06 L556.3,454.99 L555.8,454.89 L555.3,454.75 L554.8,454.56 L554.3,454.33 L553.8,454.05 L553.3,453.72 L552.8,453.33 L552.3,452.88 L551.8,452.36 L551.3,451.77 L550.8,451.12 L550.3,450.39 L549.8,449.59 L549.3,448.7 L548.8,447.74 L548.3,446.69 L547.8,445.56 L547.3,444.33 L546.8,443.01 L546.3,441.69 L545.8,440.37 L545.3,439.05 L544.8,437.73 L544.3,436.4 L543.8,435.08 L543.3,433.77 L542.8,432.45 L542.3,431.13 L541.8,429.82 L541.3,428.51 L540.8,427.21 L540.3,425.91 L539.8,424.62 L539.3,423.33 L538.8,422.05 L538.3,420.77 L537.8,419.5 L537.3,418.24 L536.8,416.99 L536.3,415.74 L535.8,416.49 L535.3,417.72 L534.8,418.95 L534.3,420.18 L533.8,421.4 L533.3,422.61 L532.8,423.82 L532.3,425.02 L531.8,426.22 L531.3,427.42 L530.8,428.61 L530.3,429.8 L529.8,430.98 L529.3,432.16 L528.8,433.35 L528.3,434.52 L527.8,435.7 L527.3,436.88 L526.8,438.05 L526.3,439.23 L525.8,440.4 L525.3,441.58 L524.8,442.75 L524.3,443.93 L523.8,445.11 L523.3,446.21 L522.8,447.25 L522.3,448.22 L521.8,449.14 L521.3,450 L520.8,450.8 L520.3,451.54 L519.8,452.23 L519.3,452.87 L518.8,453.45 L518.3,453.98 L517.8,454.47 L517.3,454.9 L516.8,455.29 L516.3,455.63 L515.8,455.93 L515.3,456.18 L514.8,456.4 L514.3,456.57 L513.8,456.71 L513.3,456.82 L512.8,456.9 L512.3,456.95 L511.8,456.99 L511.3,457.01 L510.8,457.02 L510.3,457 L509.8,456.96 L509.3,456.89 L508.8,456.77 L508.3,456.61 L507.8,456.4 L507.3,456.12 L506.8,455.79 L506.3,455.39 L505.8,454.92 L505.3,454.37 L504.8,453.75 L504.3,453.04 L503.8,452.25 L503.3,451.36 L502.8,450.39 L502.3,449.31 L501.8,448.14 L501.3,446.87 L500.8,445.49 L500.3,444.03 L499.8,442.58 L499.3,441.12 L498.8,439.68 L498.3,438.23 L497.8,436.79 L497.3,435.36 L496.8,433.94 L496.3,432.52 L495.8,431.11 L495.3,429.72 L494.8,428.33 L494.3,426.96 L493.8,425.6 L493.3,424.25 L492.8,422.92 L492.3,421.61 L491.8,420.31 L491.3,419.03 L490.8,417.77 L490.3,416.53 L489.8,416.28 L489.3,417.49 L488.8,418.69 L488.3,419.88 L487.8,421.05 L487.3,422.21 L486.8,423.36 L486.3,424.5 L485.8,425.63 L485.3,426.75 L484.8,427.86 L484.3,428.96 L483.8,430.05 L483.3,431.14 L482.8,432.22 L482.3,433.29 L481.8,434.35 L481.3,435.41 L480.8,436.46 L480.3,437.51 L479.8,438.55 L479.3,439.59 L478.8,440.62 L478.3,441.65 L477.8,442.68 L477.3,443.71 L476.8,444.73 L476.3,445.76 L475.8,446.77 L475.3,447.71 L474.8,448.61 L474.3,449.47 L473.8,450.28 L473.3,451.05 L472.8,451.77 L472.3,452.46 L471.8,453.1 L471.3,453.71 L470.8,454.28 L470.3,454.81 L469.8,455.3 L469.3,455.76 L468.8,456.18 L468.3,456.57 L467.8,456.92 L467.3,457.24 L466.8,457.53 L466.3,457.79 L465.8,458.01 L465.3,458.21 L464.8,458.38 L464.3,458.52 L463.8,458.64 L463.3,458.73 L462.8,458.8 L462.3,458.85 L461.8,458.88 L461.3,458.91 L460.8,458.93 L460.3,458.93 L459.8,458.91 L459.3,458.87 L458.8,458.79 L458.3,458.68 L457.8,458.53 L457.3,458.34 L456.8,458.1 L456.3,457.81 L455.8,457.47 L455.3,457.06 L454.8,456.6 L454.3,456.07 L453.8,455.47 L453.3,454.81 L452.8,454.06 L452.3,453.25 L451.8,452.35 L451.3,451.37 L450.8,450.31 L450.3,449.16 L449.8,447.92 L449.3,446.57 L448.8,445.21 L448.3,443.84 L447.8,442.47 L447.3,441.1 L446.8,439.73 L446.3,438.36 L445.8,437 L445.3,435.63 L444.8,434.27 L444.3,432.91 L443.8,431.55 L443.3,430.2 L442.8,428.85 L442.3,427.51 L441.8,426.18 L441.3,424.85 L440.8,423.52 L440.3,422.21 L439.8,420.9 L439.3,419.61 L438.8,418.32 L438.3,417.04 L437.8,416.79 L437.3,418.07 L436.8,419.33 L436.3,420.6 L435.8,421.85 L435.3,423.1 L434.8,424.35 L434.3,425.59 L433.8,426.83 L433.3,428.06 L432.8,429.29 L432.3,430.51 L431.8,431.73 L431.3,432.95 L430.8,434.16 L430.3,435.38 L429.8,436.59 L429.3,437.8 L428.8,439.01 L428.3,440.22 L427.8,441.42 L427.3,442.63 L426.8,443.84 L426.3,445.04 L425.8,446.25 L425.3,447.46 L424.8,448.67 L424.3,449.85 L423.8,450.95 L423.3,452 L422.8,452.99 L422.3,453.93 L421.8,454.81 L421.3,455.64 L420.8,456.42 L420.3,457.14 L419.8,457.82 L419.3,458.45 L418.8,459.03 L418.3,459.57 L417.8,460.06 L417.3,460.51 L416.8,460.91 L416.3,461.28 L415.8,461.6 L415.3,461.88 L414.8,462.13 L414.3,462.34 L413.8,462.51 L413.3,462.66 L412.8,462.78 L412.3,462.87 L411.8,462.93 L411.3,462.98 L410.8,463.02 L410.3,463.05 L409.8,463.06 L409.3,463.05 L408.8,463 L408.3,462.92 L407.8,462.8 L407.3,462.64 L406.8,462.43 L406.3,462.17 L405.8,461.86 L405.3,461.49 L404.8,461.06 L404.3,460.57 L403.8,460.01 L403.3,459.39 L402.8,458.69 L402.3,457.91 L401.8,457.06 L401.3,456.12 L400.8,455.1 L400.3,454 L399.8,452.81 L399.3,451.52 L398.8,450.13 L398.3,448.69 L397.8,447.25 L397.3,445.81 L396.8,444.36 L396.3,442.91 L395.8,441.45 L395.3,439.99 L394.8,438.53 L394.3,437.07 L393.8,435.61 L393.3,434.14 L392.8,432.67 L392.3,431.2 L391.8,429.72 L391.3,428.25 L390.8,426.77 L390.3,425.3 L389.8,423.82 L389.3,422.34 L388.8,420.86 L388.3,419.39 L387.8,417.91 L387.3,417.62 L386.8,419.11 L386.3,420.61 L385.8,422.11 L385.3,423.62 L384.8,425.13 L384.3,426.64 L383.8,428.16 L383.3,429.67 L382.8,431.2 L382.3,432.72 L381.8,434.25 L381.3,435.78 L380.8,437.31 L380.3,438.85 L379.8,440.39 L379.3,441.93 L378.8,443.48 L378.3,445.03 L377.8,446.58 L377.3,448.13 L376.8,449.69 L376.3,451.25 L375.8,452.79 L375.3,454.22 L374.8,455.56 L374.3,456.81 L373.8,457.97 L373.3,459.05 L372.8,460.05 L372.3,460.96 L371.8,461.8 L371.3,462.56 L370.8,463.25 L370.3,463.86 L369.8,464.41 L369.3,464.89 L368.8,465.31 L368.3,465.67 L367.8,465.98 L367.3,466.23 L366.8,466.43 L366.3,466.59 L365.8,466.72 L365.3,466.8 L364.8,466.86 L364.3,466.91 L363.8,466.94 L363.3,466.95 L362.8,466.93 L362.3,466.88 L361.8,466.78 L361.3,466.63 L360.8,466.44 L360.3,466.19 L359.8,465.88 L359.3,465.5 L358.8,465.06 L358.3,464.55 L357.8,463.97 L357.3,463.31 L356.8,462.57 L356.3,461.75 L355.8,460.84 L355.3,459.85 L354.8,458.76 L354.3,457.59 L353.8,456.31 L353.3,454.95 L352.8,453.46 L352.3,451.91 L351.8,450.35 L351.3,448.79 L350.8,447.23 L350.3,445.67 L349.8,444.11 L349.3,442.55 L348.8,440.99 L348.3,439.43 L347.8,437.87 L347.3,436.31 L346.8,434.75 L346.3,433.2 L345.8,431.64 L345.3,430.08 L344.8,428.52 L344.3,426.97 L343.8,425.42 L343.3,423.86 L342.8,422.31 L342.3,420.76 L341.8,419.22 L341.3,417.67 L340.8,419.23 L340.3,420.78 L339.8,422.32 L339.3,423.86 L338.8,425.39 L338.3,426.92 L337.8,428.45 L337.3,429.97 L336.8,431.49 L336.3,433 L335.8,434.52 L335.3,436.03 L334.8,437.54 L334.3,439.05 L333.8,440.56 L333.3,442.06 L332.8,443.57 L332.3,445.08 L331.8,446.58 L331.3,448.09 L330.8,449.6 L330.3,451.11 L329.8,452.62 L329.3,454.14 L328.8,455.64 L328.3,457.05 L327.8,458.37 L327.3,459.61 L326.8,460.78 L326.3,461.87 L325.8,462.89 L325.3,463.83 L324.8,464.71 L324.3,465.52 L323.8,466.25 L323.3,466.93 L322.8,467.54 L322.3,468.08 L321.8,468.57 L321.3,469 L320.8,469.37 L320.3,469.69 L319.8,469.96 L319.3,470.18 L318.8,470.35 L318.3,470.48 L317.8,470.58 L317.3,470.65 L316.8,470.69 L316.3,470.72 L315.8,470.74 L315.3,470.72 L314.8,470.66 L314.3,470.56 L313.8,470.4 L313.3,470.18 L312.8,469.9 L312.3,469.54 L311.8,469.1 L311.3,468.58 L310.8,467.98 L310.3,467.27 L309.8,466.47 L309.3,465.57 L308.8,464.55 L308.3,463.43 L307.8,462.19 L307.3,460.83 L306.8,459.35 L306.3,457.74 L305.8,455.98 L305.3,454.15 L304.8,452.32 L304.3,450.49 L303.8,448.65 L303.3,446.83 L302.8,445 L302.3,443.18 L301.8,441.36 L301.3,439.55 L300.8,437.74 L300.3,435.95 L299.8,434.16 L299.3,432.38 L298.8,430.61 L298.3,428.85 L297.8,427.1 L297.3,425.36 L296.8,423.64 L296.3,421.93 L295.8,420.24 L295.3,418.56 L294.8,419.57 L294.3,421.23 L293.8,422.89 L293.3,424.54 L292.8,426.19 L292.3,427.83 L291.8,429.46 L291.3,431.09 L290.8,432.71 L290.3,434.32 L289.8,435.93 L289.3,437.54 L288.8,439.14 L288.3,440.74 L287.8,442.33 L287.3,443.92 L286.8,445.5 L286.3,447.08 L285.8,448.66 L285.3,450.23 L284.8,451.8 L284.3,453.37 L283.8,454.94 L283.3,456.5 L282.8,458.05 L282.3,459.48 L281.8,460.83 L281.3,462.09 L280.8,463.28 L280.3,464.39 L279.8,465.42 L279.3,466.37 L278.8,467.26 L278.3,468.07 L277.8,468.82 L277.3,469.5 L276.8,470.12 L276.3,470.68 L275.8,471.18 L275.3,471.62 L274.8,472.01 L274.3,472.35 L273.8,472.64 L273.3,472.88 L272.8,473.09 L272.3,473.25 L271.8,473.37 L271.3,473.47 L270.8,473.53 L270.3,473.58 L269.8,473.61 L269.3,473.63 L268.8,473.64 L268.3,473.61 L267.8,473.55 L267.3,473.46 L266.8,473.33 L266.3,473.16 L265.8,472.94 L265.3,472.67 L264.8,472.36 L264.3,471.99 L263.8,471.56 L263.3,471.08 L262.8,470.53 L262.3,469.93 L261.8,469.26 L261.3,468.52 L260.8,467.72 L260.3,466.84 L259.8,465.9 L259.3,464.88 L258.8,463.78 L258.3,462.6 L257.8,461.35 L257.3,460.01 L256.8,458.58 L256.3,457.07 L255.8,455.56 L255.3,454.05 L254.8,452.53 L254.3,451.02 L253.8,449.49 L253.3,447.97 L252.8,446.44 L252.3,444.91 L251.8,443.37 L251.3,441.83 L250.8,440.29 L250.3,438.74 L249.8,437.18 L249.3,435.63 L248.8,434.06 L248.3,432.49 L247.8,430.92 L247.3,429.34 L246.8,427.75 L246.3,426.16 L245.8,424.56 L245.3,422.96 L244.8,421.35 L244.3,419.73 L243.8,419.41 L243.3,421.05 L242.8,422.7 L242.3,424.37 L241.8,426.03 L241.3,427.71 L240.8,429.39 L240.3,431.08 L239.8,432.78 L239.3,434.48 L238.8,436.19 L238.3,437.91 L237.8,439.63 L237.3,441.35 L236.8,443.09 L236.3,444.82 L235.8,446.57 L235.3,448.31 L234.8,450.06 L234.3,451.82 L233.8,453.58 L233.3,455.34 L232.8,457.1 L232.3,458.87 L231.8,460.62 L231.3,462.24 L230.8,463.75 L230.3,465.17 L229.8,466.49 L229.3,467.72 L228.8,468.85 L228.3,469.9 L227.8,470.85 L227.3,471.72 L226.8,472.51 L226.3,473.22 L225.8,473.85 L225.3,474.41 L224.8,474.91 L224.3,475.33 L223.8,475.69 L223.3,476 L222.8,476.25 L222.3,476.45 L221.8,476.61 L221.3,476.73 L220.8,476.81 L220.3,476.87 L219.8,476.92 L219.3,476.95 L218.8,476.96 L218.3,476.94 L217.8,476.89 L217.3,476.79 L216.8,476.65 L216.3,476.46 L215.8,476.22 L215.3,475.92 L214.8,475.57 L214.3,475.15 L213.8,474.66 L213.3,474.11 L212.8,473.48 L212.3,472.78 L211.8,472.01 L211.3,471.16 L210.8,470.22 L210.3,469.2 L209.8,468.1 L209.3,466.91 L208.8,465.63 L208.3,464.25 L207.8,462.78 L207.3,461.19 L206.8,459.54 L206.3,457.9 L205.8,456.25 L205.3,454.59 L204.8,452.94 L204.3,451.28 L203.8,449.61 L203.3,447.95 L202.8,446.28 L202.3,444.6 L201.8,442.92 L201.3,441.24 L200.8,439.55 L200.3,437.86 L199.8,436.17 L199.3,434.46 L198.8,432.76 L198.3,431.04 L197.8,429.33 L197.3,427.6 L196.8,425.87 L196.3,424.14 L195.8,422.4 L195.3,420.65 L194.8,420.31 L194.3,422.09 L193.8,423.88 L193.3,425.68 L192.8,427.47 L192.3,429.27 L191.8,431.08 L191.3,432.89 L190.8,434.7 L190.3,436.52 L189.8,438.35 L189.3,440.17 L188.8,442.01 L188.3,443.84 L187.8,445.68 L187.3,447.53 L186.8,449.38 L186.3,451.23 L185.8,453.09 L185.3,454.95 L184.8,456.82 L184.3,458.69 L183.8,460.57 L183.3,462.45 L182.8,464.33 L182.3,466.13 L181.8,467.82 L181.3,469.4 L180.8,470.89 L180.3,472.28 L179.8,473.57 L179.3,474.77 L178.8,475.89 L178.3,476.91 L177.8,477.85 L177.3,478.71 L176.8,479.48 L176.3,480.18 L175.8,480.8 L175.3,481.35 L174.8,481.83 L174.3,482.24 L173.8,482.6 L173.3,482.89 L172.8,483.13 L172.3,483.32 L171.8,483.47 L171.3,483.58 L170.8,483.66 L170.3,483.72 L169.8,483.77 L169.3,483.79 L168.8,483.78 L168.3,483.72 L167.8,483.62 L167.3,483.45 L166.8,483.23 L166.3,482.95 L165.8,482.6 L165.3,482.17 L164.8,481.67 L164.3,481.08 L163.8,480.42 L163.3,479.66 L162.8,478.81 L162.3,477.87 L161.8,476.83 L161.3,475.68 L160.8,474.43 L160.3,473.07 L159.8,471.61 L159.3,470.02 L158.8,468.32 L158.3,466.47 L157.8,464.55 L157.3,462.63 L156.8,460.7 L156.3,458.76 L155.8,456.82 L155.3,454.88 L154.8,452.93 L154.3,450.98 L153.8,449.02 L153.3,447.05 L152.8,445.09 L152.3,443.11 L151.8,441.14 L151.3,439.16 L150.8,437.17 L150.3,435.18 L149.8,433.18 L149.3,431.18 L148.8,429.17 L148.3,427.16 L147.8,425.14 L147.3,423.12 L146.8,421.1 L146.3,422.33 L145.8,424.39 L145.3,426.45 L144.8,428.52 L144.3,430.6 L143.8,432.68 L143.3,434.76 L142.8,436.86 L142.3,438.95 L141.8,441.06 L141.3,443.16 L140.8,445.28 L140.3,447.39 L139.8,449.52 L139.3,451.64 L138.8,453.77 L138.3,455.91 L137.8,458.05 L137.3,460.19 L136.8,462.34 L136.3,464.5 L135.8,466.65 L135.3,468.81 L134.8,470.87 L134.3,472.78 L133.8,474.56 L133.3,476.22 L132.8,477.76 L132.3,479.19 L131.8,480.49 L131.3,481.69 L130.8,482.78 L130.3,483.76 L129.8,484.64 L129.3,485.43 L128.8,486.12 L128.3,486.72 L127.8,487.24 L127.3,487.68 L126.8,488.04 L126.3,488.33 L125.8,488.56 L125.3,488.74 L124.8,488.86 L124.3,488.94 L123.8,489 L123.3,489.04 L122.8,489.05 L122.3,489.03 L121.8,488.95 L121.3,488.82 L120.8,488.62 L120.3,488.35 L119.8,488 L119.3,487.57 L118.8,487.06 L118.3,486.45 L117.8,485.75 L117.3,484.94 L116.8,484.03 L116.3,483.01 L115.8,481.88 L115.3,480.62 L114.8,479.25 L114.3,477.75 L113.8,476.12 L113.3,474.36 L112.8,472.47 L112.3,470.44 L111.8,468.36 L111.3,466.31 L110.8,464.29 L110.3,462.3 L109.8,460.35 L109.3,458.45 L108.8,456.59 L108.3,454.79 L107.8,453.05 L107.3,451.36 L106.8,449.74 L106.3,448.18 L105.8,446.68 L105.3,445.24 L104.8,443.85 L104.3,442.52 L103.8,441.23 L103.3,439.96 L102.8,438.72 L102.3,437.49 L101.8,436.25 L101.3,435 L100.8,435 L100.3,436.87 L99.8,438.64 L99.3,440.34Z" fill="#4dc18c"/>
<path d="M99.3,369.06 L99.8,370.76 L100.3,372.53 L100.8,374.4 L101.3,374.4 L101.8,373.15 L102.3,371.91 L102.8,370.68 L103.3,369.44 L103.8,368.17 L104.3,366.88 L104.8,365.55 L105.3,364.16 L105.8,362.72 L106.3,361.22 L106.8,359.66 L107.3,358.04 L107.8,356.35 L108.3,354.61 L108.8,352.81 L109.3,350.95 L109.8,349.05 L110.3,347.1 L110.8,345.11 L111.3,343.09 L111.8,341.04 L112.3,338.96 L112.8,337.23 L113.3,339.85 L113.8,342.47 L114.3,345.09 L114.8,347.7 L115.3,350.31 L115.8,352.92 L116.3,355.52 L116.8,358.12 L117.3,360.72 L117.8,363.31 L118.3,365.9 L118.8,368.49 L119.3,371.07 L119.8,373.64 L120.3,376.21 L120.8,378.78 L121.3,381.34 L121.8,383.9 L122.3,386.45 L122.8,389 L123.3,391.54 L123.8,394.07 L124.3,391.55 L124.8,389.03 L125.3,386.52 L125.8,384 L126.3,381.49 L126.8,378.98 L127.3,376.48 L127.8,373.97 L128.3,371.47 L128.8,368.97 L129.3,366.48 L129.8,363.99 L130.3,361.5 L130.8,359.02 L131.3,356.54 L131.8,354.06 L132.3,351.59 L132.8,349.12 L133.3,346.66 L133.8,344.2 L134.3,341.75 L134.8,339.3 L135.3,340.59 L135.8,342.75 L136.3,344.9 L136.8,347.06 L137.3,349.21 L137.8,351.35 L138.3,353.49 L138.8,355.63 L139.3,357.76 L139.8,359.88 L140.3,362.01 L140.8,364.12 L141.3,366.24 L141.8,368.34 L142.3,370.45 L142.8,372.54 L143.3,374.64 L143.8,376.72 L144.3,378.8 L144.8,380.88 L145.3,382.95 L145.8,385.01 L146.3,387.07 L146.8,388.3 L147.3,386.28 L147.8,384.26 L148.3,382.24 L148.8,380.23 L149.3,378.22 L149.8,376.22 L150.3,374.22 L150.8,372.23 L151.3,370.24 L151.8,368.26 L152.3,366.29 L152.8,364.31 L153.3,362.35 L153.8,360.38 L154.3,358.42 L154.8,356.47 L155.3,354.52 L155.8,352.58 L156.3,350.64 L156.8,348.7 L157.3,346.77 L157.8,344.85 L158.3,342.93 L158.8,341.2 L159.3,343.55 L159.8,345.89 L160.3,348.22 L160.8,350.55 L161.3,352.88 L161.8,355.2 L162.3,357.51 L162.8,359.82 L163.3,362.12 L163.8,364.42 L164.3,366.71 L164.8,368.99 L165.3,371.27 L165.8,373.55 L166.3,375.82 L166.8,378.08 L167.3,380.34 L167.8,382.59 L168.3,384.84 L168.8,387.09 L169.3,389.32 L169.8,391.56 L170.3,393.78 L170.8,393.35 L171.3,391.15 L171.8,388.95 L172.3,386.76 L172.8,384.58 L173.3,382.4 L173.8,380.23 L174.3,378.06 L174.8,375.9 L175.3,373.75 L175.8,371.6 L176.3,369.45 L176.8,367.31 L177.3,365.18 L177.8,363.05 L178.3,360.93 L178.8,358.82 L179.3,356.7 L179.8,354.6 L180.3,352.5 L180.8,350.4 L181.3,348.31 L181.8,346.23 L182.3,344.15 L182.8,345.07 L183.3,346.95 L183.8,348.83 L184.3,350.71 L184.8,352.58 L185.3,354.45 L185.8,356.31 L186.3,358.17 L186.8,360.02 L187.3,361.87 L187.8,363.72 L188.3,365.56 L188.8,367.39 L189.3,369.23 L189.8,371.05 L190.3,372.88 L190.8,374.7 L191.3,376.51 L191.8,378.32 L192.3,380.13 L192.8,381.93 L193.3,383.72 L193.8,385.52 L194.3,387.31 L194.8,389.09 L195.3,388.75 L195.8,387 L196.3,385.26 L196.8,383.53 L197.3,381.8 L197.8,380.07 L198.3,378.36 L198.8,376.64 L199.3,374.94 L199.8,373.23 L200.3,371.54 L200.8,369.85 L201.3,368.16 L201.8,366.48 L202.3,364.8 L202.8,363.12 L203.3,361.45 L203.8,359.79 L204.3,358.12 L204.8,356.46 L205.3,354.81 L205.8,353.15 L206.3,351.5 L206.8,349.86 L207.3,348.21 L207.8,346.62 L208.3,348.32 L208.8,350.35 L209.3,352.38 L209.8,354.4 L210.3,356.42 L210.8,358.44 L211.3,360.46 L211.8,362.47 L212.3,364.49 L212.8,366.5 L213.3,368.5 L213.8,370.51 L214.3,372.52 L214.8,374.52 L215.3,376.52 L215.8,378.53 L216.3,380.53 L216.8,382.53 L217.3,384.53 L217.8,386.53 L218.3,388.53 L218.8,390.53 L219.3,392.53 L219.8,394.52 L220.3,394.13 L220.8,392.14 L221.3,390.15 L221.8,388.15 L222.3,386.15 L222.8,384.15 L223.3,382.14 L223.8,380.14 L224.3,378.14 L224.8,376.13 L225.3,374.12 L225.8,372.11 L226.3,370.11 L226.8,368.1 L227.3,366.09 L227.8,364.09 L228.3,362.08 L228.8,360.08 L229.3,358.08 L229.8,356.08 L230.3,354.08 L230.8,352.09 L231.3,350.09 L231.8,348.78 L232.3,350.53 L232.8,352.3 L233.3,354.06 L233.8,355.82 L234.3,357.58 L234.8,359.34 L235.3,361.09 L235.8,362.83 L236.3,364.58 L236.8,366.31 L237.3,368.05 L237.8,369.77 L238.3,371.49 L238.8,373.21 L239.3,374.92 L239.8,376.62 L240.3,378.32 L240.8,380.01 L241.3,381.69 L241.8,383.37 L242.3,385.03 L242.8,386.7 L243.3,388.35 L243.8,389.99 L244.3,389.67 L244.8,388.05 L245.3,386.44 L245.8,384.84 L246.3,383.24 L246.8,381.65 L247.3,380.06 L247.8,378.48 L248.3,376.91 L248.8,375.34 L249.3,373.77 L249.8,372.22 L250.3,370.66 L250.8,369.11 L251.3,367.57 L251.8,366.03 L252.3,364.49 L252.8,362.96 L253.3,361.43 L253.8,359.91 L254.3,358.38 L254.8,356.87 L255.3,355.35 L255.8,353.84 L256.3,352.33 L256.8,350.82 L257.3,350.16 L257.8,351.95 L258.3,353.74 L258.8,355.53 L259.3,357.31 L259.8,359.09 L260.3,360.88 L260.8,362.66 L261.3,364.44 L261.8,366.22 L262.3,368 L262.8,369.79 L263.3,371.57 L263.8,373.35 L264.3,375.14 L264.8,376.93 L265.3,378.72 L265.8,380.51 L266.3,382.3 L266.8,384.09 L267.3,385.89 L267.8,387.69 L268.3,389.5 L268.8,391.3 L269.3,393.11 L269.8,394.93 L270.3,394.57 L270.8,392.76 L271.3,390.95 L271.8,389.15 L272.3,387.35 L272.8,385.56 L273.3,383.76 L273.8,381.97 L274.3,380.19 L274.8,378.4 L275.3,376.62 L275.8,374.84 L276.3,373.06 L276.8,371.28 L277.3,369.5 L277.8,367.72 L278.3,365.94 L278.8,364.16 L279.3,362.38 L279.8,360.6 L280.3,358.82 L280.8,357.04 L281.3,355.26 L281.8,353.47 L282.3,351.69 L282.8,351.35 L283.3,352.9 L283.8,354.46 L284.3,356.03 L284.8,357.6 L285.3,359.17 L285.8,360.74 L286.3,362.32 L286.8,363.9 L287.3,365.48 L287.8,367.07 L288.3,368.66 L288.8,370.26 L289.3,371.86 L289.8,373.47 L290.3,375.08 L290.8,376.69 L291.3,378.31 L291.8,379.94 L292.3,381.57 L292.8,383.21 L293.3,384.86 L293.8,386.51 L294.3,388.17 L294.8,389.83 L295.3,390.84 L295.8,389.16 L296.3,387.47 L296.8,385.76 L297.3,384.04 L297.8,382.3 L298.3,380.55 L298.8,378.79 L299.3,377.02 L299.8,375.24 L300.3,373.45 L300.8,371.66 L301.3,369.85 L301.8,368.04 L302.3,366.22 L302.8,364.4 L303.3,362.57 L303.8,360.75 L304.3,358.91 L304.8,357.08 L305.3,355.25 L305.8,353.42 L306.3,351.83 L306.8,354.04 L307.3,356.24 L307.8,358.45 L308.3,360.64 L308.8,362.84 L309.3,365.02 L309.8,367.2 L310.3,369.36 L310.8,371.52 L311.3,373.67 L311.8,375.8 L312.3,377.92 L312.8,380.03 L313.3,382.12 L313.8,384.2 L314.3,386.26 L314.8,388.3 L315.3,390.33 L315.8,392.33 L316.3,394.31 L316.8,395.49 L317.3,393.56 L317.8,391.63 L318.3,389.72 L318.8,387.83 L319.3,385.95 L319.8,384.07 L320.3,382.22 L320.8,380.37 L321.3,378.53 L321.8,376.71 L322.3,374.89 L322.8,373.09 L323.3,371.29 L323.8,369.5 L324.3,367.72 L324.8,365.95 L325.3,364.18 L325.8,362.42 L326.3,360.67 L326.8,358.93 L327.3,357.19 L327.8,355.45 L328.3,353.72 L328.8,353.76 L329.3,355.26 L329.8,356.78 L330.3,358.29 L330.8,359.8 L331.3,361.31 L331.8,362.82 L332.3,364.32 L332.8,365.83 L333.3,367.34 L333.8,368.84 L334.3,370.35 L334.8,371.86 L335.3,373.37 L335.8,374.88 L336.3,376.4 L336.8,377.91 L337.3,379.43 L337.8,380.95 L338.3,382.48 L338.8,384.01 L339.3,385.54 L339.8,387.08 L340.3,388.62 L340.8,390.17 L341.3,391.73 L341.8,390.18 L342.3,388.64 L342.8,387.09 L343.3,385.54 L343.8,383.98 L344.3,382.43 L344.8,380.88 L345.3,379.32 L345.8,377.76 L346.3,376.2 L346.8,374.65 L347.3,373.09 L347.8,371.53 L348.3,369.97 L348.8,368.41 L349.3,366.85 L349.8,365.29 L350.3,363.73 L350.8,362.17 L351.3,360.61 L351.8,359.05 L352.3,357.49 L352.8,355.94 L353.3,354.55 L353.8,356.46 L354.3,358.36 L354.8,360.26 L355.3,362.16 L355.8,364.06 L356.3,365.96 L356.8,367.85 L357.3,369.74 L357.8,371.63 L358.3,373.52 L358.8,375.4 L359.3,377.28 L359.8,379.16 L360.3,381.03 L360.8,382.9 L361.3,384.77 L361.8,386.63 L362.3,388.49 L362.8,390.34 L363.3,392.19 L363.8,394.04 L364.3,395.88 L364.8,394.78 L365.3,392.95 L365.8,391.13 L366.3,389.31 L366.8,387.49 L367.3,385.67 L367.8,383.85 L368.3,382.04 L368.8,380.22 L369.3,378.41 L369.8,376.61 L370.3,374.8 L370.8,373 L371.3,371.2 L371.8,369.4 L372.3,367.6 L372.8,365.81 L373.3,364.02 L373.8,362.23 L374.3,360.44 L374.8,358.66 L375.3,356.88 L375.8,356.61 L376.3,358.15 L376.8,359.71 L377.3,361.27 L377.8,362.82 L378.3,364.37 L378.8,365.92 L379.3,367.47 L379.8,369.01 L380.3,370.55 L380.8,372.09 L381.3,373.62 L381.8,375.15 L382.3,376.68 L382.8,378.2 L383.3,379.73 L383.8,381.24 L384.3,382.76 L384.8,384.27 L385.3,385.78 L385.8,387.29 L386.3,388.79 L386.8,390.29 L387.3,391.78 L387.8,391.49 L388.3,390.01 L388.8,388.54 L389.3,387.06 L389.8,385.58 L390.3,384.1 L390.8,382.63 L391.3,381.15 L391.8,379.68 L392.3,378.2 L392.8,376.73 L393.3,375.26 L393.8,373.79 L394.3,372.33 L394.8,370.87 L395.3,369.41 L395.8,367.95 L396.3,366.49 L396.8,365.04 L397.3,363.59 L397.8,362.15 L398.3,360.71 L398.8,359.27 L399.3,357.88 L399.8,358.82 L400.3,360.58 L400.8,362.33 L401.3,364.07 L401.8,365.81 L402.3,367.54 L402.8,369.26 L403.3,370.98 L403.8,372.69 L404.3,374.39 L404.8,376.08 L405.3,377.77 L405.8,379.44 L406.3,381.11 L406.8,382.77 L407.3,384.42 L407.8,386.06 L408.3,387.7 L408.8,389.32 L409.3,390.93 L409.8,392.53 L410.3,394.12 L410.8,395.71 L411.3,396.03 L411.8,394.48 L412.3,392.94 L412.8,391.42 L413.3,389.91 L413.8,388.41 L414.3,386.93 L414.8,385.45 L415.3,383.99 L415.8,382.53 L416.3,381.08 L416.8,379.65 L417.3,378.22 L417.8,376.8 L418.3,375.39 L418.8,373.98 L419.3,372.58 L419.8,371.19 L420.3,369.8 L420.8,368.42 L421.3,367.05 L421.8,365.68 L422.3,364.31 L422.8,362.95 L423.3,361.59 L423.8,360.23 L424.3,359.55 L424.8,360.73 L425.3,361.94 L425.8,363.15 L426.3,364.36 L426.8,365.56 L427.3,366.77 L427.8,367.98 L428.3,369.18 L428.8,370.39 L429.3,371.6 L429.8,372.81 L430.3,374.02 L430.8,375.24 L431.3,376.45 L431.8,377.67 L432.3,378.89 L432.8,380.11 L433.3,381.34 L433.8,382.57 L434.3,383.81 L434.8,385.05 L435.3,386.3 L435.8,387.55 L436.3,388.8 L436.8,390.07 L437.3,391.33 L437.8,392.61 L438.3,392.36 L438.8,391.08 L439.3,389.79 L439.8,388.5 L440.3,387.19 L440.8,385.88 L441.3,384.55 L441.8,383.22 L442.3,381.89 L442.8,380.55 L443.3,379.2 L443.8,377.85 L444.3,376.49 L444.8,375.13 L445.3,373.77 L445.8,372.4 L446.3,371.04 L446.8,369.67 L447.3,368.3 L447.8,366.93 L448.3,365.56 L448.8,364.19 L449.3,362.83 L449.8,361.48 L450.3,361.67 L450.8,363.34 L451.3,365 L451.8,366.67 L452.3,368.32 L452.8,369.97 L453.3,371.61 L453.8,373.25 L454.3,374.88 L454.8,376.5 L455.3,378.1 L455.8,379.7 L456.3,381.29 L456.8,382.87 L457.3,384.43 L457.8,385.98 L458.3,387.52 L458.8,389.04 L459.3,390.55 L459.8,392.05 L460.3,393.53 L460.8,394.99 L461.3,396.43 L461.8,396.15 L462.3,394.75 L462.8,393.36 L463.3,391.99 L463.8,390.63 L464.3,389.29 L464.8,387.96 L465.3,386.64 L465.8,385.34 L466.3,384.04 L466.8,382.76 L467.3,381.49 L467.8,380.23 L468.3,378.98 L468.8,377.74 L469.3,376.5 L469.8,375.28 L470.3,374.06 L470.8,372.85 L471.3,371.64 L471.8,370.44 L472.3,369.24 L472.8,368.05 L473.3,366.86 L473.8,365.67 L474.3,364.48 L474.8,363.3 L475.3,362.12 L475.8,362.63 L476.3,363.64 L476.8,364.67 L477.3,365.69 L477.8,366.72 L478.3,367.75 L478.8,368.78 L479.3,369.81 L479.8,370.85 L480.3,371.89 L480.8,372.94 L481.3,373.99 L481.8,375.05 L482.3,376.11 L482.8,377.18 L483.3,378.26 L483.8,379.35 L484.3,380.44 L484.8,381.54 L485.3,382.65 L485.8,383.77 L486.3,384.9 L486.8,386.04 L487.3,387.19 L487.8,388.35 L488.3,389.52 L488.8,390.71 L489.3,391.91 L489.8,393.12 L490.3,392.87 L490.8,391.63 L491.3,390.37 L491.8,389.09 L492.3,387.79 L492.8,386.48 L493.3,385.15 L493.8,383.8 L494.3,382.44 L494.8,381.07 L495.3,379.68 L495.8,378.29 L496.3,376.88 L496.8,375.46 L497.3,374.04 L497.8,372.61 L498.3,371.17 L498.8,369.72 L499.3,368.28 L499.8,366.82 L500.3,365.37 L500.8,363.91 L501.3,362.91 L501.8,364.67 L502.3,366.43 L502.8,368.19 L503.3,369.94 L503.8,371.69 L504.3,373.43 L504.8,375.16 L505.3,376.89 L505.8,378.61 L506.3,380.32 L506.8,382.02 L507.3,383.7 L507.8,385.37 L508.3,387.03 L508.8,388.67 L509.3,390.3 L509.8,391.91 L510.3,393.5 L510.8,395.07 L511.3,396.62 L511.8,396.32 L512.3,394.81 L512.8,393.31 L513.3,391.82 L513.8,390.34 L514.3,388.87 L514.8,387.41 L515.3,385.96 L515.8,384.52 L516.3,383.08 L516.8,381.66 L517.3,380.24 L517.8,378.83 L518.3,377.43 L518.8,376.04 L519.3,374.65 L519.8,373.26 L520.3,371.88 L520.8,370.51 L521.3,369.14 L521.8,367.78 L522.3,366.41 L522.8,365.06 L523.3,363.7 L523.8,364.29 L524.3,365.47 L524.8,366.65 L525.3,367.82 L525.8,369 L526.3,370.17 L526.8,371.35 L527.3,372.52 L527.8,373.7 L528.3,374.88 L528.8,376.05 L529.3,377.24 L529.8,378.42 L530.3,379.6 L530.8,380.79 L531.3,381.98 L531.8,383.18 L532.3,384.38 L532.8,385.58 L533.3,386.79 L533.8,388 L534.3,389.22 L534.8,390.45 L535.3,391.68 L535.8,392.91 L536.3,393.66 L536.8,392.41 L537.3,391.16 L537.8,389.9 L538.3,388.63 L538.8,387.35 L539.3,386.07 L539.8,384.78 L540.3,383.49 L540.8,382.19 L541.3,380.89 L541.8,379.58 L542.3,378.27 L542.8,376.95 L543.3,375.63 L543.8,374.32 L544.3,373 L544.8,371.67 L545.3,370.35 L545.8,369.03 L546.3,367.71 L546.8,366.39 L547.3,365.07 L547.8,364.71 L548.3,366.29 L548.8,367.87 L549.3,369.45 L549.8,371.01 L550.3,372.58 L550.8,374.13 L551.3,375.68 L551.8,377.23 L552.3,378.76 L552.8,380.29 L553.3,381.8 L553.8,383.31 L554.3,384.81 L554.8,386.29 L555.3,387.77 L555.8,389.23 L556.3,390.68 L556.8,392.11 L557.3,393.54 L557.8,394.94 L558.3,396.34 L558.8,397.17 L559.3,395.8 L559.8,394.44 L560.3,393.09 L560.8,391.74 L561.3,390.39 L561.8,389.05 L562.3,387.72 L562.8,386.39 L563.3,385.06 L563.8,383.74 L564.3,382.43 L564.8,381.12 L565.3,379.81 L565.8,378.51 L566.3,377.22 L566.8,375.93 L567.3,374.65 L567.8,373.37 L568.3,372.1 L568.8,370.83 L569.3,369.57 L569.8,368.32 L570.3,367.07 L570.8,365.82 L571.3,365.22 L571.8,366.28 L572.3,367.35 L572.8,368.41 L573.3,369.48 L573.3,439.92 L572.8,440.99 L572.3,442.05 L571.8,443.12 L571.3,444.18 L570.8,443.58 L570.3,442.33 L569.8,441.08 L569.3,439.83 L568.8,438.57 L568.3,437.3 L567.8,436.03 L567.3,434.75 L566.8,433.47 L566.3,432.18 L565.8,430.89 L565.3,429.59 L564.8,428.28 L564.3,426.97 L563.8,425.66 L563.3,424.34 L562.8,423.01 L562.3,421.68 L561.8,420.35 L561.3,419.01 L560.8,417.66 L560.3,416.31 L559.8,414.96 L559.3,413.6 L558.8,412.23 L558.3,413.06 L557.8,414.46 L557.3,415.86 L556.8,417.29 L556.3,418.72 L555.8,420.17 L555.3,421.63 L554.8,423.11 L554.3,424.59 L553.8,426.09 L553.3,427.6 L552.8,429.11 L552.3,430.64 L551.8,432.17 L551.3,433.72 L550.8,435.27 L550.3,436.82 L549.8,438.39 L549.3,439.95 L548.8,441.53 L548.3,443.11 L547.8,444.69 L547.3,444.33 L546.8,443.01 L546.3,441.69 L545.8,440.37 L545.3,439.05 L544.8,437.73 L544.3,436.4 L543.8,435.08 L543.3,433.77 L542.8,432.45 L542.3,431.13 L541.8,429.82 L541.3,428.51 L540.8,427.21 L540.3,425.91 L539.8,424.62 L539.3,423.33 L538.8,422.05 L538.3,420.77 L537.8,419.5 L537.3,418.24 L536.8,416.99 L536.3,415.74 L535.8,416.49 L535.3,417.72 L534.8,418.95 L534.3,420.18 L533.8,421.4 L533.3,422.61 L532.8,423.82 L532.3,425.02 L531.8,426.22 L531.3,427.42 L530.8,428.61 L530.3,429.8 L529.8,430.98 L529.3,432.16 L528.8,433.35 L528.3,434.52 L527.8,435.7 L527.3,436.88 L526.8,438.05 L526.3,439.23 L525.8,440.4 L525.3,441.58 L524.8,442.75 L524.3,443.93 L523.8,445.11 L523.3,445.7 L522.8,444.34 L522.3,442.99 L521.8,441.62 L521.3,440.26 L520.8,438.89 L520.3,437.52 L519.8,436.14 L519.3,434.75 L518.8,433.36 L518.3,431.97 L517.8,430.57 L517.3,429.16 L516.8,427.74 L516.3,426.32 L515.8,424.88 L515.3,423.44 L514.8,421.99 L514.3,420.53 L513.8,419.06 L513.3,417.58 L512.8,416.09 L512.3,414.59 L511.8,413.08 L511.3,412.78 L510.8,414.33 L510.3,415.9 L509.8,417.49 L509.3,419.1 L508.8,420.73 L508.3,422.37 L507.8,424.03 L507.3,425.7 L506.8,427.38 L506.3,429.08 L505.8,430.79 L505.3,432.51 L504.8,434.24 L504.3,435.97 L503.8,437.71 L503.3,439.46 L502.8,441.21 L502.3,442.97 L501.8,444.73 L501.3,446.49 L500.8,445.49 L500.3,444.03 L499.8,442.58 L499.3,441.12 L498.8,439.68 L498.3,438.23 L497.8,436.79 L497.3,435.36 L496.8,433.94 L496.3,432.52 L495.8,431.11 L495.3,429.72 L494.8,428.33 L494.3,426.96 L493.8,425.6 L493.3,424.25 L492.8,422.92 L492.3,421.61 L491.8,420.31 L491.3,419.03 L490.8,417.77 L490.3,416.53 L489.8,416.28 L489.3,417.49 L488.8,418.69 L488.3,419.88 L487.8,421.05 L487.3,422.21 L486.8,423.36 L486.3,424.5 L485.8,425.63 L485.3,426.75 L484.8,427.86 L484.3,428.96 L483.8,430.05 L483.3,431.14 L482.8,432.22 L482.3,433.29 L481.8,434.35 L481.3,435.41 L480.8,436.46 L480.3,437.51 L479.8,438.55 L479.3,439.59 L478.8,440.62 L478.3,441.65 L477.8,442.68 L477.3,443.71 L476.8,444.73 L476.3,445.76 L475.8,446.77 L475.3,447.28 L474.8,446.1 L474.3,444.92 L473.8,443.73 L473.3,442.54 L472.8,441.35 L472.3,440.16 L471.8,438.96 L471.3,437.76 L470.8,436.55 L470.3,435.34 L469.8,434.12 L469.3,432.9 L468.8,431.66 L468.3,430.42 L467.8,429.17 L467.3,427.91 L466.8,426.64 L466.3,425.36 L465.8,424.06 L465.3,422.76 L464.8,421.44 L464.3,420.11 L463.8,418.77 L463.3,417.41 L462.8,416.04 L462.3,414.65 L461.8,413.25 L461.3,412.97 L460.8,414.41 L460.3,415.87 L459.8,417.35 L459.3,418.85 L458.8,420.36 L458.3,421.88 L457.8,423.42 L457.3,424.97 L456.8,426.53 L456.3,428.11 L455.8,429.7 L455.3,431.3 L454.8,432.9 L454.3,434.52 L453.8,436.15 L453.3,437.79 L452.8,439.43 L452.3,441.08 L451.8,442.73 L451.3,444.4 L450.8,446.06 L450.3,447.73 L449.8,447.92 L449.3,446.57 L448.8,445.21 L448.3,443.84 L447.8,442.47 L447.3,441.1 L446.8,439.73 L446.3,438.36 L445.8,437 L445.3,435.63 L444.8,434.27 L444.3,432.91 L443.8,431.55 L443.3,430.2 L442.8,428.85 L442.3,427.51 L441.8,426.18 L441.3,424.85 L440.8,423.52 L440.3,422.21 L439.8,420.9 L439.3,419.61 L438.8,418.32 L438.3,417.04 L437.8,416.79 L437.3,418.07 L436.8,419.33 L436.3,420.6 L435.8,421.85 L435.3,423.1 L434.8,424.35 L434.3,425.59 L433.8,426.83 L433.3,428.06 L432.8,429.29 L432.3,430.51 L431.8,431.73 L431.3,432.95 L430.8,434.16 L430.3,435.38 L429.8,436.59 L429.3,437.8 L428.8,439.01 L428.3,440.22 L427.8,441.42 L427.3,442.63 L426.8,443.84 L426.3,445.04 L425.8,446.25 L425.3,447.46 L424.8,448.67 L424.3,449.85 L423.8,449.17 L423.3,447.81 L422.8,446.45 L422.3,445.09 L421.8,443.72 L421.3,442.35 L420.8,440.98 L420.3,439.6 L419.8,438.21 L419.3,436.82 L418.8,435.42 L418.3,434.01 L417.8,432.6 L417.3,431.18 L416.8,429.75 L416.3,428.32 L415.8,426.87 L415.3,425.41 L414.8,423.95 L414.3,422.47 L413.8,420.99 L413.3,419.49 L412.8,417.98 L412.3,416.46 L411.8,414.92 L411.3,413.37 L410.8,413.69 L410.3,415.28 L409.8,416.87 L409.3,418.47 L408.8,420.08 L408.3,421.7 L407.8,423.34 L407.3,424.98 L406.8,426.63 L406.3,428.29 L405.8,429.96 L405.3,431.63 L404.8,433.32 L404.3,435.01 L403.8,436.71 L403.3,438.42 L402.8,440.14 L402.3,441.86 L401.8,443.59 L401.3,445.33 L400.8,447.07 L400.3,448.82 L399.8,450.58 L399.3,451.52 L398.8,450.13 L398.3,448.69 L397.8,447.25 L397.3,445.81 L396.8,444.36 L396.3,442.91 L395.8,441.45 L395.3,439.99 L394.8,438.53 L394.3,437.07 L393.8,435.61 L393.3,434.14 L392.8,432.67 L392.3,431.2 L391.8,429.72 L391.3,428.25 L390.8,426.77 L390.3,425.3 L389.8,423.82 L389.3,422.34 L388.8,420.86 L388.3,419.39 L387.8,417.91 L387.3,417.62 L386.8,419.11 L386.3,420.61 L385.8,422.11 L385.3,423.62 L384.8,425.13 L384.3,426.64 L383.8,428.16 L383.3,429.67 L382.8,431.2 L382.3,432.72 L381.8,434.25 L381.3,435.78 L380.8,437.31 L380.3,438.85 L379.8,440.39 L379.3,441.93 L378.8,443.48 L378.3,445.03 L377.8,446.58 L377.3,448.13 L376.8,449.69 L376.3,451.25 L375.8,452.79 L375.3,452.52 L374.8,450.74 L374.3,448.96 L373.8,447.17 L373.3,445.38 L372.8,443.59 L372.3,441.8 L371.8,440 L371.3,438.2 L370.8,436.4 L370.3,434.6 L369.8,432.79 L369.3,430.99 L368.8,429.18 L368.3,427.36 L367.8,425.55 L367.3,423.73 L366.8,421.91 L366.3,420.09 L365.8,418.27 L365.3,416.45 L364.8,414.62 L364.3,413.52 L363.8,415.36 L363.3,417.21 L362.8,419.06 L362.3,420.91 L361.8,422.77 L361.3,424.63 L360.8,426.5 L360.3,428.37 L359.8,430.24 L359.3,432.12 L358.8,434 L358.3,435.88 L357.8,437.77 L357.3,439.66 L356.8,441.55 L356.3,443.44 L355.8,445.34 L355.3,447.24 L354.8,449.14 L354.3,451.04 L353.8,452.94 L353.3,454.85 L352.8,453.46 L352.3,451.91 L351.8,450.35 L351.3,448.79 L350.8,447.23 L350.3,445.67 L349.8,444.11 L349.3,442.55 L348.8,440.99 L348.3,439.43 L347.8,437.87 L347.3,436.31 L346.8,434.75 L346.3,433.2 L345.8,431.64 L345.3,430.08 L344.8,428.52 L344.3,426.97 L343.8,425.42 L343.3,423.86 L342.8,422.31 L342.3,420.76 L341.8,419.22 L341.3,417.67 L340.8,419.23 L340.3,420.78 L339.8,422.32 L339.3,423.86 L338.8,425.39 L338.3,426.92 L337.8,428.45 L337.3,429.97 L336.8,431.49 L336.3,433 L335.8,434.52 L335.3,436.03 L334.8,437.54 L334.3,439.05 L333.8,440.56 L333.3,442.06 L332.8,443.57 L332.3,445.08 L331.8,446.58 L331.3,448.09 L330.8,449.6 L330.3,451.11 L329.8,452.62 L329.3,454.14 L328.8,455.64 L328.3,455.68 L327.8,453.95 L327.3,452.21 L326.8,450.47 L326.3,448.73 L325.8,446.98 L325.3,445.22 L324.8,443.45 L324.3,441.68 L323.8,439.9 L323.3,438.11 L322.8,436.31 L322.3,434.51 L321.8,432.69 L321.3,430.87 L320.8,429.03 L320.3,427.18 L319.8,425.33 L319.3,423.45 L318.8,421.57 L318.3,419.68 L317.8,417.77 L317.3,415.84 L316.8,413.91 L316.3,415.09 L315.8,417.07 L315.3,419.07 L314.8,421.1 L314.3,423.14 L313.8,425.2 L313.3,427.28 L312.8,429.37 L312.3,431.48 L311.8,433.6 L311.3,435.73 L310.8,437.88 L310.3,440.04 L309.8,442.2 L309.3,444.38 L308.8,446.56 L308.3,448.76 L307.8,450.95 L307.3,453.16 L306.8,455.36 L306.3,457.57 L305.8,455.98 L305.3,454.15 L304.8,452.32 L304.3,450.49 L303.8,448.65 L303.3,446.83 L302.8,445 L302.3,443.18 L301.8,441.36 L301.3,439.55 L300.8,437.74 L300.3,435.95 L299.8,434.16 L299.3,432.38 L298.8,430.61 L298.3,428.85 L297.8,427.1 L297.3,425.36 L296.8,423.64 L296.3,421.93 L295.8,420.24 L295.3,418.56 L294.8,419.57 L294.3,421.23 L293.8,422.89 L293.3,424.54 L292.8,426.19 L292.3,427.83 L291.8,429.46 L291.3,431.09 L290.8,432.71 L290.3,434.32 L289.8,435.93 L289.3,437.54 L288.8,439.14 L288.3,440.74 L287.8,442.33 L287.3,443.92 L286.8,445.5 L286.3,447.08 L285.8,448.66 L285.3,450.23 L284.8,451.8 L284.3,453.37 L283.8,454.94 L283.3,456.5 L282.8,458.05 L282.3,457.71 L281.8,455.93 L281.3,454.14 L280.8,452.36 L280.3,450.58 L279.8,448.8 L279.3,447.02 L278.8,445.24 L278.3,443.46 L277.8,441.68 L277.3,439.9 L276.8,438.12 L276.3,436.34 L275.8,434.56 L275.3,432.78 L274.8,431 L274.3,429.21 L273.8,427.43 L273.3,425.64 L272.8,423.84 L272.3,422.05 L271.8,420.25 L271.3,418.45 L270.8,416.64 L270.3,414.83 L269.8,414.47 L269.3,416.29 L268.8,418.1 L268.3,419.9 L267.8,421.71 L267.3,423.51 L266.8,425.31 L266.3,427.1 L265.8,428.89 L265.3,430.68 L264.8,432.47 L264.3,434.26 L263.8,436.05 L263.3,437.83 L262.8,439.61 L262.3,441.4 L261.8,443.18 L261.3,444.96 L260.8,446.74 L260.3,448.52 L259.8,450.31 L259.3,452.09 L258.8,453.87 L258.3,455.66 L257.8,457.45 L257.3,459.24 L256.8,458.58 L256.3,457.07 L255.8,455.56 L255.3,454.05 L254.8,452.53 L254.3,451.02 L253.8,449.49 L253.3,447.97 L252.8,446.44 L252.3,444.91 L251.8,443.37 L251.3,441.83 L250.8,440.29 L250.3,438.74 L249.8,437.18 L249.3,435.63 L248.8,434.06 L248.3,432.49 L247.8,430.92 L247.3,429.34 L246.8,427.75 L246.3,426.16 L245.8,424.56 L245.3,422.96 L244.8,421.35 L244.3,419.73 L243.8,419.41 L243.3,421.05 L242.8,422.7 L242.3,424.37 L241.8,426.03 L241.3,427.71 L240.8,429.39 L240.3,431.08 L239.8,432.78 L239.3,434.48 L238.8,436.19 L238.3,437.91 L237.8,439.63 L237.3,441.35 L236.8,443.09 L236.3,444.82 L235.8,446.57 L235.3,448.31 L234.8,450.06 L234.3,451.82 L233.8,453.58 L233.3,455.34 L232.8,457.1 L232.3,458.87 L231.8,460.62 L231.3,459.31 L230.8,457.31 L230.3,455.32 L229.8,453.32 L229.3,451.32 L228.8,449.32 L228.3,447.32 L227.8,445.31 L227.3,443.31 L226.8,441.3 L226.3,439.29 L225.8,437.29 L225.3,435.28 L224.8,433.27 L224.3,431.26 L223.8,429.26 L223.3,427.26 L222.8,425.25 L222.3,423.25 L221.8,421.25 L221.3,419.25 L220.8,417.26 L220.3,415.27 L219.8,414.88 L219.3,416.87 L218.8,418.87 L218.3,420.87 L217.8,422.87 L217.3,424.87 L216.8,426.87 L216.3,428.87 L215.8,430.87 L215.3,432.88 L214.8,434.88 L214.3,436.88 L213.8,438.89 L213.3,440.9 L212.8,442.9 L212.3,444.91 L211.8,446.93 L211.3,448.94 L210.8,450.96 L210.3,452.98 L209.8,455 L209.3,457.02 L208.8,459.05 L208.3,461.08 L207.8,462.78 L207.3,461.19 L206.8,459.54 L206.3,457.9 L205.8,456.25 L205.3,454.59 L204.8,452.94 L204.3,451.28 L203.8,449.61 L203.3,447.95 L202.8,446.28 L202.3,444.6 L201.8,442.92 L201.3,441.24 L200.8,439.55 L200.3,437.86 L199.8,436.17 L199.3,434.46 L198.8,432.76 L198.3,431.04 L197.8,429.33 L197.3,427.6 L196.8,425.87 L196.3,424.14 L195.8,422.4 L195.3,420.65 L194.8,420.31 L194.3,422.09 L193.8,423.88 L193.3,425.68 L192.8,427.47 L192.3,429.27 L191.8,431.08 L191.3,432.89 L190.8,434.7 L190.3,436.52 L189.8,438.35 L189.3,440.17 L188.8,442.01 L188.3,443.84 L187.8,445.68 L187.3,447.53 L186.8,449.38 L186.3,451.23 L185.8,453.09 L185.3,454.95 L184.8,456.82 L184.3,458.69 L183.8,460.57 L183.3,462.45 L182.8,464.33 L182.3,465.25 L181.8,463.17 L181.3,461.09 L180.8,459 L180.3,456.9 L179.8,454.8 L179.3,452.7 L178.8,450.58 L178.3,448.47 L177.8,446.35 L177.3,444.22 L176.8,442.09 L176.3,439.95 L175.8,437.8 L175.3,435.65 L174.8,433.5 L174.3,431.34 L173.8,429.17 L173.3,427 L172.8,424.82 L172.3,422.64 L171.8,420.45 L171.3,418.25 L170.8,416.05 L170.3,415.62 L169.8,417.84 L169.3,420.08 L168.8,422.31 L168.3,424.56 L167.8,426.81 L167.3,429.06 L166.8,431.32 L166.3,433.58 L165.8,435.85 L165.3,438.13 L164.8,440.41 L164.3,442.69 L163.8,444.98 L163.3,447.28 L162.8,449.58 L162.3,451.89 L161.8,454.2 L161.3,456.52 L160.8,458.85 L160.3,461.18 L159.8,463.51 L159.3,465.85 L158.8,468.2 L158.3,466.47 L157.8,464.55 L157.3,462.63 L156.8,460.7 L156.3,458.76 L155.8,456.82 L155.3,454.88 L154.8,452.93 L154.3,450.98 L153.8,449.02 L153.3,447.05 L152.8,445.09 L152.3,443.11 L151.8,441.14 L151.3,439.16 L150.8,437.17 L150.3,435.18 L149.8,433.18 L149.3,431.18 L148.8,429.17 L148.3,427.16 L147.8,425.14 L147.3,423.12 L146.8,421.1 L146.3,422.33 L145.8,424.39 L145.3,426.45 L144.8,428.52 L144.3,430.6 L143.8,432.68 L143.3,434.76 L142.8,436.86 L142.3,438.95 L141.8,441.06 L141.3,443.16 L140.8,445.28 L140.3,447.39 L139.8,449.52 L139.3,451.64 L138.8,453.77 L138.3,455.91 L137.8,458.05 L137.3,460.19 L136.8,462.34 L136.3,464.5 L135.8,466.65 L135.3,468.81 L134.8,470.1 L134.3,467.65 L133.8,465.2 L133.3,462.74 L132.8,460.28 L132.3,457.81 L131.8,455.34 L131.3,452.86 L130.8,450.38 L130.3,447.9 L129.8,445.41 L129.3,442.92 L128.8,440.43 L128.3,437.93 L127.8,435.43 L127.3,432.92 L126.8,430.42 L126.3,427.91 L125.8,425.4 L125.3,422.88 L124.8,420.37 L124.3,417.85 L123.8,415.33 L123.3,417.86 L122.8,420.4 L122.3,422.95 L121.8,425.5 L121.3,428.06 L120.8,430.62 L120.3,433.19 L119.8,435.76 L119.3,438.33 L118.8,440.91 L118.3,443.5 L117.8,446.09 L117.3,448.68 L116.8,451.28 L116.3,453.88 L115.8,456.48 L115.3,459.09 L114.8,461.7 L114.3,464.31 L113.8,466.93 L113.3,469.55 L112.8,472.17 L112.3,470.44 L111.8,468.36 L111.3,466.31 L110.8,464.29 L110.3,462.3 L109.8,460.35 L109.3,458.45 L108.8,456.59 L108.3,454.79 L107.8,453.05 L107.3,451.36 L106.8,449.74 L106.3,448.18 L105.8,446.68 L105.3,445.24 L104.8,443.85 L104.3,442.52 L103.8,441.23 L103.3,439.96 L102.8,438.72 L102.3,437.49 L101.8,436.25 L101.3,435 L100.8,435 L100.3,436.87 L99.8,438.64 L99.3,440.34Z" fill="#2ea06c"/>
<rect x="583.8" y="12.3" width="247.6" height="247.2" fill="none" stroke="#000" stroke-width="2.7"/>
<path d="M610.55,259.5v-4.55M610.55,12.3v4.55M646.1,259.5v-7.35M646.1,12.3v7.35M681.65,259.5v-4.55M681.65,12.3v4.55M717.2,259.5v-7.35M717.2,12.3v7.35M752.75,259.5v-4.55M752.75,12.3v4.55M788.3,259.5v-7.35M788.3,12.3v7.35M823.85,259.5v-4.55M823.85,12.3v4.55" stroke="#000" stroke-width="2.5" fill="none"/>
<path d="M583.8,233h7.35M831.4,233h-7.35M583.8,205.35h4.55M831.4,205.35h-4.55M583.8,177.7h7.35M831.4,177.7h-7.35M583.8,150.05h4.55M831.4,150.05h-4.55M583.8,122.4h7.35M831.4,122.4h-7.35M583.8,94.75h4.55M831.4,94.75h-4.55M583.8,67.1h7.35M831.4,67.1h-7.35M583.8,39.45h4.55M831.4,39.45h-4.55" stroke="#000" stroke-width="2.5" fill="none"/>
<rect x="583.8" y="271.5" width="247.6" height="247.7" fill="none" stroke="#000" stroke-width="2.7"/>
<path d="M610.55,519.2v-4.55M610.55,271.5v4.55M646.1,519.2v-7.35M646.1,271.5v7.35M681.65,519.2v-4.55M681.65,271.5v4.55M717.2,519.2v-7.35M717.2,271.5v7.35M752.75,519.2v-4.55M752.75,271.5v4.55M788.3,519.2v-7.35M788.3,271.5v7.35M823.85,519.2v-4.55M823.85,271.5v4.55" stroke="#000" stroke-width="2.5" fill="none"/>
<path d="M583.8,518.8h7.35M831.4,518.8h-7.35M583.8,467.25h4.55M831.4,467.25h-4.55M583.8,415.7h7.35M831.4,415.7h-7.35M583.8,364.15h4.55M831.4,364.15h-4.55M583.8,312.6h7.35M831.4,312.6h-7.35" stroke="#000" stroke-width="2.5" fill="none"/>
<g stroke="#000" stroke-width="2.3" stroke-linecap="round" stroke-dasharray="0 8.45" fill="none">
<path d="M707.5,15.3 V259.5"/>
<path d="M583.8,191.1 H831.4"/>
<path d="M707.5,274.5 V519.2"/>
</g>
<path d="M583.8,36.45 L584.42,37.39 L585.04,38.33 L585.66,39.27 L586.28,40.21 L586.89,41.15 L587.51,42.09 L588.13,43.03 L588.75,43.97 L589.37,44.91 L589.99,45.85 L590.61,46.79 L591.23,47.72 L591.85,48.66 L592.47,49.6 L593.08,50.54 L593.7,51.47 L594.32,52.41 L594.94,53.35 L595.56,54.28 L596.18,55.22 L596.8,56.15 L597.42,57.09 L598.04,58.02 L598.66,58.96 L599.27,59.89 L599.89,60.83 L600.51,61.76 L601.13,62.69 L601.75,63.63 L602.37,64.56 L602.99,65.49 L603.61,66.42 L604.23,67.36 L604.85,68.29 L605.46,69.22 L606.08,70.15 L606.7,71.08 L607.32,72.01 L607.94,72.94 L608.56,73.87 L609.18,74.8 L609.8,75.73 L610.42,76.65 L611.04,77.58 L611.65,78.51 L612.27,79.43 L612.89,80.36 L613.51,81.29 L614.13,82.21 L614.75,83.14 L615.37,84.06 L615.99,84.98 L616.61,85.91 L617.23,86.83 L617.84,87.75 L618.46,88.67 L619.08,89.59 L619.7,90.52 L620.32,91.44 L620.94,92.35 L621.56,93.27 L622.18,94.19 L622.8,95.11 L623.42,96.03 L624.03,96.94 L624.65,97.86 L625.27,98.77 L625.89,99.69 L626.51,100.6 L627.13,101.51 L627.75,102.43 L628.37,103.34 L628.99,104.25 L629.61,105.16 L630.22,106.07 L630.84,106.98 L631.46,107.88 L632.08,108.79 L632.7,109.7 L633.32,110.6 L633.94,111.51 L634.56,112.41 L635.18,113.31 L635.8,114.21 L636.41,115.11 L637.03,116.01 L637.65,116.91 L638.27,117.81 L638.89,118.71 L639.51,119.6 L640.13,120.5 L640.75,121.39 L641.37,122.28 L641.99,123.17 L642.6,124.06 L643.22,124.95 L643.84,125.84 L644.46,126.72 L645.08,127.6 L645.7,128.49 L646.32,129.37 L646.94,130.25 L647.56,131.13 L648.18,132 L648.79,132.88 L649.41,133.75 L650.03,134.62 L650.65,135.49 L651.27,136.36 L651.89,137.23 L652.51,138.09 L653.13,138.96 L653.75,139.82 L654.37,140.68 L654.99,141.53 L655.6,142.39 L656.22,143.24 L656.84,144.09 L657.46,144.94 L658.08,145.79 L658.7,146.63 L659.32,147.47 L659.94,148.31 L660.56,149.14 L661.17,149.98 L661.79,150.81 L662.41,151.63 L663.03,152.46 L663.65,153.28 L664.27,154.09 L664.89,154.91 L665.51,155.72 L666.13,156.53 L666.75,157.33 L667.37,158.13 L667.98,158.92 L668.6,159.72 L669.22,160.5 L669.84,161.29 L670.46,162.07 L671.08,162.84 L671.7,163.61 L672.32,164.38 L672.94,165.14 L673.55,165.89 L674.17,166.64 L674.79,167.38 L675.41,168.12 L676.03,168.85 L676.65,169.58 L677.27,170.3 L677.89,171.01 L678.51,171.72 L679.13,172.42 L679.75,173.11 L680.36,173.79 L680.98,174.47 L681.6,175.14 L682.22,175.79 L682.84,176.45 L683.46,177.09 L684.08,177.72 L684.7,178.34 L685.32,178.96 L685.93,179.56 L686.55,180.15 L687.17,180.73 L687.79,181.3 L688.41,181.86 L689.03,182.4 L689.65,182.94 L690.27,183.46 L690.89,183.96 L691.51,184.46 L692.12,184.93 L692.74,185.4 L693.36,185.85 L693.98,186.28 L694.6,186.7 L695.22,187.1 L695.84,187.48 L696.46,187.85 L697.08,188.2 L697.7,188.53 L698.31,188.84 L698.93,189.13 L699.55,189.41 L700.17,189.66 L700.79,189.9 L701.41,190.11 L702.03,190.3 L702.65,190.48 L703.27,190.63 L703.89,190.76 L704.5,190.87 L705.12,190.95 L705.74,191.02 L706.36,191.06 L706.98,191.08 L707.6,191.08 L708.22,191.06 L708.84,191.01 L709.46,190.94 L710.08,190.85 L710.69,190.74 L711.31,190.61 L711.93,190.45 L712.55,190.28 L713.17,190.08 L713.79,189.86 L714.41,189.63 L715.03,189.37 L715.65,189.09 L716.27,188.8 L716.88,188.48 L717.5,188.15 L718.12,187.8 L718.74,187.43 L719.36,187.04 L719.98,186.64 L720.6,186.22 L721.22,185.78 L721.84,185.33 L722.46,184.87 L723.08,184.39 L723.69,183.89 L724.31,183.38 L724.93,182.86 L725.55,182.33 L726.17,181.78 L726.79,181.22 L727.41,180.65 L728.03,180.07 L728.65,179.47 L729.26,178.87 L729.88,178.25 L730.5,177.63 L731.12,177 L731.74,176.35 L732.36,175.7 L732.98,175.04 L733.6,174.37 L734.22,173.69 L734.84,173.01 L735.45,172.32 L736.07,171.62 L736.69,170.91 L737.31,170.2 L737.93,169.47 L738.55,168.75 L739.17,168.02 L739.79,167.28 L740.41,166.53 L741.03,165.78 L741.64,165.03 L742.26,164.27 L742.88,163.5 L743.5,162.73 L744.12,161.96 L744.74,161.18 L745.36,160.39 L745.98,159.6 L746.6,158.81 L747.22,158.01 L747.84,157.21 L748.45,156.41 L749.07,155.6 L749.69,154.79 L750.31,153.98 L750.93,153.16 L751.55,152.34 L752.17,151.51 L752.79,150.69 L753.41,149.86 L754.02,149.02 L754.64,148.19 L755.26,147.35 L755.88,146.51 L756.5,145.66 L757.12,144.82 L757.74,143.97 L758.36,143.12 L758.98,142.27 L759.6,141.41 L760.22,140.55 L760.83,139.7 L761.45,138.83 L762.07,137.97 L762.69,137.11 L763.31,136.24 L763.93,135.37 L764.55,134.5 L765.17,133.63 L765.79,132.75 L766.4,131.88 L767.02,131 L767.64,130.12 L768.26,129.24 L768.88,128.36 L769.5,127.48 L770.12,126.59 L770.74,125.71 L771.36,124.82 L771.98,123.93 L772.59,123.04 L773.21,122.15 L773.83,121.26 L774.45,120.37 L775.07,119.47 L775.69,118.58 L776.31,117.68 L776.93,116.78 L777.55,115.88 L778.17,114.98 L778.78,114.08 L779.4,113.18 L780.02,112.28 L780.64,111.38 L781.26,110.47 L781.88,109.57 L782.5,108.66 L783.12,107.75 L783.74,106.85 L784.36,105.94 L784.98,105.03 L785.59,104.12 L786.21,103.21 L786.83,102.3 L787.45,101.38 L788.07,100.47 L788.69,99.56 L789.31,98.64 L789.93,97.73 L790.55,96.81 L791.17,95.89 L791.78,94.98 L792.4,94.06 L793.02,93.14 L793.64,92.22 L794.26,91.3 L794.88,90.38 L795.5,89.46 L796.12,88.54 L796.74,87.62 L797.36,86.7 L797.97,85.77 L798.59,84.85 L799.21,83.93 L799.83,83 L800.45,82.08 L801.07,81.15 L801.69,80.23 L802.31,79.3 L802.93,78.37 L803.55,77.45 L804.16,76.52 L804.78,75.59 L805.4,74.66 L806.02,73.73 L806.64,72.81 L807.26,71.88 L807.88,70.95 L808.5,70.02 L809.12,69.09 L809.74,68.15 L810.35,67.22 L810.97,66.29 L811.59,65.36 L812.21,64.43 L812.83,63.49 L813.45,62.56 L814.07,61.63 L814.69,60.69 L815.31,59.76 L815.92,58.82 L816.54,57.89 L817.16,56.95 L817.78,56.02 L818.4,55.08 L819.02,54.15 L819.64,53.21 L820.26,52.28 L820.88,51.34 L821.5,50.4 L822.12,49.46 L822.73,48.53 L823.35,47.59 L823.97,46.65 L824.59,45.71 L825.21,44.77 L825.83,43.83 L826.45,42.9 L827.07,41.96 L827.69,41.02 L828.31,40.08 L828.92,39.14 L829.54,38.2 L830.16,37.26 L830.78,36.32 L831.4,35.37" stroke="#000" stroke-width="2.6" fill="none" stroke-linejoin="round"/>
<path d="M583.8,509.42 L584.42,509.33 L585.04,509.24 L585.66,509.15 L586.28,509.05 L586.89,508.96 L587.51,508.86 L588.13,508.76 L588.75,508.66 L589.37,508.56 L589.99,508.46 L590.61,508.35 L591.23,508.25 L591.85,508.14 L592.47,508.03 L593.08,507.92 L593.7,507.8 L594.32,507.69 L594.94,507.57 L595.56,507.46 L596.18,507.34 L596.8,507.22 L597.42,507.09 L598.04,506.97 L598.66,506.84 L599.27,506.71 L599.89,506.58 L600.51,506.44 L601.13,506.31 L601.75,506.17 L602.37,506.03 L602.99,505.89 L603.61,505.74 L604.23,505.6 L604.85,505.45 L605.46,505.29 L606.08,505.14 L606.7,504.98 L607.32,504.82 L607.94,504.66 L608.56,504.49 L609.18,504.32 L609.8,504.15 L610.42,503.98 L611.04,503.8 L611.65,503.62 L612.27,503.44 L612.89,503.25 L613.51,503.06 L614.13,502.87 L614.75,502.67 L615.37,502.47 L615.99,502.26 L616.61,502.05 L617.23,501.84 L617.84,501.63 L618.46,501.41 L619.08,501.18 L619.7,500.95 L620.32,500.72 L620.94,500.48 L621.56,500.24 L622.18,500 L622.8,499.75 L623.42,499.49 L624.03,499.23 L624.65,498.96 L625.27,498.69 L625.89,498.41 L626.51,498.13 L627.13,497.84 L627.75,497.55 L628.37,497.25 L628.99,496.94 L629.61,496.63 L630.22,496.31 L630.84,495.99 L631.46,495.66 L632.08,495.32 L632.7,494.97 L633.32,494.62 L633.94,494.25 L634.56,493.89 L635.18,493.51 L635.8,493.12 L636.41,492.73 L637.03,492.33 L637.65,491.92 L638.27,491.49 L638.89,491.06 L639.51,490.63 L640.13,490.18 L640.75,489.72 L641.37,489.25 L641.99,488.76 L642.6,488.27 L643.22,487.77 L643.84,487.25 L644.46,486.72 L645.08,486.18 L645.7,485.63 L646.32,485.06 L646.94,484.48 L647.56,483.89 L648.18,483.28 L648.79,482.66 L649.41,482.02 L650.03,481.36 L650.65,480.69 L651.27,480 L651.89,479.3 L652.51,478.57 L653.13,477.83 L653.75,477.07 L654.37,476.29 L654.99,475.49 L655.6,474.67 L656.22,473.83 L656.84,472.97 L657.46,472.08 L658.08,471.17 L658.7,470.23 L659.32,469.27 L659.94,468.29 L660.56,467.28 L661.17,466.24 L661.79,465.17 L662.41,464.08 L663.03,462.95 L663.65,461.8 L664.27,460.61 L664.89,459.39 L665.51,458.14 L666.13,456.85 L666.75,455.53 L667.37,454.17 L667.98,452.77 L668.6,451.34 L669.22,449.86 L669.84,448.35 L670.46,446.79 L671.08,445.19 L671.7,443.55 L672.32,441.86 L672.94,440.13 L673.55,438.35 L674.17,436.53 L674.79,434.65 L675.41,432.73 L676.03,430.75 L676.65,428.72 L677.27,426.65 L677.89,424.51 L678.51,422.33 L679.13,420.09 L679.75,417.8 L680.36,415.45 L680.98,413.05 L681.6,410.59 L682.22,408.09 L682.84,405.52 L683.46,402.91 L684.08,400.24 L684.7,397.52 L685.32,394.76 L685.93,391.94 L686.55,389.09 L687.17,386.19 L687.79,383.25 L688.41,380.28 L689.03,377.27 L689.65,374.24 L690.27,371.19 L690.89,368.13 L691.51,365.06 L692.12,361.98 L692.74,358.91 L693.36,355.85 L693.98,352.82 L694.6,349.81 L695.22,346.85 L695.84,343.93 L696.46,341.08 L697.08,338.3 L697.7,335.61 L698.31,333.01 L698.93,330.51 L699.55,328.14 L700.17,325.89 L700.79,323.79 L701.41,321.84 L702.03,320.05 L702.65,318.43 L703.27,317 L703.89,315.76 L704.5,314.71 L705.12,313.87 L705.74,313.24 L706.36,312.82 L706.98,312.62 L707.6,312.64 L708.22,312.87 L708.84,313.32 L709.46,313.98 L710.08,314.85 L710.69,315.92 L711.31,317.19 L711.93,318.66 L712.55,320.3 L713.17,322.11 L713.79,324.08 L714.41,326.21 L715.03,328.47 L715.65,330.87 L716.27,333.38 L716.88,335.99 L717.5,338.7 L718.12,341.49 L718.74,344.35 L719.36,347.27 L719.98,350.24 L720.6,353.25 L721.22,356.29 L721.84,359.35 L722.46,362.42 L723.08,365.5 L723.69,368.57 L724.31,371.63 L724.93,374.68 L725.55,377.71 L726.17,380.71 L726.79,383.67 L727.41,386.61 L728.03,389.5 L728.65,392.35 L729.26,395.16 L729.88,397.92 L730.5,400.63 L731.12,403.29 L731.74,405.89 L732.36,408.45 L732.98,410.95 L733.6,413.4 L734.22,415.79 L734.84,418.13 L735.45,420.42 L736.07,422.65 L736.69,424.82 L737.31,426.95 L737.93,429.02 L738.55,431.04 L739.17,433.01 L739.79,434.92 L740.41,436.79 L741.03,438.61 L741.64,440.38 L742.26,442.11 L742.88,443.79 L743.5,445.43 L744.12,447.02 L744.74,448.57 L745.36,450.08 L745.98,451.55 L746.6,452.97 L747.22,454.37 L747.84,455.72 L748.45,457.04 L749.07,458.32 L749.69,459.57 L750.31,460.78 L750.93,461.96 L751.55,463.12 L752.17,464.24 L752.79,465.33 L753.41,466.39 L754.02,467.42 L754.64,468.43 L755.26,469.41 L755.88,470.37 L756.5,471.3 L757.12,472.21 L757.74,473.09 L758.36,473.95 L758.98,474.79 L759.6,475.61 L760.22,476.41 L760.83,477.18 L761.45,477.94 L762.07,478.68 L762.69,479.4 L763.31,480.1 L763.93,480.79 L764.55,481.46 L765.17,482.11 L765.79,482.75 L766.4,483.37 L767.02,483.98 L767.64,484.57 L768.26,485.15 L768.88,485.71 L769.5,486.26 L770.12,486.8 L770.74,487.33 L771.36,487.84 L771.98,488.34 L772.59,488.83 L773.21,489.31 L773.83,489.78 L774.45,490.24 L775.07,490.69 L775.69,491.13 L776.31,491.56 L776.93,491.98 L777.55,492.39 L778.17,492.79 L778.78,493.18 L779.4,493.56 L780.02,493.94 L780.64,494.31 L781.26,494.67 L781.88,495.02 L782.5,495.37 L783.12,495.7 L783.74,496.03 L784.36,496.36 L784.98,496.68 L785.59,496.99 L786.21,497.29 L786.83,497.59 L787.45,497.89 L788.07,498.17 L788.69,498.45 L789.31,498.73 L789.93,499 L790.55,499.27 L791.17,499.53 L791.78,499.78 L792.4,500.03 L793.02,500.28 L793.64,500.52 L794.26,500.76 L794.88,500.99 L795.5,501.21 L796.12,501.44 L796.74,501.66 L797.36,501.87 L797.97,502.08 L798.59,502.29 L799.21,502.5 L799.83,502.7 L800.45,502.89 L801.07,503.09 L801.69,503.28 L802.31,503.46 L802.93,503.65 L803.55,503.83 L804.16,504 L804.78,504.18 L805.4,504.35 L806.02,504.52 L806.64,504.68 L807.26,504.84 L807.88,505 L808.5,505.16 L809.12,505.32 L809.74,505.47 L810.35,505.62 L810.97,505.76 L811.59,505.91 L812.21,506.05 L812.83,506.19 L813.45,506.33 L814.07,506.46 L814.69,506.6 L815.31,506.73 L815.92,506.86 L816.54,506.98 L817.16,507.11 L817.78,507.23 L818.4,507.35 L819.02,507.47 L819.64,507.59 L820.26,507.71 L820.88,507.82 L821.5,507.93 L822.12,508.04 L822.73,508.15 L823.35,508.26 L823.97,508.37 L824.59,508.47 L825.21,508.57 L825.83,508.68 L826.45,508.77 L827.07,508.87 L827.69,508.97 L828.31,509.07 L828.92,509.16 L829.54,509.25 L830.16,509.34 L830.78,509.43 L831.4,509.52" stroke="#000" stroke-width="2.6" fill="none" stroke-linejoin="round"/>
<circle cx="605.15" cy="67.0" r="8" fill="#dd2a1b"/>
<circle cx="645.85" cy="127.5" r="8" fill="#dd2a1b"/>
<circle cx="681.15" cy="170.35" r="8" fill="#dd2a1b"/>
<circle cx="707.75" cy="190.85" r="8" fill="#dd2a1b"/>
<circle cx="730.6" cy="177.0" r="8" fill="#dd2a1b"/>
<circle cx="757.1" cy="151.85" r="8" fill="#dd2a1b"/>
<circle cx="783.8" cy="114.1" r="8" fill="#dd2a1b"/>
<circle cx="810.1" cy="75.45" r="8" fill="#dd2a1b"/>
<circle cx="605.1" cy="504.4" r="8" fill="#0072b8"/>
<circle cx="646.0" cy="490.1" r="8" fill="#0072b8"/>
<circle cx="681.1" cy="424.1" r="8" fill="#0072b8"/>
<circle cx="707.6" cy="314.9" r="8" fill="#0072b8"/>
<circle cx="730.6" cy="399.4" r="8" fill="#0072b8"/>
<circle cx="757.1" cy="465.2" r="8" fill="#0072b8"/>
<circle cx="783.8" cy="490.0" r="8" fill="#0072b8"/>
<circle cx="810.1" cy="500.3" r="8" fill="#0072b8"/>
<text x="112.80" y="43.50" font-size="30" >(a)</text>
<text x="112.00" y="303.50" font-size="30" >(b)</text>
<text x="595.20" y="44.00" font-size="30" >(c)</text>
<text x="595.30" y="303.50" font-size="30" >(d)</text>
<text x="112.40" y="102.70" font-size="30" font-style="italic">φ</text>
<text x="128.40" y="106.30" font-size="21" >1</text>
<text x="263.10" y="102.70" font-size="30" font-style="italic">φ</text>
<text x="279.10" y="106.60" font-size="21" >2</text>
<text x="66.50" y="57.70" font-size="30" >1</text>
<text x="68.30" y="153.10" font-size="30" >0</text>
<text x="66.50" y="247.40" font-size="30" >1</text>
<text x="66.50" y="316.60" font-size="30" >1</text>
<text x="68.30" y="412.00" font-size="30" >0</text>
<text x="66.50" y="506.30" font-size="30" >1</text>
<text x="93.90" y="556.50" font-size="30" >0</text>
<text x="193.80" y="556.40" font-size="30" >10</text>
<text x="300.10" y="556.60" font-size="30" >20</text>
<text x="406.90" y="556.60" font-size="30" >30</text>
<text x="514.40" y="556.60" font-size="30" >40</text>
<text x="274.10" y="594.90" font-size="30"  letter-spacing="-0.35">time</text>
<text x="332.80" y="594.20" font-size="30" >(min)</text>
<text x="631.30" y="557.10" font-size="30" >10</text>
<text x="702.50" y="557.10" font-size="30" >12</text>
<text x="772.30" y="557.10" font-size="30" >14</text>
<text x="631.30" y="596.10" font-size="30" >Δ</text>
<text x="664.80" y="596.50" font-size="30" >2</text>
<text x="681.00" y="596.90" font-size="30" font-style="italic">π</text>
<text x="704.90" y="596.00" font-size="30" >(mHz)</text>
<text x="848.00" y="19.40" font-size="30" >4</text>
<text x="848.50" y="75.10" font-size="30" >3</text>
<text x="848.70" y="129.50" font-size="30" >2</text>
<text x="848.50" y="184.10" font-size="30" >1</text>
<text x="848.70" y="239.60" font-size="30" >0</text>
<text x="848.50" y="320.00" font-size="30" >1</text>
<text x="848.50" y="423.20" font-size="30" >0.5</text>
<text x="848.90" y="525.50" font-size="30" >0</text>
<text x="709.20" y="46.70" font-size="31" >Ω</text>
<text x="745.90" y="46.00" font-size="30" >2</text>
<text x="763.50" y="46.20" font-size="30" font-style="italic">π</text>
<text x="595.80" y="215.90" font-size="31" >Ω</text>
<text x="618.40" y="219.90" font-size="22" >R</text>
<text x="648.70" y="214.30" font-size="30" >2</text>
<text x="664.90" y="215.20" font-size="30" font-style="italic">π</text>
<text transform="translate(21.80,379.30) rotate(-90)" font-size="30" >deﬂection</text>
<text transform="translate(21.60,255.20) rotate(-90)" font-size="30"  letter-spacing="1.35">angle</text>
<text transform="translate(20.50,178.90) rotate(-90)" font-size="30" font-style="italic">φ</text>
<text transform="translate(28.40,164.80) rotate(-90)" font-size="21" font-style="italic">k</text>
<text transform="translate(21.30,146.50) rotate(-90)" font-size="30" >(</text>
<text transform="translate(21.30,124.80) rotate(-90)" font-size="30" >)</text>
<text transform="translate(889.90,46.20) rotate(90)" font-size="30" >Ω</text>
<text transform="translate(884.50,70.30) rotate(90)" font-size="21" >eff</text>
<text transform="translate(888.20,109.10) rotate(90)" font-size="30" >2</text>
<text transform="translate(889.60,123.30) rotate(90)" font-size="30" font-style="italic">π</text>
<text transform="translate(888.60,148.30) rotate(90)" font-size="30"  letter-spacing="-0.35">(mHz)</text>
<text transform="translate(909.90,331.20) rotate(90)" font-size="30"  letter-spacing="-0.4">visibility</text>
<text transform="translate(910.80,443.70) rotate(90)" font-size="30" font-style="italic">v</text>
<path d="M734.6,53.0 L744.7,24.0" stroke="#000" stroke-width="1.7"/>
<path d="M636.6,221.3 L646.8,193.5" stroke="#000" stroke-width="1.7"/>
<path d="M652.8,604.5 L662.8,575.5" stroke="#000" stroke-width="1.7"/>
<path d="M48.1,240.45 H65.9" stroke="#000" stroke-width="1.35"/>
<path d="M48.1,499.75 H65.9" stroke="#000" stroke-width="1.35"/>
<path d="M882.8,95.8 L910.9,106.7" stroke="#000" stroke-width="1.7"/>
<circle cx="5.0" cy="132.4" r="3.35" fill="none" stroke="#000" stroke-width="1.15"/>
</svg>
</body></html>
